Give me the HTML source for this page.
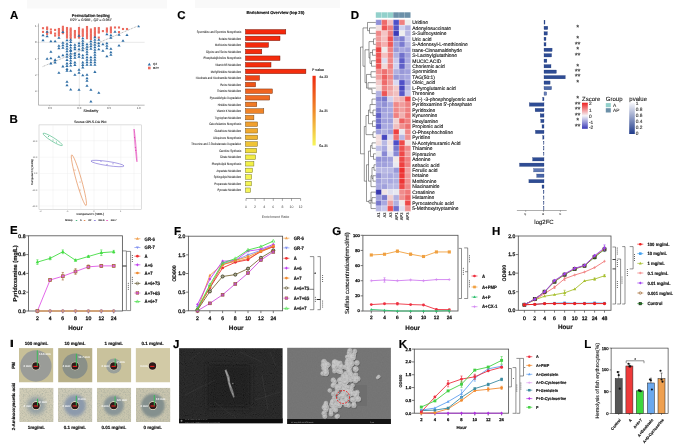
<!DOCTYPE html>
<html><head><meta charset="utf-8"><style>
html,body{margin:0;padding:0;background:#fff;}
svg text{font-family:"Liberation Sans", sans-serif;text-rendering:geometricPrecision;opacity:0.995;}
#fig{display:block;}
</style></head><body>
<svg id="fig" width="685" height="447" viewBox="0 0 685 447">
<rect x="0" y="0" width="685" height="447" fill="#fff"/>
<text x="10.00" y="18.80" font-size="11.5" text-anchor="start" fill="#000" font-weight="bold" stroke="#000" stroke-width="0.16">A</text>
<rect x="27.00" y="0.00" width="140.00" height="8.50" fill="#f9f9f9"/>
<rect x="195.00" y="0.00" width="145.00" height="8.00" fill="#f9f9f9"/>
<text x="90.85" y="16.90" font-size="4.05" text-anchor="middle" fill="#222" font-weight="bold" stroke="#222" stroke-width="0.16">Permutation testing</text>
<text x="90.85" y="21.20" font-size="3.66" text-anchor="middle" fill="#333" stroke="#333" stroke-width="0.12" font-style="italic">R2Y = 0.988 ,  Q2 = 0.957</text>
<line x1="38.50" y1="42.30" x2="144.60" y2="42.30" stroke="#d0d0d0" stroke-width="0.5"/>
<line x1="79.30" y1="23.50" x2="79.30" y2="105.20" stroke="#d0d0d0" stroke-width="0.5"/>
<line x1="38.50" y1="23.50" x2="38.50" y2="105.20" stroke="#777" stroke-width="0.5"/>
<line x1="38.50" y1="105.20" x2="144.60" y2="105.20" stroke="#777" stroke-width="0.5"/>
<text x="36.50" y="27.05" font-size="2.8" text-anchor="end" fill="#444">1</text>
<line x1="37.50" y1="26.05" x2="38.50" y2="26.05" stroke="#777" stroke-width="0.4"/>
<text x="36.50" y="43.30" font-size="2.8" text-anchor="end" fill="#444">0</text>
<line x1="37.50" y1="42.30" x2="38.50" y2="42.30" stroke="#777" stroke-width="0.4"/>
<text x="36.50" y="59.55" font-size="2.8" text-anchor="end" fill="#444">-1</text>
<line x1="37.50" y1="58.55" x2="38.50" y2="58.55" stroke="#777" stroke-width="0.4"/>
<text x="36.50" y="75.80" font-size="2.8" text-anchor="end" fill="#444">-2</text>
<line x1="37.50" y1="74.80" x2="38.50" y2="74.80" stroke="#777" stroke-width="0.4"/>
<text x="36.50" y="92.05" font-size="2.8" text-anchor="end" fill="#444">-3</text>
<line x1="37.50" y1="91.05" x2="38.50" y2="91.05" stroke="#777" stroke-width="0.4"/>
<text x="49.60" y="108.60" font-size="2.8" text-anchor="middle" fill="#444">-0.5</text>
<line x1="49.60" y1="105.20" x2="49.60" y2="106.20" stroke="#777" stroke-width="0.4"/>
<text x="79.30" y="108.60" font-size="2.8" text-anchor="middle" fill="#444">0.0</text>
<line x1="79.30" y1="105.20" x2="79.30" y2="106.20" stroke="#777" stroke-width="0.4"/>
<text x="109.00" y="108.60" font-size="2.8" text-anchor="middle" fill="#444">0.5</text>
<line x1="109.00" y1="105.20" x2="109.00" y2="106.20" stroke="#777" stroke-width="0.4"/>
<text x="138.70" y="108.60" font-size="2.8" text-anchor="middle" fill="#444">1.0</text>
<line x1="138.70" y1="105.20" x2="138.70" y2="106.20" stroke="#777" stroke-width="0.4"/>
<text x="90.90" y="111.70" font-size="3.6" text-anchor="middle" fill="#222" stroke="#222" stroke-width="0.12">Similarity</text>
<line x1="42.70" y1="66.60" x2="138.70" y2="25.60" stroke="#555" stroke-width="0.5" stroke-dasharray="0.8,0.8"/>
<rect x="41.95" y="27.15" width="2.10" height="2.10" fill="#ec6a5e"/>
<rect x="41.95" y="30.85" width="2.10" height="2.10" fill="#ec6a5e"/>
<rect x="46.05" y="26.45" width="2.10" height="2.10" fill="#ec6a5e"/>
<rect x="46.05" y="27.95" width="2.10" height="2.10" fill="#ec6a5e"/>
<rect x="46.05" y="30.85" width="2.10" height="2.10" fill="#ec6a5e"/>
<rect x="46.05" y="32.85" width="2.10" height="2.10" fill="#ec6a5e"/>
<rect x="49.85" y="28.45" width="2.10" height="2.10" fill="#ec6a5e"/>
<rect x="49.85" y="31.05" width="2.10" height="2.10" fill="#ec6a5e"/>
<rect x="49.85" y="32.05" width="2.10" height="2.10" fill="#ec6a5e"/>
<rect x="54.05" y="28.85" width="2.10" height="2.10" fill="#ec6a5e"/>
<rect x="54.05" y="32.55" width="2.10" height="2.10" fill="#ec6a5e"/>
<rect x="54.05" y="34.55" width="2.10" height="2.10" fill="#ec6a5e"/>
<rect x="57.85" y="27.95" width="2.10" height="2.10" fill="#ec6a5e"/>
<rect x="57.85" y="29.55" width="2.10" height="2.10" fill="#ec6a5e"/>
<rect x="57.85" y="31.15" width="2.10" height="2.10" fill="#ec6a5e"/>
<rect x="57.85" y="32.75" width="2.10" height="2.10" fill="#ec6a5e"/>
<rect x="57.85" y="34.35" width="2.10" height="2.10" fill="#ec6a5e"/>
<rect x="61.85" y="25.75" width="2.10" height="2.10" fill="#ec6a5e"/>
<rect x="61.85" y="27.35" width="2.10" height="2.10" fill="#ec6a5e"/>
<rect x="61.85" y="28.95" width="2.10" height="2.10" fill="#ec6a5e"/>
<rect x="61.85" y="30.55" width="2.10" height="2.10" fill="#ec6a5e"/>
<rect x="61.85" y="32.15" width="2.10" height="2.10" fill="#ec6a5e"/>
<rect x="65.95" y="26.95" width="2.10" height="2.10" fill="#ec6a5e"/>
<rect x="65.95" y="28.55" width="2.10" height="2.10" fill="#ec6a5e"/>
<rect x="65.95" y="30.15" width="2.10" height="2.10" fill="#ec6a5e"/>
<rect x="65.95" y="31.75" width="2.10" height="2.10" fill="#ec6a5e"/>
<rect x="65.95" y="33.35" width="2.10" height="2.10" fill="#ec6a5e"/>
<rect x="65.95" y="34.95" width="2.10" height="2.10" fill="#ec6a5e"/>
<rect x="65.95" y="36.55" width="2.10" height="2.10" fill="#ec6a5e"/>
<rect x="69.65" y="27.45" width="2.10" height="2.10" fill="#ec6a5e"/>
<rect x="69.65" y="29.05" width="2.10" height="2.10" fill="#ec6a5e"/>
<rect x="69.65" y="30.65" width="2.10" height="2.10" fill="#ec6a5e"/>
<rect x="69.65" y="32.25" width="2.10" height="2.10" fill="#ec6a5e"/>
<rect x="69.65" y="33.85" width="2.10" height="2.10" fill="#ec6a5e"/>
<rect x="69.65" y="35.45" width="2.10" height="2.10" fill="#ec6a5e"/>
<rect x="69.65" y="37.05" width="2.10" height="2.10" fill="#ec6a5e"/>
<rect x="73.85" y="29.95" width="2.10" height="2.10" fill="#ec6a5e"/>
<rect x="73.85" y="31.55" width="2.10" height="2.10" fill="#ec6a5e"/>
<rect x="73.85" y="33.15" width="2.10" height="2.10" fill="#ec6a5e"/>
<rect x="73.85" y="34.75" width="2.10" height="2.10" fill="#ec6a5e"/>
<rect x="73.85" y="36.35" width="2.10" height="2.10" fill="#ec6a5e"/>
<rect x="77.95" y="26.95" width="2.10" height="2.10" fill="#ec6a5e"/>
<rect x="77.95" y="28.55" width="2.10" height="2.10" fill="#ec6a5e"/>
<rect x="77.95" y="30.15" width="2.10" height="2.10" fill="#ec6a5e"/>
<rect x="77.95" y="31.75" width="2.10" height="2.10" fill="#ec6a5e"/>
<rect x="77.95" y="33.35" width="2.10" height="2.10" fill="#ec6a5e"/>
<rect x="77.95" y="34.95" width="2.10" height="2.10" fill="#ec6a5e"/>
<rect x="77.95" y="36.55" width="2.10" height="2.10" fill="#ec6a5e"/>
<rect x="81.75" y="28.45" width="2.10" height="2.10" fill="#ec6a5e"/>
<rect x="81.75" y="30.05" width="2.10" height="2.10" fill="#ec6a5e"/>
<rect x="81.75" y="31.65" width="2.10" height="2.10" fill="#ec6a5e"/>
<rect x="81.75" y="33.25" width="2.10" height="2.10" fill="#ec6a5e"/>
<rect x="81.75" y="34.85" width="2.10" height="2.10" fill="#ec6a5e"/>
<rect x="85.95" y="25.95" width="2.10" height="2.10" fill="#ec6a5e"/>
<rect x="85.95" y="27.55" width="2.10" height="2.10" fill="#ec6a5e"/>
<rect x="85.95" y="29.15" width="2.10" height="2.10" fill="#ec6a5e"/>
<rect x="85.95" y="30.75" width="2.10" height="2.10" fill="#ec6a5e"/>
<rect x="85.95" y="32.35" width="2.10" height="2.10" fill="#ec6a5e"/>
<rect x="85.95" y="33.95" width="2.10" height="2.10" fill="#ec6a5e"/>
<rect x="85.95" y="35.55" width="2.10" height="2.10" fill="#ec6a5e"/>
<rect x="85.95" y="37.15" width="2.10" height="2.10" fill="#ec6a5e"/>
<rect x="89.85" y="28.45" width="2.10" height="2.10" fill="#ec6a5e"/>
<rect x="89.85" y="30.05" width="2.10" height="2.10" fill="#ec6a5e"/>
<rect x="89.85" y="31.65" width="2.10" height="2.10" fill="#ec6a5e"/>
<rect x="89.85" y="33.25" width="2.10" height="2.10" fill="#ec6a5e"/>
<rect x="89.85" y="34.85" width="2.10" height="2.10" fill="#ec6a5e"/>
<rect x="89.85" y="36.45" width="2.10" height="2.10" fill="#ec6a5e"/>
<rect x="89.85" y="38.05" width="2.10" height="2.10" fill="#ec6a5e"/>
<rect x="93.85" y="27.15" width="2.10" height="2.10" fill="#ec6a5e"/>
<rect x="93.85" y="28.75" width="2.10" height="2.10" fill="#ec6a5e"/>
<rect x="93.85" y="30.35" width="2.10" height="2.10" fill="#ec6a5e"/>
<rect x="93.85" y="31.95" width="2.10" height="2.10" fill="#ec6a5e"/>
<rect x="93.85" y="33.55" width="2.10" height="2.10" fill="#ec6a5e"/>
<rect x="93.85" y="35.15" width="2.10" height="2.10" fill="#ec6a5e"/>
<rect x="97.75" y="26.95" width="2.10" height="2.10" fill="#ec6a5e"/>
<rect x="97.75" y="28.75" width="2.10" height="2.10" fill="#ec6a5e"/>
<rect x="97.75" y="30.55" width="2.10" height="2.10" fill="#ec6a5e"/>
<rect x="97.75" y="31.55" width="2.10" height="2.10" fill="#ec6a5e"/>
<rect x="97.75" y="36.55" width="2.10" height="2.10" fill="#ec6a5e"/>
<rect x="101.85" y="30.05" width="2.10" height="2.10" fill="#ec6a5e"/>
<rect x="105.85" y="27.45" width="2.10" height="2.10" fill="#ec6a5e"/>
<rect x="105.85" y="29.05" width="2.10" height="2.10" fill="#ec6a5e"/>
<rect x="105.85" y="30.65" width="2.10" height="2.10" fill="#ec6a5e"/>
<rect x="109.85" y="26.45" width="2.10" height="2.10" fill="#ec6a5e"/>
<rect x="109.85" y="28.05" width="2.10" height="2.10" fill="#ec6a5e"/>
<rect x="109.85" y="29.65" width="2.10" height="2.10" fill="#ec6a5e"/>
<rect x="109.85" y="31.25" width="2.10" height="2.10" fill="#ec6a5e"/>
<rect x="113.95" y="26.45" width="2.10" height="2.10" fill="#ec6a5e"/>
<rect x="117.95" y="26.45" width="2.10" height="2.10" fill="#ec6a5e"/>
<rect x="117.95" y="31.05" width="2.10" height="2.10" fill="#ec6a5e"/>
<rect x="121.95" y="27.95" width="2.10" height="2.10" fill="#ec6a5e"/>
<rect x="125.95" y="27.95" width="2.10" height="2.10" fill="#ec6a5e"/>
<polygon points="43.00,33.65 41.40,36.20 44.60,36.20" fill="#2f6ea5"/>
<polygon points="43.00,38.65 41.40,41.20 44.60,41.20" fill="#2f6ea5"/>
<polygon points="47.10,30.15 45.50,32.70 48.70,32.70" fill="#2f6ea5"/>
<polygon points="47.10,34.65 45.50,37.20 48.70,37.20" fill="#2f6ea5"/>
<polygon points="47.10,57.25 45.50,59.80 48.70,59.80" fill="#2f6ea5"/>
<polygon points="50.90,39.65 49.30,42.20 52.50,42.20" fill="#2f6ea5"/>
<polygon points="50.90,50.25 49.30,52.80 52.50,52.80" fill="#2f6ea5"/>
<polygon points="50.90,56.75 49.30,59.30 52.50,59.30" fill="#2f6ea5"/>
<polygon points="50.90,61.85 49.30,64.40 52.50,64.40" fill="#2f6ea5"/>
<polygon points="55.10,39.65 53.50,42.20 56.70,42.20" fill="#2f6ea5"/>
<polygon points="55.10,58.35 53.50,60.90 56.70,60.90" fill="#2f6ea5"/>
<polygon points="55.10,60.85 53.50,63.40 56.70,63.40" fill="#2f6ea5"/>
<polygon points="58.90,36.15 57.30,38.70 60.50,38.70" fill="#2f6ea5"/>
<polygon points="58.90,44.25 57.30,46.80 60.50,46.80" fill="#2f6ea5"/>
<polygon points="58.90,46.75 57.30,49.30 60.50,49.30" fill="#2f6ea5"/>
<polygon points="58.90,55.25 57.30,57.80 60.50,57.80" fill="#2f6ea5"/>
<polygon points="58.90,71.15 57.30,73.70 60.50,73.70" fill="#2f6ea5"/>
<polygon points="62.90,30.55 61.30,33.10 64.50,33.10" fill="#2f6ea5"/>
<polygon points="62.90,41.15 61.30,43.70 64.50,43.70" fill="#2f6ea5"/>
<polygon points="62.90,43.65 61.30,46.20 64.50,46.20" fill="#2f6ea5"/>
<polygon points="62.90,46.15 61.30,48.70 64.50,48.70" fill="#2f6ea5"/>
<polygon points="62.90,53.75 61.30,56.30 64.50,56.30" fill="#2f6ea5"/>
<polygon points="62.90,64.85 61.30,67.40 64.50,67.40" fill="#2f6ea5"/>
<polygon points="67.00,38.65 65.40,41.20 68.60,41.20" fill="#2f6ea5"/>
<polygon points="67.00,42.15 65.40,44.70 68.60,44.70" fill="#2f6ea5"/>
<polygon points="67.00,44.65 65.40,47.20 68.60,47.20" fill="#2f6ea5"/>
<polygon points="67.00,47.15 65.40,49.70 68.60,49.70" fill="#2f6ea5"/>
<polygon points="67.00,49.75 65.40,52.30 68.60,52.30" fill="#2f6ea5"/>
<polygon points="67.00,52.75 65.40,55.30 68.60,55.30" fill="#2f6ea5"/>
<polygon points="67.00,55.25 65.40,57.80 68.60,57.80" fill="#2f6ea5"/>
<polygon points="67.00,58.35 65.40,60.90 68.60,60.90" fill="#2f6ea5"/>
<polygon points="67.00,61.85 65.40,64.40 68.60,64.40" fill="#2f6ea5"/>
<polygon points="67.00,64.35 65.40,66.90 68.60,66.90" fill="#2f6ea5"/>
<polygon points="67.00,67.55 65.40,70.10 68.60,70.10" fill="#2f6ea5"/>
<polygon points="67.00,69.15 65.40,71.70 68.60,71.70" fill="#2f6ea5"/>
<polygon points="67.00,80.15 65.40,82.70 68.60,82.70" fill="#2f6ea5"/>
<polygon points="67.00,83.75 65.40,86.30 68.60,86.30" fill="#2f6ea5"/>
<polygon points="70.70,38.15 69.10,40.70 72.30,40.70" fill="#2f6ea5"/>
<polygon points="70.70,40.55 69.10,43.10 72.30,43.10" fill="#2f6ea5"/>
<polygon points="70.70,43.55 69.10,46.10 72.30,46.10" fill="#2f6ea5"/>
<polygon points="70.70,46.05 69.10,48.60 72.30,48.60" fill="#2f6ea5"/>
<polygon points="70.70,48.55 69.10,51.10 72.30,51.10" fill="#2f6ea5"/>
<polygon points="70.70,49.55 69.10,52.10 72.30,52.10" fill="#2f6ea5"/>
<polygon points="70.70,52.05 69.10,54.60 72.30,54.60" fill="#2f6ea5"/>
<polygon points="70.70,54.55 69.10,57.10 72.30,57.10" fill="#2f6ea5"/>
<polygon points="70.70,56.55 69.10,59.10 72.30,59.10" fill="#2f6ea5"/>
<polygon points="70.70,59.05 69.10,61.60 72.30,61.60" fill="#2f6ea5"/>
<polygon points="70.70,61.55 69.10,64.10 72.30,64.10" fill="#2f6ea5"/>
<polygon points="70.70,64.05 69.10,66.60 72.30,66.60" fill="#2f6ea5"/>
<polygon points="70.70,69.15 69.10,71.70 72.30,71.70" fill="#2f6ea5"/>
<polygon points="70.70,87.95 69.10,90.50 72.30,90.50" fill="#2f6ea5"/>
<polygon points="74.90,43.15 73.30,45.70 76.50,45.70" fill="#2f6ea5"/>
<polygon points="74.90,45.65 73.30,48.20 76.50,48.20" fill="#2f6ea5"/>
<polygon points="74.90,47.75 73.30,50.30 76.50,50.30" fill="#2f6ea5"/>
<polygon points="74.90,51.75 73.30,54.30 76.50,54.30" fill="#2f6ea5"/>
<polygon points="74.90,53.75 73.30,56.30 76.50,56.30" fill="#2f6ea5"/>
<polygon points="74.90,56.25 73.30,58.80 76.50,58.80" fill="#2f6ea5"/>
<polygon points="74.90,60.85 73.30,63.40 76.50,63.40" fill="#2f6ea5"/>
<polygon points="74.90,63.35 73.30,65.90 76.50,65.90" fill="#2f6ea5"/>
<polygon points="74.90,73.15 73.30,75.70 76.50,75.70" fill="#2f6ea5"/>
<polygon points="79.00,34.15 77.40,36.70 80.60,36.70" fill="#2f6ea5"/>
<polygon points="79.00,41.65 77.40,44.20 80.60,44.20" fill="#2f6ea5"/>
<polygon points="79.00,44.15 77.40,46.70 80.60,46.70" fill="#2f6ea5"/>
<polygon points="79.00,47.75 77.40,50.30 80.60,50.30" fill="#2f6ea5"/>
<polygon points="79.00,52.75 77.40,55.30 80.60,55.30" fill="#2f6ea5"/>
<polygon points="79.00,55.25 77.40,57.80 80.60,57.80" fill="#2f6ea5"/>
<polygon points="79.00,68.15 77.40,70.70 80.60,70.70" fill="#2f6ea5"/>
<polygon points="79.00,71.15 77.40,73.70 80.60,73.70" fill="#2f6ea5"/>
<polygon points="79.00,88.25 77.40,90.80 80.60,90.80" fill="#2f6ea5"/>
<polygon points="82.80,36.65 81.20,39.20 84.40,39.20" fill="#2f6ea5"/>
<polygon points="82.80,39.15 81.20,41.70 84.40,41.70" fill="#2f6ea5"/>
<polygon points="82.80,41.65 81.20,44.20 84.40,44.20" fill="#2f6ea5"/>
<polygon points="82.80,43.75 81.20,46.30 84.40,46.30" fill="#2f6ea5"/>
<polygon points="82.80,46.25 81.20,48.80 84.40,48.80" fill="#2f6ea5"/>
<polygon points="82.80,48.75 81.20,51.30 84.40,51.30" fill="#2f6ea5"/>
<polygon points="82.80,53.75 81.20,56.30 84.40,56.30" fill="#2f6ea5"/>
<polygon points="82.80,56.25 81.20,58.80 84.40,58.80" fill="#2f6ea5"/>
<polygon points="82.80,60.85 81.20,63.40 84.40,63.40" fill="#2f6ea5"/>
<polygon points="82.80,63.35 81.20,65.90 84.40,65.90" fill="#2f6ea5"/>
<polygon points="82.80,65.85 81.20,68.40 84.40,68.40" fill="#2f6ea5"/>
<polygon points="82.80,73.65 81.20,76.20 84.40,76.20" fill="#2f6ea5"/>
<polygon points="87.00,42.65 85.40,45.20 88.60,45.20" fill="#2f6ea5"/>
<polygon points="87.00,45.15 85.40,47.70 88.60,47.70" fill="#2f6ea5"/>
<polygon points="87.00,47.65 85.40,50.20 88.60,50.20" fill="#2f6ea5"/>
<polygon points="87.00,50.15 85.40,52.70 88.60,52.70" fill="#2f6ea5"/>
<polygon points="87.00,52.65 85.40,55.20 88.60,55.20" fill="#2f6ea5"/>
<polygon points="87.00,55.75 85.40,58.30 88.60,58.30" fill="#2f6ea5"/>
<polygon points="87.00,58.25 85.40,60.80 88.60,60.80" fill="#2f6ea5"/>
<polygon points="87.00,60.75 85.40,63.30 88.60,63.30" fill="#2f6ea5"/>
<polygon points="87.00,63.25 85.40,65.80 88.60,65.80" fill="#2f6ea5"/>
<polygon points="87.00,73.15 85.40,75.70 88.60,75.70" fill="#2f6ea5"/>
<polygon points="87.00,76.65 85.40,79.20 88.60,79.20" fill="#2f6ea5"/>
<polygon points="87.00,79.15 85.40,81.70 88.60,81.70" fill="#2f6ea5"/>
<polygon points="87.00,84.25 85.40,86.80 88.60,86.80" fill="#2f6ea5"/>
<polygon points="90.90,39.65 89.30,42.20 92.50,42.20" fill="#2f6ea5"/>
<polygon points="90.90,42.15 89.30,44.70 92.50,44.70" fill="#2f6ea5"/>
<polygon points="90.90,44.65 89.30,47.20 92.50,47.20" fill="#2f6ea5"/>
<polygon points="90.90,47.15 89.30,49.70 92.50,49.70" fill="#2f6ea5"/>
<polygon points="90.90,55.75 89.30,58.30 92.50,58.30" fill="#2f6ea5"/>
<polygon points="90.90,58.25 89.30,60.80 92.50,60.80" fill="#2f6ea5"/>
<polygon points="90.90,60.75 89.30,63.30 92.50,63.30" fill="#2f6ea5"/>
<polygon points="90.90,63.25 89.30,65.80 92.50,65.80" fill="#2f6ea5"/>
<polygon points="90.90,88.25 89.30,90.80 92.50,90.80" fill="#2f6ea5"/>
<polygon points="90.90,100.05 89.30,102.60 92.50,102.60" fill="#2f6ea5"/>
<polygon points="94.90,35.65 93.30,38.20 96.50,38.20" fill="#2f6ea5"/>
<polygon points="94.90,38.15 93.30,40.70 96.50,40.70" fill="#2f6ea5"/>
<polygon points="94.90,40.65 93.30,43.20 96.50,43.20" fill="#2f6ea5"/>
<polygon points="94.90,43.15 93.30,45.70 96.50,45.70" fill="#2f6ea5"/>
<polygon points="94.90,45.65 93.30,48.20 96.50,48.20" fill="#2f6ea5"/>
<polygon points="94.90,48.15 93.30,50.70 96.50,50.70" fill="#2f6ea5"/>
<polygon points="94.90,50.65 93.30,53.20 96.50,53.20" fill="#2f6ea5"/>
<polygon points="94.90,53.15 93.30,55.70 96.50,55.70" fill="#2f6ea5"/>
<polygon points="94.90,55.65 93.30,58.20 96.50,58.20" fill="#2f6ea5"/>
<polygon points="94.90,58.15 93.30,60.70 96.50,60.70" fill="#2f6ea5"/>
<polygon points="94.90,60.65 93.30,63.20 96.50,63.20" fill="#2f6ea5"/>
<polygon points="94.90,63.15 93.30,65.70 96.50,65.70" fill="#2f6ea5"/>
<polygon points="94.90,70.35 93.30,72.90 96.50,72.90" fill="#2f6ea5"/>
<polygon points="98.80,38.15 97.20,40.70 100.40,40.70" fill="#2f6ea5"/>
<polygon points="98.80,41.65 97.20,44.20 100.40,44.20" fill="#2f6ea5"/>
<polygon points="98.80,44.25 97.20,46.80 100.40,46.80" fill="#2f6ea5"/>
<polygon points="98.80,47.75 97.20,50.30 100.40,50.30" fill="#2f6ea5"/>
<polygon points="98.80,91.25 97.20,93.80 100.40,93.80" fill="#2f6ea5"/>
<polygon points="102.90,42.65 101.30,45.20 104.50,45.20" fill="#2f6ea5"/>
<polygon points="102.90,49.25 101.30,51.80 104.50,51.80" fill="#2f6ea5"/>
<polygon points="106.90,32.65 105.30,35.20 108.50,35.20" fill="#2f6ea5"/>
<polygon points="106.90,41.65 105.30,44.20 108.50,44.20" fill="#2f6ea5"/>
<polygon points="106.90,44.15 105.30,46.70 108.50,46.70" fill="#2f6ea5"/>
<polygon points="106.90,46.65 105.30,49.20 108.50,49.20" fill="#2f6ea5"/>
<polygon points="106.90,54.75 105.30,57.30 108.50,57.30" fill="#2f6ea5"/>
<polygon points="110.90,33.65 109.30,36.20 112.50,36.20" fill="#2f6ea5"/>
<polygon points="110.90,36.15 109.30,38.70 112.50,38.70" fill="#2f6ea5"/>
<polygon points="110.90,47.25 109.30,49.80 112.50,49.80" fill="#2f6ea5"/>
<polygon points="110.90,50.75 109.30,53.30 112.50,53.30" fill="#2f6ea5"/>
<polygon points="110.90,53.25 109.30,55.80 112.50,55.80" fill="#2f6ea5"/>
<polygon points="115.00,30.15 113.40,32.70 116.60,32.70" fill="#2f6ea5"/>
<polygon points="119.00,33.15 117.40,35.70 120.60,35.70" fill="#2f6ea5"/>
<polygon points="119.00,43.95 117.40,46.50 120.60,46.50" fill="#2f6ea5"/>
<polygon points="123.00,39.15 121.40,41.70 124.60,41.70" fill="#2f6ea5"/>
<polygon points="127.00,33.45 125.40,36.00 128.60,36.00" fill="#2f6ea5"/>
<polygon points="138.70,25.00 137.35,27.20 140.05,27.20" fill="#2f6ea5"/>
<polygon points="149.30,62.80 147.70,65.60 150.90,65.60" fill="#2f6ea5"/>
<text x="153.10" y="65.40" font-size="3.0" text-anchor="start" fill="#333" stroke="#333" stroke-width="0.12">Q2</text>
<rect x="148.00" y="66.70" width="2.60" height="2.60" fill="#ec6a5e"/>
<text x="153.10" y="69.10" font-size="3.0" text-anchor="start" fill="#333" stroke="#333" stroke-width="0.12">R2Y</text>
<text x="9.60" y="122.60" font-size="11.5" text-anchor="start" fill="#000" font-weight="bold" stroke="#000" stroke-width="0.16">B</text>
<text x="90.30" y="123.40" font-size="3.3" text-anchor="middle" fill="#222" stroke="#222" stroke-width="0.12">Scores OPLS-DA Plot</text>
<rect x="39.00" y="124.90" width="102.70" height="84.50" fill="#fff" stroke="#bbb" stroke-width="0.5"/>
<line x1="53.00" y1="124.90" x2="53.00" y2="209.40" stroke="#ececec" stroke-width="0.4"/>
<line x1="67.50" y1="124.90" x2="67.50" y2="209.40" stroke="#ececec" stroke-width="0.4"/>
<line x1="80.80" y1="124.90" x2="80.80" y2="209.40" stroke="#ececec" stroke-width="0.4"/>
<line x1="94.00" y1="124.90" x2="94.00" y2="209.40" stroke="#ececec" stroke-width="0.4"/>
<line x1="107.50" y1="124.90" x2="107.50" y2="209.40" stroke="#ececec" stroke-width="0.4"/>
<line x1="120.80" y1="124.90" x2="120.80" y2="209.40" stroke="#ececec" stroke-width="0.4"/>
<line x1="134.00" y1="124.90" x2="134.00" y2="209.40" stroke="#ececec" stroke-width="0.4"/>
<line x1="39.00" y1="140.70" x2="141.70" y2="140.70" stroke="#ececec" stroke-width="0.4"/>
<line x1="39.00" y1="157.20" x2="141.70" y2="157.20" stroke="#ececec" stroke-width="0.4"/>
<line x1="39.00" y1="173.60" x2="141.70" y2="173.60" stroke="#ececec" stroke-width="0.4"/>
<line x1="39.00" y1="190.00" x2="141.70" y2="190.00" stroke="#ececec" stroke-width="0.4"/>
<line x1="39.00" y1="206.00" x2="141.70" y2="206.00" stroke="#ececec" stroke-width="0.4"/>
<text x="37.30" y="141.50" font-size="2.3" text-anchor="end" fill="#555">20.0</text>
<text x="37.30" y="158.00" font-size="2.3" text-anchor="end" fill="#555">10.0</text>
<text x="37.30" y="174.40" font-size="2.3" text-anchor="end" fill="#555">0.0</text>
<text x="37.30" y="190.80" font-size="2.3" text-anchor="end" fill="#555">-10.0</text>
<text x="37.30" y="206.80" font-size="2.3" text-anchor="end" fill="#555">-20.0</text>
<text x="40.50" y="212.30" font-size="2.3" text-anchor="middle" fill="#555">-2</text>
<text x="67.40" y="212.30" font-size="2.3" text-anchor="middle" fill="#555">-1</text>
<text x="94.00" y="212.30" font-size="2.3" text-anchor="middle" fill="#555">0</text>
<text x="120.60" y="212.30" font-size="2.3" text-anchor="middle" fill="#555">1</text>
<text x="32.60" y="172.00" font-size="2.6" text-anchor="middle" fill="#333" transform="rotate(-90 32.60 172.00)" stroke="#333" stroke-width="0.12">Component 2 (14.4%)</text>
<text x="90.30" y="215.20" font-size="2.9" text-anchor="middle" fill="#333" stroke="#333" stroke-width="0.12">Component 1 ( 58% )</text>
<ellipse cx="52.70" cy="139.40" rx="11.30" ry="1.90" transform="rotate(32 52.70 139.40)" fill="none" stroke="#3cb37a" stroke-width="0.55"/>
<ellipse cx="78.90" cy="180.20" rx="26.30" ry="2.60" transform="rotate(74.2 78.90 180.20)" fill="none" stroke="#e07b3a" stroke-width="0.55"/>
<ellipse cx="107.50" cy="163.50" rx="16.70" ry="2.10" transform="rotate(8.5 107.50 163.50)" fill="none" stroke="#6a5ad0" stroke-width="0.55"/>
<ellipse cx="135.50" cy="145.40" rx="16.40" ry="0.45" transform="rotate(84.9 135.50 145.40)" fill="none" stroke="#e030b0" stroke-width="0.55"/>
<circle cx="48.50" cy="136.50" r="0.50" fill="#3cb37a"/>
<circle cx="53.00" cy="140.00" r="0.50" fill="#3cb37a"/>
<circle cx="56.50" cy="142.00" r="0.50" fill="#3cb37a"/>
<circle cx="75.00" cy="170.00" r="0.50" fill="#e07b3a"/>
<circle cx="80.00" cy="182.00" r="0.50" fill="#e07b3a"/>
<circle cx="80.00" cy="190.00" r="0.50" fill="#e07b3a"/>
<circle cx="101.00" cy="161.30" r="0.50" fill="#6a5ad0"/>
<circle cx="107.00" cy="164.40" r="0.50" fill="#6a5ad0"/>
<circle cx="113.00" cy="163.80" r="0.50" fill="#6a5ad0"/>
<circle cx="134.60" cy="137.50" r="0.50" fill="#e030b0"/>
<circle cx="135.30" cy="147.50" r="0.50" fill="#e030b0"/>
<circle cx="135.80" cy="150.50" r="0.50" fill="#e030b0"/>
<text x="68.80" y="221.40" font-size="2.7" text-anchor="middle" fill="#333" stroke="#333" stroke-width="0.12">Group</text>
<line x1="75.50" y1="220.50" x2="77.50" y2="220.50" stroke="#3cb37a" stroke-width="0.4"/>
<circle cx="76.50" cy="220.50" r="0.55" fill="#3cb37a"/>
<text x="80.10" y="221.40" font-size="2.5" text-anchor="start" fill="#333" stroke="#333" stroke-width="0.12">A</text>
<line x1="83.60" y1="220.50" x2="85.60" y2="220.50" stroke="#e07b3a" stroke-width="0.4"/>
<circle cx="84.60" cy="220.50" r="0.55" fill="#e07b3a"/>
<text x="88.20" y="221.40" font-size="2.5" text-anchor="start" fill="#333" stroke="#333" stroke-width="0.12">AP</text>
<line x1="93.90" y1="220.50" x2="95.90" y2="220.50" stroke="#6a5ad0" stroke-width="0.4"/>
<circle cx="94.90" cy="220.50" r="0.55" fill="#6a5ad0"/>
<text x="98.50" y="221.40" font-size="2.5" text-anchor="start" fill="#333" stroke="#333" stroke-width="0.12">GR-6</text>
<line x1="106.10" y1="220.50" x2="108.10" y2="220.50" stroke="#e030b0" stroke-width="0.4"/>
<circle cx="107.10" cy="220.50" r="0.55" fill="#e030b0"/>
<text x="110.70" y="221.40" font-size="2.5" text-anchor="start" fill="#333" stroke="#333" stroke-width="0.12">GR-7</text>
<text x="177.30" y="18.80" font-size="11.5" text-anchor="start" fill="#000" font-weight="bold" stroke="#000" stroke-width="0.16">C</text>
<text x="275.40" y="14.30" font-size="4.1" text-anchor="middle" fill="#111" font-weight="bold" stroke="#111" stroke-width="0.16">Enrichment Overview (top 25)</text>
<rect x="245.50" y="29.55" width="40.30" height="4.50" fill="#f4280c" stroke="#6d1205" stroke-width="0.45"/>
<text x="0.00" y="0.00" font-size="3.4" text-anchor="end" fill="#333" transform="translate(241.20 33.00) scale(0.75 1)" stroke="#333" stroke-width="0.08">Spermidine and Spermine Biosynthesis</text>
<rect x="245.50" y="36.15" width="34.50" height="4.50" fill="#f4290c" stroke="#6d1205" stroke-width="0.45"/>
<text x="0.00" y="0.00" font-size="3.4" text-anchor="end" fill="#333" transform="translate(241.20 39.60) scale(0.75 1)" stroke="#333" stroke-width="0.08">Betaine Metabolism</text>
<rect x="245.50" y="42.75" width="23.00" height="4.50" fill="#f42a0c" stroke="#6d1205" stroke-width="0.45"/>
<text x="0.00" y="0.00" font-size="3.4" text-anchor="end" fill="#333" transform="translate(241.20 46.20) scale(0.75 1)" stroke="#333" stroke-width="0.08">Methionine Metabolism</text>
<rect x="245.50" y="49.35" width="16.30" height="4.50" fill="#f42b0c" stroke="#6d1305" stroke-width="0.45"/>
<text x="0.00" y="0.00" font-size="3.4" text-anchor="end" fill="#333" transform="translate(241.20 52.80) scale(0.75 1)" stroke="#333" stroke-width="0.08">Glycine and Serine Metabolism</text>
<rect x="245.50" y="55.95" width="34.50" height="4.50" fill="#f42c0d" stroke="#6d1305" stroke-width="0.45"/>
<text x="0.00" y="0.00" font-size="3.4" text-anchor="end" fill="#333" transform="translate(241.20 59.40) scale(0.75 1)" stroke="#333" stroke-width="0.08">Phosphatidylcholine Biosynthesis</text>
<rect x="245.50" y="62.55" width="25.50" height="4.50" fill="#f42d0d" stroke="#6d1405" stroke-width="0.45"/>
<text x="0.00" y="0.00" font-size="3.4" text-anchor="end" fill="#333" transform="translate(241.20 66.00) scale(0.75 1)" stroke="#333" stroke-width="0.08">Vitamin B6 Metabolism</text>
<rect x="245.50" y="69.15" width="60.40" height="4.50" fill="#f42e0e" stroke="#6d1406" stroke-width="0.45"/>
<text x="0.00" y="0.00" font-size="3.4" text-anchor="end" fill="#333" transform="translate(241.20 72.60) scale(0.75 1)" stroke="#333" stroke-width="0.08">Methylhistidine Metabolism</text>
<rect x="245.50" y="75.75" width="14.00" height="4.50" fill="#f04416" stroke="#6c1e09" stroke-width="0.45"/>
<text x="0.00" y="0.00" font-size="3.4" text-anchor="end" fill="#333" transform="translate(241.20 79.20) scale(0.75 1)" stroke="#333" stroke-width="0.08">Nicotinate and Nicotinamide Metabolism</text>
<rect x="245.50" y="82.35" width="10.10" height="4.50" fill="#f05418" stroke="#6c250a" stroke-width="0.45"/>
<text x="0.00" y="0.00" font-size="3.4" text-anchor="end" fill="#333" transform="translate(241.20 85.80) scale(0.75 1)" stroke="#333" stroke-width="0.08">Purine Metabolism</text>
<rect x="245.50" y="88.95" width="26.90" height="4.50" fill="#f06420" stroke="#6c2d0e" stroke-width="0.45"/>
<text x="0.00" y="0.00" font-size="3.4" text-anchor="end" fill="#333" transform="translate(241.20 92.40) scale(0.75 1)" stroke="#333" stroke-width="0.08">Thiamine Metabolism</text>
<rect x="245.50" y="95.55" width="24.20" height="4.50" fill="#f06a22" stroke="#6c2f0f" stroke-width="0.45"/>
<text x="0.00" y="0.00" font-size="3.4" text-anchor="end" fill="#333" transform="translate(241.20 99.00) scale(0.75 1)" stroke="#333" stroke-width="0.08">Pyruvaldehyde Degradation</text>
<rect x="245.50" y="102.15" width="11.30" height="4.50" fill="#f07a26" stroke="#6c3611" stroke-width="0.45"/>
<text x="0.00" y="0.00" font-size="3.4" text-anchor="end" fill="#333" transform="translate(241.20 105.60) scale(0.75 1)" stroke="#333" stroke-width="0.08">Histidine Metabolism</text>
<rect x="245.50" y="108.75" width="18.30" height="4.50" fill="#f08428" stroke="#6c3b12" stroke-width="0.45"/>
<text x="0.00" y="0.00" font-size="3.4" text-anchor="end" fill="#333" transform="translate(241.20 112.20) scale(0.75 1)" stroke="#333" stroke-width="0.08">Vitamin K Metabolism</text>
<rect x="245.50" y="115.35" width="8.40" height="4.50" fill="#f0902a" stroke="#6c4012" stroke-width="0.45"/>
<text x="0.00" y="0.00" font-size="3.4" text-anchor="end" fill="#333" transform="translate(241.20 118.80) scale(0.75 1)" stroke="#333" stroke-width="0.08">Tryptophan Metabolism</text>
<rect x="245.50" y="121.95" width="12.10" height="4.50" fill="#f0a02e" stroke="#6c4814" stroke-width="0.45"/>
<text x="0.00" y="0.00" font-size="3.4" text-anchor="end" fill="#333" transform="translate(241.20 125.40) scale(0.75 1)" stroke="#333" stroke-width="0.08">Catecholamine Biosynthesis</text>
<rect x="245.50" y="128.55" width="12.10" height="4.50" fill="#f0aa30" stroke="#6c4c15" stroke-width="0.45"/>
<text x="0.00" y="0.00" font-size="3.4" text-anchor="end" fill="#333" transform="translate(241.20 132.00) scale(0.75 1)" stroke="#333" stroke-width="0.08">Glutathione Metabolism</text>
<rect x="245.50" y="135.15" width="12.10" height="4.50" fill="#f0b632" stroke="#6c5116" stroke-width="0.45"/>
<text x="0.00" y="0.00" font-size="3.4" text-anchor="end" fill="#333" transform="translate(241.20 138.60) scale(0.75 1)" stroke="#333" stroke-width="0.08">Ubiquinone Biosynthesis</text>
<rect x="245.50" y="141.75" width="11.90" height="4.50" fill="#f0c436" stroke="#6c5818" stroke-width="0.45"/>
<text x="0.00" y="0.00" font-size="3.4" text-anchor="end" fill="#333" transform="translate(241.20 145.20) scale(0.75 1)" stroke="#333" stroke-width="0.08">Threonine and 2-Oxobutanoate Degradation</text>
<rect x="245.50" y="148.35" width="11.10" height="4.50" fill="#f0dc3c" stroke="#6c631b" stroke-width="0.45"/>
<text x="0.00" y="0.00" font-size="3.4" text-anchor="end" fill="#333" transform="translate(241.20 151.80) scale(0.75 1)" stroke="#333" stroke-width="0.08">Carnitine Synthesis</text>
<rect x="245.50" y="154.95" width="10.00" height="4.50" fill="#f2ec44" stroke="#6c6a1e" stroke-width="0.45"/>
<text x="0.00" y="0.00" font-size="3.4" text-anchor="end" fill="#333" transform="translate(241.20 158.40) scale(0.75 1)" stroke="#333" stroke-width="0.08">Citrate Metabolism</text>
<rect x="245.50" y="161.55" width="8.40" height="4.50" fill="#f2f048" stroke="#6c6c20" stroke-width="0.45"/>
<text x="0.00" y="0.00" font-size="3.4" text-anchor="end" fill="#333" transform="translate(241.20 165.00) scale(0.75 1)" stroke="#333" stroke-width="0.08">Phospholipid Biosynthesis</text>
<rect x="245.50" y="168.15" width="7.00" height="4.50" fill="#f4f44e" stroke="#6d6d23" stroke-width="0.45"/>
<text x="0.00" y="0.00" font-size="3.4" text-anchor="end" fill="#333" transform="translate(241.20 171.60) scale(0.75 1)" stroke="#333" stroke-width="0.08">Aspartate Metabolism</text>
<rect x="245.50" y="174.75" width="6.20" height="4.50" fill="#f4f452" stroke="#6d6d24" stroke-width="0.45"/>
<text x="0.00" y="0.00" font-size="3.4" text-anchor="end" fill="#333" transform="translate(241.20 178.20) scale(0.75 1)" stroke="#333" stroke-width="0.08">Sphingolipid Metabolism</text>
<rect x="245.50" y="181.35" width="6.00" height="4.50" fill="#f4f454" stroke="#6d6d25" stroke-width="0.45"/>
<text x="0.00" y="0.00" font-size="3.4" text-anchor="end" fill="#333" transform="translate(241.20 184.80) scale(0.75 1)" stroke="#333" stroke-width="0.08">Propanoate Metabolism</text>
<rect x="245.50" y="187.95" width="5.10" height="4.50" fill="#f4f458" stroke="#6d6d27" stroke-width="0.45"/>
<text x="0.00" y="0.00" font-size="3.4" text-anchor="end" fill="#333" transform="translate(241.20 191.40) scale(0.75 1)" stroke="#333" stroke-width="0.08">Pyruvate Metabolism</text>
<line x1="246.00" y1="198.50" x2="300.60" y2="198.50" stroke="#555" stroke-width="0.6"/>
<line x1="246.00" y1="198.50" x2="246.00" y2="200.90" stroke="#555" stroke-width="0.5"/>
<text x="246.00" y="208.00" font-size="3.5" text-anchor="middle" fill="#444">0</text>
<line x1="255.10" y1="198.50" x2="255.10" y2="200.90" stroke="#555" stroke-width="0.5"/>
<text x="255.10" y="208.00" font-size="3.5" text-anchor="middle" fill="#444">2</text>
<line x1="264.20" y1="198.50" x2="264.20" y2="200.90" stroke="#555" stroke-width="0.5"/>
<text x="264.20" y="208.00" font-size="3.5" text-anchor="middle" fill="#444">4</text>
<line x1="273.30" y1="198.50" x2="273.30" y2="200.90" stroke="#555" stroke-width="0.5"/>
<text x="273.30" y="208.00" font-size="3.5" text-anchor="middle" fill="#444">6</text>
<line x1="282.40" y1="198.50" x2="282.40" y2="200.90" stroke="#555" stroke-width="0.5"/>
<text x="282.40" y="208.00" font-size="3.5" text-anchor="middle" fill="#444">8</text>
<line x1="291.50" y1="198.50" x2="291.50" y2="200.90" stroke="#555" stroke-width="0.5"/>
<text x="291.50" y="208.00" font-size="3.5" text-anchor="middle" fill="#444">10</text>
<line x1="300.60" y1="198.50" x2="300.60" y2="200.90" stroke="#555" stroke-width="0.5"/>
<text x="300.60" y="208.00" font-size="3.5" text-anchor="middle" fill="#444">12</text>
<text x="275.50" y="217.60" font-size="3.6" text-anchor="middle" fill="#444">Enrichment Ratio</text>
<defs><linearGradient id="pg" x1="0" y1="0" x2="0" y2="1"><stop offset="0" stop-color="#ee2a10"/><stop offset="0.5" stop-color="#ef8a2a"/><stop offset="1" stop-color="#f6f65a"/></linearGradient></defs>
<text x="312.00" y="70.80" font-size="3.6" text-anchor="start" fill="#222" stroke="#222" stroke-width="0.12">P value</text>
<rect x="312.50" y="75.80" width="3.20" height="69.70" fill="url(#pg)"/>
<text x="319.30" y="78.00" font-size="3.4" text-anchor="start" fill="#222" stroke="#222" stroke-width="0.12">4e-33</text>
<text x="319.30" y="111.90" font-size="3.4" text-anchor="start" fill="#222" stroke="#222" stroke-width="0.12">3e-31</text>
<text x="319.30" y="147.40" font-size="3.4" text-anchor="start" fill="#222" stroke="#222" stroke-width="0.12">5e-31</text>
<text x="350.80" y="18.80" font-size="11.5" text-anchor="start" fill="#000" font-weight="bold" stroke="#000" stroke-width="0.16">D</text>
<rect x="375.80" y="12.30" width="5.62" height="5.50" fill="#92d0cb"/>
<rect x="381.62" y="12.30" width="5.62" height="5.50" fill="#92d0cb"/>
<rect x="387.44" y="12.30" width="5.62" height="5.50" fill="#92d0cb"/>
<rect x="393.26" y="12.30" width="5.62" height="5.50" fill="#6c90a8"/>
<rect x="399.08" y="12.30" width="5.62" height="5.50" fill="#6c90a8"/>
<rect x="404.90" y="12.30" width="5.62" height="5.50" fill="#6c90a8"/>
<rect x="375.80" y="19.70" width="5.87" height="5.52" fill="#9090d8"/>
<rect x="381.62" y="19.70" width="5.87" height="5.52" fill="#ee6a6a"/>
<rect x="387.44" y="19.70" width="5.87" height="5.52" fill="#f4c0c0"/>
<rect x="393.26" y="19.70" width="5.87" height="5.52" fill="#5050c8"/>
<rect x="399.08" y="19.70" width="5.87" height="5.52" fill="#f08080"/>
<rect x="404.90" y="19.70" width="5.87" height="5.52" fill="#eeeeee"/>
<text x="412.30" y="24.19" font-size="4.95" text-anchor="start" fill="#111" stroke="#111" stroke-width="0.12">Uridine</text>
<rect x="375.80" y="25.17" width="5.87" height="5.52" fill="#f0e0e0"/>
<rect x="381.62" y="25.17" width="5.87" height="5.52" fill="#ee5555"/>
<rect x="387.44" y="25.17" width="5.87" height="5.52" fill="#f08080"/>
<rect x="393.26" y="25.17" width="5.87" height="5.52" fill="#5555c5"/>
<rect x="399.08" y="25.17" width="5.87" height="5.52" fill="#d0d0ee"/>
<rect x="404.90" y="25.17" width="5.87" height="5.52" fill="#b0b0e0"/>
<text x="412.30" y="29.66" font-size="4.95" text-anchor="start" fill="#111" stroke="#111" stroke-width="0.12">Adenylosuccinate</text>
<rect x="375.80" y="30.65" width="5.87" height="5.52" fill="#f08888"/>
<rect x="381.62" y="30.65" width="5.87" height="5.52" fill="#f4c4c4"/>
<rect x="387.44" y="30.65" width="5.87" height="5.52" fill="#ef7f7f"/>
<rect x="393.26" y="30.65" width="5.87" height="5.52" fill="#3c3cb8"/>
<rect x="399.08" y="30.65" width="5.87" height="5.52" fill="#eeeeee"/>
<rect x="404.90" y="30.65" width="5.87" height="5.52" fill="#b8b8e4"/>
<text x="412.30" y="35.13" font-size="4.95" text-anchor="start" fill="#111" stroke="#111" stroke-width="0.12">S-Sulfocysteine</text>
<rect x="375.80" y="36.12" width="5.87" height="5.52" fill="#f09a9a"/>
<rect x="381.62" y="36.12" width="5.87" height="5.52" fill="#f4c0c0"/>
<rect x="387.44" y="36.12" width="5.87" height="5.52" fill="#ee5555"/>
<rect x="393.26" y="36.12" width="5.87" height="5.52" fill="#9090d8"/>
<rect x="399.08" y="36.12" width="5.87" height="5.52" fill="#8080d0"/>
<rect x="404.90" y="36.12" width="5.87" height="5.52" fill="#c8c8ec"/>
<text x="412.30" y="40.61" font-size="4.95" text-anchor="start" fill="#111" stroke="#111" stroke-width="0.12">Uric acid</text>
<rect x="375.80" y="41.60" width="5.87" height="5.52" fill="#f08888"/>
<rect x="381.62" y="41.60" width="5.87" height="5.52" fill="#f4b0b0"/>
<rect x="387.44" y="41.60" width="5.87" height="5.52" fill="#ee5a5a"/>
<rect x="393.26" y="41.60" width="5.87" height="5.52" fill="#a0a0dc"/>
<rect x="399.08" y="41.60" width="5.87" height="5.52" fill="#7a7ad0"/>
<rect x="404.90" y="41.60" width="5.87" height="5.52" fill="#b8b8e4"/>
<text x="412.30" y="46.08" font-size="4.95" text-anchor="start" fill="#111" stroke="#111" stroke-width="0.12">S-Adenosyl-L-methionine</text>
<rect x="375.80" y="47.07" width="5.87" height="5.52" fill="#ee4444"/>
<rect x="381.62" y="47.07" width="5.87" height="5.52" fill="#eeeaea"/>
<rect x="387.44" y="47.07" width="5.87" height="5.52" fill="#f08080"/>
<rect x="393.26" y="47.07" width="5.87" height="5.52" fill="#9a9ad8"/>
<rect x="399.08" y="47.07" width="5.87" height="5.52" fill="#a8a8e0"/>
<rect x="404.90" y="47.07" width="5.87" height="5.52" fill="#a0a0dc"/>
<text x="412.30" y="51.56" font-size="4.95" text-anchor="start" fill="#111" stroke="#111" stroke-width="0.12">trans-Cinnamaldehyde</text>
<rect x="375.80" y="52.54" width="5.87" height="5.52" fill="#ee5555"/>
<rect x="381.62" y="52.54" width="5.87" height="5.52" fill="#f4c0c0"/>
<rect x="387.44" y="52.54" width="5.87" height="5.52" fill="#f08080"/>
<rect x="393.26" y="52.54" width="5.87" height="5.52" fill="#b0b0e0"/>
<rect x="399.08" y="52.54" width="5.87" height="5.52" fill="#7070cc"/>
<rect x="404.90" y="52.54" width="5.87" height="5.52" fill="#a0a0dc"/>
<text x="412.30" y="57.03" font-size="4.95" text-anchor="start" fill="#111" stroke="#111" stroke-width="0.12">S-Lactoylglutathione</text>
<rect x="375.80" y="58.02" width="5.87" height="5.52" fill="#ee5050"/>
<rect x="381.62" y="58.02" width="5.87" height="5.52" fill="#dcdcee"/>
<rect x="387.44" y="58.02" width="5.87" height="5.52" fill="#f08888"/>
<rect x="393.26" y="58.02" width="5.87" height="5.52" fill="#c8c8ec"/>
<rect x="399.08" y="58.02" width="5.87" height="5.52" fill="#5c5cc8"/>
<rect x="404.90" y="58.02" width="5.87" height="5.52" fill="#a8a8e0"/>
<text x="412.30" y="62.51" font-size="4.95" text-anchor="start" fill="#111" stroke="#111" stroke-width="0.12">MUCIC ACID</text>
<rect x="375.80" y="63.49" width="5.87" height="5.52" fill="#ee5555"/>
<rect x="381.62" y="63.49" width="5.87" height="5.52" fill="#f0d8d8"/>
<rect x="387.44" y="63.49" width="5.87" height="5.52" fill="#f08080"/>
<rect x="393.26" y="63.49" width="5.87" height="5.52" fill="#d0d0ee"/>
<rect x="399.08" y="63.49" width="5.87" height="5.52" fill="#6060c8"/>
<rect x="404.90" y="63.49" width="5.87" height="5.52" fill="#b0b0e0"/>
<text x="412.30" y="67.98" font-size="4.95" text-anchor="start" fill="#111" stroke="#111" stroke-width="0.12">Chorismic acid</text>
<rect x="375.80" y="68.97" width="5.87" height="5.52" fill="#f09090"/>
<rect x="381.62" y="68.97" width="5.87" height="5.52" fill="#ee7070"/>
<rect x="387.44" y="68.97" width="5.87" height="5.52" fill="#f09090"/>
<rect x="393.26" y="68.97" width="5.87" height="5.52" fill="#b0b0e0"/>
<rect x="399.08" y="68.97" width="5.87" height="5.52" fill="#9898d8"/>
<rect x="404.90" y="68.97" width="5.87" height="5.52" fill="#a0a0dc"/>
<text x="412.30" y="73.45" font-size="4.95" text-anchor="start" fill="#111" stroke="#111" stroke-width="0.12">Spermidine</text>
<rect x="375.80" y="74.44" width="5.87" height="5.52" fill="#f0a0a0"/>
<rect x="381.62" y="74.44" width="5.87" height="5.52" fill="#ee6060"/>
<rect x="387.44" y="74.44" width="5.87" height="5.52" fill="#f08888"/>
<rect x="393.26" y="74.44" width="5.87" height="5.52" fill="#9898d8"/>
<rect x="399.08" y="74.44" width="5.87" height="5.52" fill="#a0a0dc"/>
<rect x="404.90" y="74.44" width="5.87" height="5.52" fill="#a8a8e0"/>
<text x="412.30" y="78.93" font-size="4.95" text-anchor="start" fill="#111" stroke="#111" stroke-width="0.12">TAG(50:1)</text>
<rect x="375.80" y="79.91" width="5.87" height="5.52" fill="#f0c8c8"/>
<rect x="381.62" y="79.91" width="5.87" height="5.52" fill="#ee6a6a"/>
<rect x="387.44" y="79.91" width="5.87" height="5.52" fill="#f09a9a"/>
<rect x="393.26" y="79.91" width="5.87" height="5.52" fill="#d8d8f0"/>
<rect x="399.08" y="79.91" width="5.87" height="5.52" fill="#5050c8"/>
<rect x="404.90" y="79.91" width="5.87" height="5.52" fill="#a0a0dc"/>
<text x="412.30" y="84.40" font-size="4.95" text-anchor="start" fill="#111" stroke="#111" stroke-width="0.12">Oleic_acid</text>
<rect x="375.80" y="85.39" width="5.87" height="5.52" fill="#f0dede"/>
<rect x="381.62" y="85.39" width="5.87" height="5.52" fill="#f08080"/>
<rect x="387.44" y="85.39" width="5.87" height="5.52" fill="#f0a0a0"/>
<rect x="393.26" y="85.39" width="5.87" height="5.52" fill="#f0c8c8"/>
<rect x="399.08" y="85.39" width="5.87" height="5.52" fill="#4848c0"/>
<rect x="404.90" y="85.39" width="5.87" height="5.52" fill="#b8b8e4"/>
<text x="412.30" y="89.88" font-size="4.95" text-anchor="start" fill="#111" stroke="#111" stroke-width="0.12">L-Pyroglutamic acid</text>
<rect x="375.80" y="90.86" width="5.87" height="5.52" fill="#b0b0e0"/>
<rect x="381.62" y="90.86" width="5.87" height="5.52" fill="#ee5555"/>
<rect x="387.44" y="90.86" width="5.87" height="5.52" fill="#f0b0b0"/>
<rect x="393.26" y="90.86" width="5.87" height="5.52" fill="#f0c0c0"/>
<rect x="399.08" y="90.86" width="5.87" height="5.52" fill="#5858c8"/>
<rect x="404.90" y="90.86" width="5.87" height="5.52" fill="#c8c8ec"/>
<text x="412.30" y="95.35" font-size="4.95" text-anchor="start" fill="#111" stroke="#111" stroke-width="0.12">Threonine</text>
<rect x="375.80" y="96.34" width="5.87" height="5.52" fill="#8888d4"/>
<rect x="381.62" y="96.34" width="5.87" height="5.52" fill="#7878cc"/>
<rect x="387.44" y="96.34" width="5.87" height="5.52" fill="#d0d0ee"/>
<rect x="393.26" y="96.34" width="5.87" height="5.52" fill="#f4c0c0"/>
<rect x="399.08" y="96.34" width="5.87" height="5.52" fill="#f0b0b0"/>
<rect x="404.90" y="96.34" width="5.87" height="5.52" fill="#ee4a4a"/>
<text x="412.30" y="100.82" font-size="4.95" text-anchor="start" fill="#111" stroke="#111" stroke-width="0.12">D-(-) -3-phosphoglyceric acid</text>
<rect x="375.80" y="101.81" width="5.87" height="5.52" fill="#9c9cdc"/>
<rect x="381.62" y="101.81" width="5.87" height="5.52" fill="#9090d4"/>
<rect x="387.44" y="101.81" width="5.87" height="5.52" fill="#a8a8e0"/>
<rect x="393.26" y="101.81" width="5.87" height="5.52" fill="#f08888"/>
<rect x="399.08" y="101.81" width="5.87" height="5.52" fill="#f09c9c"/>
<rect x="404.90" y="101.81" width="5.87" height="5.52" fill="#f08080"/>
<text x="412.30" y="106.30" font-size="4.95" text-anchor="start" fill="#111" stroke="#111" stroke-width="0.12">Pyridoxamine 5'-phosphate</text>
<rect x="375.80" y="107.28" width="5.87" height="5.52" fill="#8080d0"/>
<rect x="381.62" y="107.28" width="5.87" height="5.52" fill="#a0a0dc"/>
<rect x="387.44" y="107.28" width="5.87" height="5.52" fill="#a8a8e0"/>
<rect x="393.26" y="107.28" width="5.87" height="5.52" fill="#f08888"/>
<rect x="399.08" y="107.28" width="5.87" height="5.52" fill="#f0a0a0"/>
<rect x="404.90" y="107.28" width="5.87" height="5.52" fill="#f08080"/>
<text x="412.30" y="111.77" font-size="4.95" text-anchor="start" fill="#111" stroke="#111" stroke-width="0.12">Pyridoxine</text>
<rect x="375.80" y="112.76" width="5.87" height="5.52" fill="#6060c8"/>
<rect x="381.62" y="112.76" width="5.87" height="5.52" fill="#a8a8e0"/>
<rect x="387.44" y="112.76" width="5.87" height="5.52" fill="#a0a0dc"/>
<rect x="393.26" y="112.76" width="5.87" height="5.52" fill="#f08080"/>
<rect x="399.08" y="112.76" width="5.87" height="5.52" fill="#f0b0b0"/>
<rect x="404.90" y="112.76" width="5.87" height="5.52" fill="#f07878"/>
<text x="412.30" y="117.25" font-size="4.95" text-anchor="start" fill="#111" stroke="#111" stroke-width="0.12">Kynurenine</text>
<rect x="375.80" y="118.23" width="5.87" height="5.52" fill="#7070cc"/>
<rect x="381.62" y="118.23" width="5.87" height="5.52" fill="#a0a0dc"/>
<rect x="387.44" y="118.23" width="5.87" height="5.52" fill="#a0a0dc"/>
<rect x="393.26" y="118.23" width="5.87" height="5.52" fill="#f0d0d0"/>
<rect x="399.08" y="118.23" width="5.87" height="5.52" fill="#ee6060"/>
<rect x="404.90" y="118.23" width="5.87" height="5.52" fill="#f08080"/>
<text x="412.30" y="122.72" font-size="4.95" text-anchor="start" fill="#111" stroke="#111" stroke-width="0.12">Hexylamine</text>
<rect x="375.80" y="123.71" width="5.87" height="5.52" fill="#5c5cc8"/>
<rect x="381.62" y="123.71" width="5.87" height="5.52" fill="#a8a8e0"/>
<rect x="387.44" y="123.71" width="5.87" height="5.52" fill="#a8a8e0"/>
<rect x="393.26" y="123.71" width="5.87" height="5.52" fill="#f0c0c0"/>
<rect x="399.08" y="123.71" width="5.87" height="5.52" fill="#f09090"/>
<rect x="404.90" y="123.71" width="5.87" height="5.52" fill="#ee7070"/>
<text x="412.30" y="128.19" font-size="4.95" text-anchor="start" fill="#111" stroke="#111" stroke-width="0.12">Propionic acid</text>
<rect x="375.80" y="129.18" width="5.87" height="5.52" fill="#a0a0dc"/>
<rect x="381.62" y="129.18" width="5.87" height="5.52" fill="#b0b0e0"/>
<rect x="387.44" y="129.18" width="5.87" height="5.52" fill="#a0a0dc"/>
<rect x="393.26" y="129.18" width="5.87" height="5.52" fill="#ee4040"/>
<rect x="399.08" y="129.18" width="5.87" height="5.52" fill="#e8e8ee"/>
<rect x="404.90" y="129.18" width="5.87" height="5.52" fill="#f08888"/>
<text x="412.30" y="133.67" font-size="4.95" text-anchor="start" fill="#111" stroke="#111" stroke-width="0.12">O-Phosphocholine</text>
<rect x="375.80" y="134.65" width="5.87" height="5.52" fill="#f4dcdc"/>
<rect x="381.62" y="134.65" width="5.87" height="5.52" fill="#4848c0"/>
<rect x="387.44" y="134.65" width="5.87" height="5.52" fill="#d8d8f0"/>
<rect x="393.26" y="134.65" width="5.87" height="5.52" fill="#f07070"/>
<rect x="399.08" y="134.65" width="5.87" height="5.52" fill="#b8b8e4"/>
<rect x="404.90" y="134.65" width="5.87" height="5.52" fill="#f09090"/>
<text x="412.30" y="139.14" font-size="4.95" text-anchor="start" fill="#111" stroke="#111" stroke-width="0.12">Pyridine</text>
<rect x="375.80" y="140.13" width="5.87" height="5.52" fill="#f0dcdc"/>
<rect x="381.62" y="140.13" width="5.87" height="5.52" fill="#b8b8e4"/>
<rect x="387.44" y="140.13" width="5.87" height="5.52" fill="#f0e0e0"/>
<rect x="393.26" y="140.13" width="5.87" height="5.52" fill="#5050c8"/>
<rect x="399.08" y="140.13" width="5.87" height="5.52" fill="#ee4a4a"/>
<rect x="404.90" y="140.13" width="5.87" height="5.52" fill="#f0e0e0"/>
<text x="412.30" y="144.61" font-size="4.95" text-anchor="start" fill="#111" stroke="#111" stroke-width="0.12">N-Acetylmuramic Acid</text>
<rect x="375.80" y="145.60" width="5.87" height="5.52" fill="#c0c0e8"/>
<rect x="381.62" y="145.60" width="5.87" height="5.52" fill="#a8a8e0"/>
<rect x="387.44" y="145.60" width="5.87" height="5.52" fill="#f0e8e8"/>
<rect x="393.26" y="145.60" width="5.87" height="5.52" fill="#7878cc"/>
<rect x="399.08" y="145.60" width="5.87" height="5.52" fill="#ee5050"/>
<rect x="404.90" y="145.60" width="5.87" height="5.52" fill="#f08888"/>
<text x="412.30" y="150.09" font-size="4.95" text-anchor="start" fill="#111" stroke="#111" stroke-width="0.12">Thiamine</text>
<rect x="375.80" y="151.08" width="5.87" height="5.52" fill="#e8e8ee"/>
<rect x="381.62" y="151.08" width="5.87" height="5.52" fill="#8888d4"/>
<rect x="387.44" y="151.08" width="5.87" height="5.52" fill="#e0e0f0"/>
<rect x="393.26" y="151.08" width="5.87" height="5.52" fill="#8888d4"/>
<rect x="399.08" y="151.08" width="5.87" height="5.52" fill="#ee4848"/>
<rect x="404.90" y="151.08" width="5.87" height="5.52" fill="#f09c9c"/>
<text x="412.30" y="155.56" font-size="4.95" text-anchor="start" fill="#111" stroke="#111" stroke-width="0.12">Piperazine</text>
<rect x="375.80" y="156.55" width="5.87" height="5.52" fill="#9090d8"/>
<rect x="381.62" y="156.55" width="5.87" height="5.52" fill="#9898d8"/>
<rect x="387.44" y="156.55" width="5.87" height="5.52" fill="#a0a0dc"/>
<rect x="393.26" y="156.55" width="5.87" height="5.52" fill="#f0e8e8"/>
<rect x="399.08" y="156.55" width="5.87" height="5.52" fill="#ee4848"/>
<rect x="404.90" y="156.55" width="5.87" height="5.52" fill="#f08080"/>
<text x="412.30" y="161.04" font-size="4.95" text-anchor="start" fill="#111" stroke="#111" stroke-width="0.12">Adenine</text>
<rect x="375.80" y="162.02" width="5.87" height="5.52" fill="#a0a0dc"/>
<rect x="381.62" y="162.02" width="5.87" height="5.52" fill="#a0a0dc"/>
<rect x="387.44" y="162.02" width="5.87" height="5.52" fill="#a8a8e0"/>
<rect x="393.26" y="162.02" width="5.87" height="5.52" fill="#e8e8f0"/>
<rect x="399.08" y="162.02" width="5.87" height="5.52" fill="#ee4040"/>
<rect x="404.90" y="162.02" width="5.87" height="5.52" fill="#f08080"/>
<text x="412.30" y="166.51" font-size="4.95" text-anchor="start" fill="#111" stroke="#111" stroke-width="0.12">sebacic acid</text>
<rect x="375.80" y="167.50" width="5.87" height="5.52" fill="#b8b8e4"/>
<rect x="381.62" y="167.50" width="5.87" height="5.52" fill="#b8b8e4"/>
<rect x="387.44" y="167.50" width="5.87" height="5.52" fill="#b8b8e4"/>
<rect x="393.26" y="167.50" width="5.87" height="5.52" fill="#9898d8"/>
<rect x="399.08" y="167.50" width="5.87" height="5.52" fill="#ee3030"/>
<rect x="404.90" y="167.50" width="5.87" height="5.52" fill="#f0a0a0"/>
<text x="412.30" y="171.98" font-size="4.95" text-anchor="start" fill="#111" stroke="#111" stroke-width="0.12">Ferulic acid</text>
<rect x="375.80" y="172.97" width="5.87" height="5.52" fill="#9090d4"/>
<rect x="381.62" y="172.97" width="5.87" height="5.52" fill="#b0b0e0"/>
<rect x="387.44" y="172.97" width="5.87" height="5.52" fill="#a8a8e0"/>
<rect x="393.26" y="172.97" width="5.87" height="5.52" fill="#b0b0e0"/>
<rect x="399.08" y="172.97" width="5.87" height="5.52" fill="#ee3838"/>
<rect x="404.90" y="172.97" width="5.87" height="5.52" fill="#f09898"/>
<text x="412.30" y="177.46" font-size="4.95" text-anchor="start" fill="#111" stroke="#111" stroke-width="0.12">betaine</text>
<rect x="375.80" y="178.45" width="5.87" height="5.52" fill="#a0a0dc"/>
<rect x="381.62" y="178.45" width="5.87" height="5.52" fill="#b0b0e0"/>
<rect x="387.44" y="178.45" width="5.87" height="5.52" fill="#a8a8e0"/>
<rect x="393.26" y="178.45" width="5.87" height="5.52" fill="#b0b0e0"/>
<rect x="399.08" y="178.45" width="5.87" height="5.52" fill="#ee3535"/>
<rect x="404.90" y="178.45" width="5.87" height="5.52" fill="#f09090"/>
<text x="412.30" y="182.93" font-size="4.95" text-anchor="start" fill="#111" stroke="#111" stroke-width="0.12">Methionine</text>
<rect x="375.80" y="183.92" width="5.87" height="5.52" fill="#a8a8e0"/>
<rect x="381.62" y="183.92" width="5.87" height="5.52" fill="#a0a0dc"/>
<rect x="387.44" y="183.92" width="5.87" height="5.52" fill="#b8b8e4"/>
<rect x="393.26" y="183.92" width="5.87" height="5.52" fill="#b8b8e4"/>
<rect x="399.08" y="183.92" width="5.87" height="5.52" fill="#ee4848"/>
<rect x="404.90" y="183.92" width="5.87" height="5.52" fill="#f08888"/>
<text x="412.30" y="188.41" font-size="4.95" text-anchor="start" fill="#111" stroke="#111" stroke-width="0.12">Niacinamide</text>
<rect x="375.80" y="189.39" width="5.87" height="5.52" fill="#3838b0"/>
<rect x="381.62" y="189.39" width="5.87" height="5.52" fill="#f0e4e4"/>
<rect x="387.44" y="189.39" width="5.87" height="5.52" fill="#e0e0f0"/>
<rect x="393.26" y="189.39" width="5.87" height="5.52" fill="#e8e8f0"/>
<rect x="399.08" y="189.39" width="5.87" height="5.52" fill="#f08c8c"/>
<rect x="404.90" y="189.39" width="5.87" height="5.52" fill="#f07878"/>
<text x="412.30" y="193.88" font-size="4.95" text-anchor="start" fill="#111" stroke="#111" stroke-width="0.12">Creatinine</text>
<rect x="375.80" y="194.87" width="5.87" height="5.52" fill="#a0a0dc"/>
<rect x="381.62" y="194.87" width="5.87" height="5.52" fill="#7878cc"/>
<rect x="387.44" y="194.87" width="5.87" height="5.52" fill="#f0d0d0"/>
<rect x="393.26" y="194.87" width="5.87" height="5.52" fill="#b0b0e0"/>
<rect x="399.08" y="194.87" width="5.87" height="5.52" fill="#f09090"/>
<rect x="404.90" y="194.87" width="5.87" height="5.52" fill="#ee6060"/>
<text x="412.30" y="199.35" font-size="4.95" text-anchor="start" fill="#111" stroke="#111" stroke-width="0.12">Histamine</text>
<rect x="375.80" y="200.34" width="5.87" height="5.52" fill="#7878cc"/>
<rect x="381.62" y="200.34" width="5.87" height="5.52" fill="#a8a8e0"/>
<rect x="387.44" y="200.34" width="5.87" height="5.52" fill="#f0a0a0"/>
<rect x="393.26" y="200.34" width="5.87" height="5.52" fill="#b0b0e0"/>
<rect x="399.08" y="200.34" width="5.87" height="5.52" fill="#f0e8e8"/>
<rect x="404.90" y="200.34" width="5.87" height="5.52" fill="#ee4848"/>
<text x="412.30" y="204.83" font-size="4.95" text-anchor="start" fill="#111" stroke="#111" stroke-width="0.12">Pyrocatechuic acid</text>
<rect x="375.80" y="205.82" width="5.87" height="5.52" fill="#b8b8e4"/>
<rect x="381.62" y="205.82" width="5.87" height="5.52" fill="#c8c8ec"/>
<rect x="387.44" y="205.82" width="5.87" height="5.52" fill="#ee5050"/>
<rect x="393.26" y="205.82" width="5.87" height="5.52" fill="#7070cc"/>
<rect x="399.08" y="205.82" width="5.87" height="5.52" fill="#e0e0f0"/>
<rect x="404.90" y="205.82" width="5.87" height="5.52" fill="#f09090"/>
<text x="412.30" y="210.30" font-size="4.95" text-anchor="start" fill="#111" stroke="#111" stroke-width="0.12">5-Methoxytryptamine</text>
<line x1="375.80" y1="19.70" x2="375.80" y2="211.29" stroke="#ffffff" stroke-width="0.25"/>
<line x1="381.62" y1="19.70" x2="381.62" y2="211.29" stroke="#ffffff" stroke-width="0.25"/>
<line x1="387.44" y1="19.70" x2="387.44" y2="211.29" stroke="#ffffff" stroke-width="0.25"/>
<line x1="393.26" y1="19.70" x2="393.26" y2="211.29" stroke="#ffffff" stroke-width="0.25"/>
<line x1="399.08" y1="19.70" x2="399.08" y2="211.29" stroke="#ffffff" stroke-width="0.25"/>
<line x1="404.90" y1="19.70" x2="404.90" y2="211.29" stroke="#ffffff" stroke-width="0.25"/>
<line x1="410.72" y1="19.70" x2="410.72" y2="211.29" stroke="#ffffff" stroke-width="0.25"/>
<line x1="375.80" y1="19.70" x2="410.72" y2="19.70" stroke="#ffffff" stroke-width="0.25"/>
<line x1="375.80" y1="25.17" x2="410.72" y2="25.17" stroke="#ffffff" stroke-width="0.25"/>
<line x1="375.80" y1="30.65" x2="410.72" y2="30.65" stroke="#ffffff" stroke-width="0.25"/>
<line x1="375.80" y1="36.12" x2="410.72" y2="36.12" stroke="#ffffff" stroke-width="0.25"/>
<line x1="375.80" y1="41.60" x2="410.72" y2="41.60" stroke="#ffffff" stroke-width="0.25"/>
<line x1="375.80" y1="47.07" x2="410.72" y2="47.07" stroke="#ffffff" stroke-width="0.25"/>
<line x1="375.80" y1="52.54" x2="410.72" y2="52.54" stroke="#ffffff" stroke-width="0.25"/>
<line x1="375.80" y1="58.02" x2="410.72" y2="58.02" stroke="#ffffff" stroke-width="0.25"/>
<line x1="375.80" y1="63.49" x2="410.72" y2="63.49" stroke="#ffffff" stroke-width="0.25"/>
<line x1="375.80" y1="68.97" x2="410.72" y2="68.97" stroke="#ffffff" stroke-width="0.25"/>
<line x1="375.80" y1="74.44" x2="410.72" y2="74.44" stroke="#ffffff" stroke-width="0.25"/>
<line x1="375.80" y1="79.91" x2="410.72" y2="79.91" stroke="#ffffff" stroke-width="0.25"/>
<line x1="375.80" y1="85.39" x2="410.72" y2="85.39" stroke="#ffffff" stroke-width="0.25"/>
<line x1="375.80" y1="90.86" x2="410.72" y2="90.86" stroke="#ffffff" stroke-width="0.25"/>
<line x1="375.80" y1="96.34" x2="410.72" y2="96.34" stroke="#ffffff" stroke-width="0.25"/>
<line x1="375.80" y1="101.81" x2="410.72" y2="101.81" stroke="#ffffff" stroke-width="0.25"/>
<line x1="375.80" y1="107.28" x2="410.72" y2="107.28" stroke="#ffffff" stroke-width="0.25"/>
<line x1="375.80" y1="112.76" x2="410.72" y2="112.76" stroke="#ffffff" stroke-width="0.25"/>
<line x1="375.80" y1="118.23" x2="410.72" y2="118.23" stroke="#ffffff" stroke-width="0.25"/>
<line x1="375.80" y1="123.71" x2="410.72" y2="123.71" stroke="#ffffff" stroke-width="0.25"/>
<line x1="375.80" y1="129.18" x2="410.72" y2="129.18" stroke="#ffffff" stroke-width="0.25"/>
<line x1="375.80" y1="134.65" x2="410.72" y2="134.65" stroke="#ffffff" stroke-width="0.25"/>
<line x1="375.80" y1="140.13" x2="410.72" y2="140.13" stroke="#ffffff" stroke-width="0.25"/>
<line x1="375.80" y1="145.60" x2="410.72" y2="145.60" stroke="#ffffff" stroke-width="0.25"/>
<line x1="375.80" y1="151.08" x2="410.72" y2="151.08" stroke="#ffffff" stroke-width="0.25"/>
<line x1="375.80" y1="156.55" x2="410.72" y2="156.55" stroke="#ffffff" stroke-width="0.25"/>
<line x1="375.80" y1="162.02" x2="410.72" y2="162.02" stroke="#ffffff" stroke-width="0.25"/>
<line x1="375.80" y1="167.50" x2="410.72" y2="167.50" stroke="#ffffff" stroke-width="0.25"/>
<line x1="375.80" y1="172.97" x2="410.72" y2="172.97" stroke="#ffffff" stroke-width="0.25"/>
<line x1="375.80" y1="178.45" x2="410.72" y2="178.45" stroke="#ffffff" stroke-width="0.25"/>
<line x1="375.80" y1="183.92" x2="410.72" y2="183.92" stroke="#ffffff" stroke-width="0.25"/>
<line x1="375.80" y1="189.39" x2="410.72" y2="189.39" stroke="#ffffff" stroke-width="0.25"/>
<line x1="375.80" y1="194.87" x2="410.72" y2="194.87" stroke="#ffffff" stroke-width="0.25"/>
<line x1="375.80" y1="200.34" x2="410.72" y2="200.34" stroke="#ffffff" stroke-width="0.25"/>
<line x1="375.80" y1="205.82" x2="410.72" y2="205.82" stroke="#ffffff" stroke-width="0.25"/>
<line x1="375.80" y1="211.29" x2="410.72" y2="211.29" stroke="#ffffff" stroke-width="0.25"/>
<text x="380.11" y="212.40" font-size="4.1" text-anchor="end" fill="#222" transform="rotate(-90 380.11 212.40)" stroke="#222" stroke-width="0.12">A1</text>
<text x="385.93" y="212.40" font-size="4.1" text-anchor="end" fill="#222" transform="rotate(-90 385.93 212.40)" stroke="#222" stroke-width="0.12">A2</text>
<text x="391.75" y="212.40" font-size="4.1" text-anchor="end" fill="#222" transform="rotate(-90 391.75 212.40)" stroke="#222" stroke-width="0.12">A3</text>
<text x="397.57" y="212.40" font-size="4.1" text-anchor="end" fill="#222" transform="rotate(-90 397.57 212.40)" stroke="#222" stroke-width="0.12">AP1</text>
<text x="403.39" y="212.40" font-size="4.1" text-anchor="end" fill="#222" transform="rotate(-90 403.39 212.40)" stroke="#222" stroke-width="0.12">AP2</text>
<text x="409.21" y="212.40" font-size="4.1" text-anchor="end" fill="#222" transform="rotate(-90 409.21 212.40)" stroke="#222" stroke-width="0.12">AP3</text>
<line x1="375.80" y1="27.91" x2="369.50" y2="27.91" stroke="#333" stroke-width="0.5"/>
<line x1="375.80" y1="33.38" x2="369.50" y2="33.38" stroke="#333" stroke-width="0.5"/>
<line x1="369.50" y1="27.91" x2="369.50" y2="33.38" stroke="#333" stroke-width="0.5"/>
<line x1="375.80" y1="22.44" x2="367.50" y2="22.44" stroke="#333" stroke-width="0.5"/>
<line x1="369.50" y1="30.65" x2="367.50" y2="30.65" stroke="#333" stroke-width="0.5"/>
<line x1="367.50" y1="22.44" x2="367.50" y2="30.65" stroke="#333" stroke-width="0.5"/>
<line x1="375.80" y1="38.86" x2="373.50" y2="38.86" stroke="#333" stroke-width="0.5"/>
<line x1="375.80" y1="44.33" x2="373.50" y2="44.33" stroke="#333" stroke-width="0.5"/>
<line x1="373.50" y1="38.86" x2="373.50" y2="44.33" stroke="#333" stroke-width="0.5"/>
<line x1="375.80" y1="49.81" x2="372.50" y2="49.81" stroke="#333" stroke-width="0.5"/>
<line x1="375.80" y1="55.28" x2="372.50" y2="55.28" stroke="#333" stroke-width="0.5"/>
<line x1="372.50" y1="49.81" x2="372.50" y2="55.28" stroke="#333" stroke-width="0.5"/>
<line x1="375.80" y1="60.76" x2="371.50" y2="60.76" stroke="#333" stroke-width="0.5"/>
<line x1="375.80" y1="66.23" x2="371.50" y2="66.23" stroke="#333" stroke-width="0.5"/>
<line x1="371.50" y1="60.76" x2="371.50" y2="66.23" stroke="#333" stroke-width="0.5"/>
<line x1="372.50" y1="52.54" x2="370.00" y2="52.54" stroke="#333" stroke-width="0.5"/>
<line x1="371.50" y1="63.49" x2="370.00" y2="63.49" stroke="#333" stroke-width="0.5"/>
<line x1="370.00" y1="52.54" x2="370.00" y2="63.49" stroke="#333" stroke-width="0.5"/>
<line x1="373.50" y1="41.60" x2="369.00" y2="41.60" stroke="#333" stroke-width="0.5"/>
<line x1="370.00" y1="58.02" x2="369.00" y2="58.02" stroke="#333" stroke-width="0.5"/>
<line x1="369.00" y1="41.60" x2="369.00" y2="58.02" stroke="#333" stroke-width="0.5"/>
<line x1="375.80" y1="71.70" x2="371.00" y2="71.70" stroke="#333" stroke-width="0.5"/>
<line x1="375.80" y1="77.18" x2="371.00" y2="77.18" stroke="#333" stroke-width="0.5"/>
<line x1="371.00" y1="71.70" x2="371.00" y2="77.18" stroke="#333" stroke-width="0.5"/>
<line x1="375.80" y1="82.65" x2="368.00" y2="82.65" stroke="#333" stroke-width="0.5"/>
<line x1="375.80" y1="88.12" x2="368.00" y2="88.12" stroke="#333" stroke-width="0.5"/>
<line x1="368.00" y1="82.65" x2="368.00" y2="88.12" stroke="#333" stroke-width="0.5"/>
<line x1="375.80" y1="93.60" x2="372.00" y2="93.60" stroke="#333" stroke-width="0.5"/>
<line x1="368.00" y1="89.12" x2="372.00" y2="89.12" stroke="#333" stroke-width="0.5"/>
<line x1="372.00" y1="93.60" x2="372.00" y2="89.12" stroke="#333" stroke-width="0.5"/>
<line x1="371.00" y1="74.44" x2="366.50" y2="74.44" stroke="#333" stroke-width="0.5"/>
<line x1="368.00" y1="88.12" x2="366.50" y2="88.12" stroke="#333" stroke-width="0.5"/>
<line x1="366.50" y1="74.44" x2="366.50" y2="88.12" stroke="#333" stroke-width="0.5"/>
<line x1="369.00" y1="49.81" x2="365.00" y2="49.81" stroke="#333" stroke-width="0.5"/>
<line x1="366.50" y1="82.65" x2="365.00" y2="82.65" stroke="#333" stroke-width="0.5"/>
<line x1="365.00" y1="49.81" x2="365.00" y2="82.65" stroke="#333" stroke-width="0.5"/>
<line x1="367.50" y1="27.91" x2="363.00" y2="27.91" stroke="#333" stroke-width="0.5"/>
<line x1="365.00" y1="66.23" x2="363.00" y2="66.23" stroke="#333" stroke-width="0.5"/>
<line x1="363.00" y1="27.91" x2="363.00" y2="66.23" stroke="#333" stroke-width="0.5"/>
<line x1="375.80" y1="99.07" x2="372.00" y2="99.07" stroke="#333" stroke-width="0.5"/>
<line x1="375.80" y1="104.55" x2="372.00" y2="104.55" stroke="#333" stroke-width="0.5"/>
<line x1="372.00" y1="99.07" x2="372.00" y2="104.55" stroke="#333" stroke-width="0.5"/>
<line x1="375.80" y1="110.02" x2="373.00" y2="110.02" stroke="#333" stroke-width="0.5"/>
<line x1="375.80" y1="115.50" x2="373.00" y2="115.50" stroke="#333" stroke-width="0.5"/>
<line x1="373.00" y1="110.02" x2="373.00" y2="115.50" stroke="#333" stroke-width="0.5"/>
<line x1="372.00" y1="104.55" x2="370.00" y2="104.55" stroke="#333" stroke-width="0.5"/>
<line x1="373.00" y1="112.76" x2="370.00" y2="112.76" stroke="#333" stroke-width="0.5"/>
<line x1="370.00" y1="104.55" x2="370.00" y2="112.76" stroke="#333" stroke-width="0.5"/>
<line x1="375.80" y1="120.97" x2="372.50" y2="120.97" stroke="#333" stroke-width="0.5"/>
<line x1="375.80" y1="126.44" x2="372.50" y2="126.44" stroke="#333" stroke-width="0.5"/>
<line x1="372.50" y1="120.97" x2="372.50" y2="126.44" stroke="#333" stroke-width="0.5"/>
<line x1="370.00" y1="110.02" x2="368.50" y2="110.02" stroke="#333" stroke-width="0.5"/>
<line x1="372.50" y1="123.71" x2="368.50" y2="123.71" stroke="#333" stroke-width="0.5"/>
<line x1="368.50" y1="110.02" x2="368.50" y2="123.71" stroke="#333" stroke-width="0.5"/>
<line x1="375.80" y1="131.92" x2="373.00" y2="131.92" stroke="#333" stroke-width="0.5"/>
<line x1="375.80" y1="137.39" x2="373.00" y2="137.39" stroke="#333" stroke-width="0.5"/>
<line x1="373.00" y1="131.92" x2="373.00" y2="137.39" stroke="#333" stroke-width="0.5"/>
<line x1="368.50" y1="115.50" x2="366.00" y2="115.50" stroke="#333" stroke-width="0.5"/>
<line x1="373.00" y1="134.65" x2="366.00" y2="134.65" stroke="#333" stroke-width="0.5"/>
<line x1="366.00" y1="115.50" x2="366.00" y2="134.65" stroke="#333" stroke-width="0.5"/>
<line x1="375.80" y1="142.86" x2="372.00" y2="142.86" stroke="#333" stroke-width="0.5"/>
<line x1="375.80" y1="148.34" x2="372.00" y2="148.34" stroke="#333" stroke-width="0.5"/>
<line x1="372.00" y1="142.86" x2="372.00" y2="148.34" stroke="#333" stroke-width="0.5"/>
<line x1="375.80" y1="153.81" x2="373.50" y2="153.81" stroke="#333" stroke-width="0.5"/>
<line x1="375.80" y1="159.29" x2="373.50" y2="159.29" stroke="#333" stroke-width="0.5"/>
<line x1="373.50" y1="153.81" x2="373.50" y2="159.29" stroke="#333" stroke-width="0.5"/>
<line x1="372.00" y1="145.60" x2="370.50" y2="145.60" stroke="#333" stroke-width="0.5"/>
<line x1="373.50" y1="156.55" x2="370.50" y2="156.55" stroke="#333" stroke-width="0.5"/>
<line x1="370.50" y1="145.60" x2="370.50" y2="156.55" stroke="#333" stroke-width="0.5"/>
<line x1="375.80" y1="164.76" x2="374.00" y2="164.76" stroke="#333" stroke-width="0.5"/>
<line x1="375.80" y1="170.23" x2="374.00" y2="170.23" stroke="#333" stroke-width="0.5"/>
<line x1="374.00" y1="164.76" x2="374.00" y2="170.23" stroke="#333" stroke-width="0.5"/>
<line x1="375.80" y1="175.71" x2="373.00" y2="175.71" stroke="#333" stroke-width="0.5"/>
<line x1="375.80" y1="181.18" x2="373.00" y2="181.18" stroke="#333" stroke-width="0.5"/>
<line x1="373.00" y1="175.71" x2="373.00" y2="181.18" stroke="#333" stroke-width="0.5"/>
<line x1="374.00" y1="167.50" x2="372.00" y2="167.50" stroke="#333" stroke-width="0.5"/>
<line x1="373.00" y1="178.45" x2="372.00" y2="178.45" stroke="#333" stroke-width="0.5"/>
<line x1="372.00" y1="167.50" x2="372.00" y2="178.45" stroke="#333" stroke-width="0.5"/>
<line x1="375.80" y1="186.66" x2="371.00" y2="186.66" stroke="#333" stroke-width="0.5"/>
<line x1="372.00" y1="175.71" x2="371.00" y2="175.71" stroke="#333" stroke-width="0.5"/>
<line x1="371.00" y1="186.66" x2="371.00" y2="175.71" stroke="#333" stroke-width="0.5"/>
<line x1="370.50" y1="151.08" x2="368.50" y2="151.08" stroke="#333" stroke-width="0.5"/>
<line x1="371.00" y1="181.18" x2="368.50" y2="181.18" stroke="#333" stroke-width="0.5"/>
<line x1="368.50" y1="151.08" x2="368.50" y2="181.18" stroke="#333" stroke-width="0.5"/>
<line x1="375.80" y1="197.60" x2="372.00" y2="197.60" stroke="#333" stroke-width="0.5"/>
<line x1="375.80" y1="203.08" x2="372.00" y2="203.08" stroke="#333" stroke-width="0.5"/>
<line x1="372.00" y1="197.60" x2="372.00" y2="203.08" stroke="#333" stroke-width="0.5"/>
<line x1="375.80" y1="192.13" x2="371.00" y2="192.13" stroke="#333" stroke-width="0.5"/>
<line x1="375.80" y1="208.55" x2="371.00" y2="208.55" stroke="#333" stroke-width="0.5"/>
<line x1="371.00" y1="192.13" x2="371.00" y2="208.55" stroke="#333" stroke-width="0.5"/>
<line x1="372.00" y1="200.34" x2="369.00" y2="200.34" stroke="#333" stroke-width="0.5"/>
<line x1="371.00" y1="203.08" x2="369.00" y2="203.08" stroke="#333" stroke-width="0.5"/>
<line x1="369.00" y1="200.34" x2="369.00" y2="203.08" stroke="#333" stroke-width="0.5"/>
<line x1="368.50" y1="164.76" x2="366.50" y2="164.76" stroke="#333" stroke-width="0.5"/>
<line x1="369.00" y1="201.44" x2="366.50" y2="201.44" stroke="#333" stroke-width="0.5"/>
<line x1="366.50" y1="164.76" x2="366.50" y2="201.44" stroke="#333" stroke-width="0.5"/>
<line x1="366.00" y1="126.44" x2="364.30" y2="126.44" stroke="#333" stroke-width="0.5"/>
<line x1="366.50" y1="181.18" x2="364.30" y2="181.18" stroke="#333" stroke-width="0.5"/>
<line x1="364.30" y1="126.44" x2="364.30" y2="181.18" stroke="#333" stroke-width="0.5"/>
<line x1="363.00" y1="47.07" x2="360.50" y2="47.07" stroke="#333" stroke-width="0.5"/>
<line x1="364.30" y1="153.81" x2="360.50" y2="153.81" stroke="#333" stroke-width="0.5"/>
<line x1="360.50" y1="47.07" x2="360.50" y2="153.81" stroke="#333" stroke-width="0.5"/>
<rect x="544.00" y="20.74" width="1.00" height="3.40" fill="#2e4c94" stroke="#1e3570" stroke-width="0.25"/>
<rect x="544.00" y="26.21" width="3.80" height="3.40" fill="#2e4c94" stroke="#1e3570" stroke-width="0.25"/>
<rect x="544.00" y="31.68" width="3.40" height="3.40" fill="#2e4c94" stroke="#1e3570" stroke-width="0.25"/>
<rect x="544.00" y="37.16" width="2.00" height="3.40" fill="#2e4c94" stroke="#1e3570" stroke-width="0.25"/>
<rect x="544.00" y="42.63" width="2.00" height="3.40" fill="#2e4c94" stroke="#1e3570" stroke-width="0.25"/>
<rect x="544.00" y="48.11" width="8.10" height="3.40" fill="#2e4c94" stroke="#1e3570" stroke-width="0.25"/>
<rect x="544.00" y="53.58" width="7.60" height="3.40" fill="#2e4c94" stroke="#1e3570" stroke-width="0.25"/>
<rect x="544.00" y="59.05" width="2.90" height="3.40" fill="#2e4c94" stroke="#1e3570" stroke-width="0.25"/>
<rect x="544.00" y="64.53" width="7.00" height="3.40" fill="#2e4c94" stroke="#1e3570" stroke-width="0.25"/>
<rect x="544.00" y="70.00" width="12.40" height="3.40" fill="#2e4c94" stroke="#1e3570" stroke-width="0.25"/>
<rect x="544.00" y="75.48" width="21.30" height="3.40" fill="#2e4c94" stroke="#1e3570" stroke-width="0.25"/>
<rect x="544.00" y="80.95" width="6.10" height="3.40" fill="#2e4c94" stroke="#1e3570" stroke-width="0.25"/>
<rect x="544.00" y="86.42" width="7.60" height="3.40" fill="#4e6aa8" stroke="#1e3570" stroke-width="0.25"/>
<rect x="544.00" y="91.90" width="2.70" height="3.40" fill="#6a80b8" stroke="#1e3570" stroke-width="0.25"/>
<rect x="542.70" y="97.37" width="1.30" height="3.40" fill="#2e4c94" stroke="#1e3570" stroke-width="0.25"/>
<rect x="529.30" y="102.85" width="14.70" height="3.40" fill="#2e4c94" stroke="#1e3570" stroke-width="0.25"/>
<rect x="535.10" y="108.32" width="8.90" height="3.40" fill="#2e4c94" stroke="#1e3570" stroke-width="0.25"/>
<rect x="540.20" y="113.80" width="3.80" height="3.40" fill="#2e4c94" stroke="#1e3570" stroke-width="0.25"/>
<rect x="540.80" y="119.27" width="3.20" height="3.40" fill="#2e4c94" stroke="#1e3570" stroke-width="0.25"/>
<rect x="542.00" y="124.74" width="2.00" height="3.40" fill="#2e4c94" stroke="#1e3570" stroke-width="0.25"/>
<rect x="535.40" y="130.22" width="8.60" height="3.40" fill="#2e4c94" stroke="#1e3570" stroke-width="0.25"/>
<rect x="542.70" y="135.69" width="1.30" height="3.40" fill="#2e4c94" stroke="#1e3570" stroke-width="0.25"/>
<rect x="543.60" y="141.16" width="0.40" height="3.40" fill="#2e4c94" stroke="#1e3570" stroke-width="0.25"/>
<rect x="543.60" y="146.64" width="0.40" height="3.40" fill="#2e4c94" stroke="#1e3570" stroke-width="0.25"/>
<rect x="543.60" y="152.11" width="0.40" height="3.40" fill="#2e4c94" stroke="#1e3570" stroke-width="0.25"/>
<rect x="532.60" y="157.59" width="11.40" height="3.40" fill="#2e4c94" stroke="#1e3570" stroke-width="0.25"/>
<rect x="519.50" y="163.06" width="24.50" height="3.40" fill="#2e4c94" stroke="#1e3570" stroke-width="0.25"/>
<rect x="533.60" y="168.53" width="10.40" height="3.40" fill="#6078b4" stroke="#1e3570" stroke-width="0.25"/>
<rect x="536.70" y="174.01" width="7.30" height="3.40" fill="#4a66a8" stroke="#1e3570" stroke-width="0.25"/>
<rect x="528.90" y="179.48" width="15.10" height="3.40" fill="#2e4c94" stroke="#1e3570" stroke-width="0.25"/>
<rect x="542.00" y="184.96" width="2.00" height="3.40" fill="#2e4c94" stroke="#1e3570" stroke-width="0.25"/>
<rect x="543.40" y="190.43" width="0.60" height="3.40" fill="#2e4c94" stroke="#1e3570" stroke-width="0.25"/>
<rect x="543.60" y="195.91" width="0.40" height="3.40" fill="#2e4c94" stroke="#1e3570" stroke-width="0.25"/>
<rect x="543.60" y="201.38" width="0.40" height="3.40" fill="#2e4c94" stroke="#1e3570" stroke-width="0.25"/>
<rect x="543.60" y="206.85" width="0.40" height="3.40" fill="#2e4c94" stroke="#1e3570" stroke-width="0.25"/>
<text x="577.60" y="30.21" font-size="7.4" text-anchor="middle" fill="#222" stroke="#222" stroke-width="0.12">*</text>
<text x="577.60" y="41.16" font-size="7.4" text-anchor="middle" fill="#222" stroke="#222" stroke-width="0.12">*</text>
<text x="577.60" y="46.63" font-size="7.4" text-anchor="middle" fill="#222" stroke="#222" stroke-width="0.12">**</text>
<text x="577.60" y="52.11" font-size="7.4" text-anchor="middle" fill="#222" stroke="#222" stroke-width="0.12">*</text>
<text x="577.60" y="57.58" font-size="7.4" text-anchor="middle" fill="#222" stroke="#222" stroke-width="0.12">**</text>
<text x="577.60" y="68.53" font-size="7.4" text-anchor="middle" fill="#222" stroke="#222" stroke-width="0.12">*</text>
<text x="577.60" y="74.00" font-size="7.4" text-anchor="middle" fill="#222" stroke="#222" stroke-width="0.12">**</text>
<text x="577.60" y="79.48" font-size="7.4" text-anchor="middle" fill="#222" stroke="#222" stroke-width="0.12">**</text>
<text x="577.60" y="84.95" font-size="7.4" text-anchor="middle" fill="#222" stroke="#222" stroke-width="0.12">*</text>
<text x="577.60" y="101.37" font-size="7.4" text-anchor="middle" fill="#222" stroke="#222" stroke-width="0.12">*</text>
<text x="577.60" y="106.85" font-size="7.4" text-anchor="middle" fill="#222" stroke="#222" stroke-width="0.12">**</text>
<text x="577.60" y="112.32" font-size="7.4" text-anchor="middle" fill="#222" stroke="#222" stroke-width="0.12">**</text>
<text x="577.60" y="117.80" font-size="7.4" text-anchor="middle" fill="#222" stroke="#222" stroke-width="0.12">**</text>
<text x="577.60" y="123.27" font-size="7.4" text-anchor="middle" fill="#222" stroke="#222" stroke-width="0.12">*</text>
<text x="577.60" y="128.74" font-size="7.4" text-anchor="middle" fill="#222" stroke="#222" stroke-width="0.12">**</text>
<line x1="516.90" y1="210.50" x2="566.70" y2="210.50" stroke="#333" stroke-width="0.4"/>
<line x1="525.70" y1="210.50" x2="525.70" y2="211.80" stroke="#333" stroke-width="0.4"/>
<text x="526.50" y="213.20" font-size="2.6" text-anchor="end" fill="#333" transform="rotate(-90 526.50 213.20)" stroke="#333" stroke-width="0.12">-2</text>
<line x1="543.50" y1="210.50" x2="543.50" y2="211.80" stroke="#333" stroke-width="0.4"/>
<text x="544.30" y="213.20" font-size="2.6" text-anchor="end" fill="#333" transform="rotate(-90 544.30 213.20)" stroke="#333" stroke-width="0.12">0</text>
<line x1="560.40" y1="210.50" x2="560.40" y2="211.80" stroke="#333" stroke-width="0.4"/>
<text x="561.20" y="213.20" font-size="2.6" text-anchor="end" fill="#333" transform="rotate(-90 561.20 213.20)" stroke="#333" stroke-width="0.12">2</text>
<text x="544.00" y="224.20" font-size="6.0" text-anchor="middle" fill="#222" stroke="#222" stroke-width="0.12">log2FC</text>
<defs><linearGradient id="zg" x1="0" y1="0" x2="0" y2="1"><stop offset="0" stop-color="#ee2020"/><stop offset="0.5" stop-color="#f4f4f8"/><stop offset="1" stop-color="#3838b8"/></linearGradient><linearGradient id="pv" x1="0" y1="0" x2="0" y2="1"><stop offset="0" stop-color="#f8f8fc"/><stop offset="1" stop-color="#1e3a8a"/></linearGradient></defs>
<text x="582.00" y="100.60" font-size="6.0" text-anchor="start" fill="#222" stroke="#222" stroke-width="0.12">Zscore</text>
<rect x="582.00" y="102.70" width="5.80" height="26.10" fill="url(#zg)"/>
<text x="589.00" y="105.40" font-size="4.8" text-anchor="start" fill="#333" stroke="#333" stroke-width="0.12">2</text>
<text x="589.00" y="111.50" font-size="4.8" text-anchor="start" fill="#333" stroke="#333" stroke-width="0.12">1</text>
<text x="589.00" y="117.70" font-size="4.8" text-anchor="start" fill="#333" stroke="#333" stroke-width="0.12">0</text>
<text x="589.00" y="123.50" font-size="4.8" text-anchor="start" fill="#333" stroke="#333" stroke-width="0.12">-1</text>
<text x="589.00" y="129.30" font-size="4.8" text-anchor="start" fill="#333" stroke="#333" stroke-width="0.12">-2</text>
<text x="605.80" y="100.60" font-size="6.0" text-anchor="start" fill="#222" stroke="#222" stroke-width="0.12">Group</text>
<rect x="605.80" y="103.10" width="5.00" height="4.10" fill="#92d0cb"/>
<text x="613.00" y="107.00" font-size="4.8" text-anchor="start" fill="#333" stroke="#333" stroke-width="0.12">A</text>
<rect x="605.80" y="108.20" width="5.00" height="4.30" fill="#6c90a8"/>
<text x="613.00" y="112.20" font-size="4.8" text-anchor="start" fill="#333" stroke="#333" stroke-width="0.12">AP</text>
<text x="629.30" y="100.60" font-size="6.0" text-anchor="start" fill="#222" stroke="#222" stroke-width="0.12">pvalue</text>
<rect x="629.20" y="102.70" width="5.60" height="31.30" fill="url(#pv)"/>
<text x="635.70" y="105.40" font-size="4.8" text-anchor="start" fill="#333" stroke="#333" stroke-width="0.12">1</text>
<text x="635.70" y="111.28" font-size="4.8" text-anchor="start" fill="#333" stroke="#333" stroke-width="0.12">0.8</text>
<text x="635.70" y="117.16" font-size="4.8" text-anchor="start" fill="#333" stroke="#333" stroke-width="0.12">0.6</text>
<text x="635.70" y="123.04" font-size="4.8" text-anchor="start" fill="#333" stroke="#333" stroke-width="0.12">0.4</text>
<text x="635.70" y="128.92" font-size="4.8" text-anchor="start" fill="#333" stroke="#333" stroke-width="0.12">0.2</text>
<text x="635.70" y="134.80" font-size="4.8" text-anchor="start" fill="#333" stroke="#333" stroke-width="0.12">0</text>
<text x="10.00" y="234.30" font-size="11.5" text-anchor="start" fill="#000" font-weight="bold" stroke="#000" stroke-width="0.16">E</text>
<rect x="28.50" y="235.80" width="93.90" height="75.20" fill="none" stroke="#555" stroke-width="0.85"/>
<line x1="26.20" y1="311.00" x2="28.50" y2="311.00" stroke="#555" stroke-width="0.8"/>
<text x="25.50" y="312.80" font-size="5.15" text-anchor="end" fill="#111" stroke="#111" stroke-width="0.3">0.0</text>
<line x1="26.20" y1="292.20" x2="28.50" y2="292.20" stroke="#555" stroke-width="0.8"/>
<text x="25.50" y="294.00" font-size="5.15" text-anchor="end" fill="#111" stroke="#111" stroke-width="0.3">0.2</text>
<line x1="26.20" y1="273.40" x2="28.50" y2="273.40" stroke="#555" stroke-width="0.8"/>
<text x="25.50" y="275.20" font-size="5.15" text-anchor="end" fill="#111" stroke="#111" stroke-width="0.3">0.4</text>
<line x1="26.20" y1="254.60" x2="28.50" y2="254.60" stroke="#555" stroke-width="0.8"/>
<text x="25.50" y="256.40" font-size="5.15" text-anchor="end" fill="#111" stroke="#111" stroke-width="0.3">0.6</text>
<line x1="26.20" y1="235.80" x2="28.50" y2="235.80" stroke="#555" stroke-width="0.8"/>
<text x="25.50" y="237.60" font-size="5.15" text-anchor="end" fill="#111" stroke="#111" stroke-width="0.3">0.8</text>
<line x1="37.40" y1="311.00" x2="37.40" y2="313.30" stroke="#555" stroke-width="0.8"/>
<text x="37.40" y="320.20" font-size="5.15" text-anchor="middle" fill="#111" stroke="#111" stroke-width="0.3">2</text>
<line x1="50.10" y1="311.00" x2="50.10" y2="313.30" stroke="#555" stroke-width="0.8"/>
<text x="50.10" y="320.20" font-size="5.15" text-anchor="middle" fill="#111" stroke="#111" stroke-width="0.3">4</text>
<line x1="62.80" y1="311.00" x2="62.80" y2="313.30" stroke="#555" stroke-width="0.8"/>
<text x="62.80" y="320.20" font-size="5.15" text-anchor="middle" fill="#111" stroke="#111" stroke-width="0.3">6</text>
<line x1="75.50" y1="311.00" x2="75.50" y2="313.30" stroke="#555" stroke-width="0.8"/>
<text x="75.50" y="320.20" font-size="5.15" text-anchor="middle" fill="#111" stroke="#111" stroke-width="0.3">8</text>
<line x1="88.40" y1="311.00" x2="88.40" y2="313.30" stroke="#555" stroke-width="0.8"/>
<text x="88.40" y="320.20" font-size="5.15" text-anchor="middle" fill="#111" stroke="#111" stroke-width="0.3">10</text>
<line x1="101.30" y1="311.00" x2="101.30" y2="313.30" stroke="#555" stroke-width="0.8"/>
<text x="101.30" y="320.20" font-size="5.15" text-anchor="middle" fill="#111" stroke="#111" stroke-width="0.3">12</text>
<line x1="113.70" y1="311.00" x2="113.70" y2="313.30" stroke="#555" stroke-width="0.8"/>
<text x="113.70" y="320.20" font-size="5.15" text-anchor="middle" fill="#111" stroke="#111" stroke-width="0.3">24</text>
<text x="75.50" y="329.60" font-size="6.3" text-anchor="middle" fill="#111" font-weight="bold" stroke="#111" stroke-width="0.16">Hour</text>
<text x="17.00" y="273.40" font-size="5.7" text-anchor="middle" fill="#111" font-weight="bold" transform="rotate(-90 17.00 273.40)" stroke="#111" stroke-width="0.16">Pyridoxamine (mg/L)</text>
<polyline points="37.40,311.00 50.10,311.00 62.80,311.00 75.50,311.00 88.40,311.00 101.30,311.00 113.70,311.00" fill="none" stroke="#f08c30" stroke-width="0.9"/>
<circle cx="37.40" cy="311.00" r="1.44" fill="#f5a040" stroke="#9a6aa0" stroke-width="0.6"/>
<circle cx="50.10" cy="311.00" r="1.44" fill="#f5a040" stroke="#9a6aa0" stroke-width="0.6"/>
<circle cx="62.80" cy="311.00" r="1.44" fill="#f5a040" stroke="#9a6aa0" stroke-width="0.6"/>
<circle cx="75.50" cy="311.00" r="1.44" fill="#f5a040" stroke="#9a6aa0" stroke-width="0.6"/>
<circle cx="88.40" cy="311.00" r="1.44" fill="#f5a040" stroke="#9a6aa0" stroke-width="0.6"/>
<circle cx="101.30" cy="311.00" r="1.44" fill="#f5a040" stroke="#9a6aa0" stroke-width="0.6"/>
<circle cx="113.70" cy="311.00" r="1.44" fill="#f5a040" stroke="#9a6aa0" stroke-width="0.6"/>
<polyline points="37.40,311.00 50.10,279.98 62.80,276.22 75.50,271.52 88.40,266.82 101.30,265.88 113.70,265.88" fill="none" stroke="#e058e8" stroke-width="0.9"/>
<rect x="35.96" y="309.56" width="2.88" height="2.88" fill="#e060e0" stroke="#a06830" stroke-width="0.72"/>
<line x1="50.10" y1="279.04" x2="50.10" y2="280.92" stroke="#a06830" stroke-width="0.6"/>
<line x1="49.00" y1="279.04" x2="51.20" y2="279.04" stroke="#a06830" stroke-width="0.6"/>
<line x1="49.00" y1="280.92" x2="51.20" y2="280.92" stroke="#a06830" stroke-width="0.6"/>
<rect x="48.66" y="278.54" width="2.88" height="2.88" fill="#e060e0" stroke="#a06830" stroke-width="0.72"/>
<line x1="62.80" y1="272.46" x2="62.80" y2="279.98" stroke="#a06830" stroke-width="0.6"/>
<line x1="61.70" y1="272.46" x2="63.90" y2="272.46" stroke="#a06830" stroke-width="0.6"/>
<line x1="61.70" y1="279.98" x2="63.90" y2="279.98" stroke="#a06830" stroke-width="0.6"/>
<rect x="61.36" y="274.78" width="2.88" height="2.88" fill="#e060e0" stroke="#a06830" stroke-width="0.72"/>
<line x1="75.50" y1="268.70" x2="75.50" y2="274.34" stroke="#a06830" stroke-width="0.6"/>
<line x1="74.40" y1="268.70" x2="76.60" y2="268.70" stroke="#a06830" stroke-width="0.6"/>
<line x1="74.40" y1="274.34" x2="76.60" y2="274.34" stroke="#a06830" stroke-width="0.6"/>
<rect x="74.06" y="270.08" width="2.88" height="2.88" fill="#e060e0" stroke="#a06830" stroke-width="0.72"/>
<line x1="88.40" y1="264.94" x2="88.40" y2="268.70" stroke="#a06830" stroke-width="0.6"/>
<line x1="87.30" y1="264.94" x2="89.50" y2="264.94" stroke="#a06830" stroke-width="0.6"/>
<line x1="87.30" y1="268.70" x2="89.50" y2="268.70" stroke="#a06830" stroke-width="0.6"/>
<rect x="86.96" y="265.38" width="2.88" height="2.88" fill="#e060e0" stroke="#a06830" stroke-width="0.72"/>
<line x1="101.30" y1="264.47" x2="101.30" y2="267.29" stroke="#a06830" stroke-width="0.6"/>
<line x1="100.20" y1="264.47" x2="102.40" y2="264.47" stroke="#a06830" stroke-width="0.6"/>
<line x1="100.20" y1="267.29" x2="102.40" y2="267.29" stroke="#a06830" stroke-width="0.6"/>
<rect x="99.86" y="264.44" width="2.88" height="2.88" fill="#e060e0" stroke="#a06830" stroke-width="0.72"/>
<line x1="113.70" y1="264.94" x2="113.70" y2="266.82" stroke="#a06830" stroke-width="0.6"/>
<line x1="112.60" y1="264.94" x2="114.80" y2="264.94" stroke="#a06830" stroke-width="0.6"/>
<line x1="112.60" y1="266.82" x2="114.80" y2="266.82" stroke="#a06830" stroke-width="0.6"/>
<rect x="112.26" y="264.44" width="2.88" height="2.88" fill="#e060e0" stroke="#a06830" stroke-width="0.72"/>
<polyline points="37.40,262.12 50.10,258.36 62.80,251.78 75.50,260.24 88.40,256.48 101.30,252.72 113.70,251.78" fill="none" stroke="#44dd44" stroke-width="0.9"/>
<line x1="37.40" y1="259.77" x2="37.40" y2="264.47" stroke="#44dd44" stroke-width="0.6"/>
<line x1="36.30" y1="259.77" x2="38.50" y2="259.77" stroke="#44dd44" stroke-width="0.6"/>
<line x1="36.30" y1="264.47" x2="38.50" y2="264.47" stroke="#44dd44" stroke-width="0.6"/>
<polygon points="37.40,260.25 35.68,263.37 39.12,263.37" fill="#44dd44"/>
<line x1="50.10" y1="256.95" x2="50.10" y2="259.77" stroke="#44dd44" stroke-width="0.6"/>
<line x1="49.00" y1="256.95" x2="51.20" y2="256.95" stroke="#44dd44" stroke-width="0.6"/>
<line x1="49.00" y1="259.77" x2="51.20" y2="259.77" stroke="#44dd44" stroke-width="0.6"/>
<polygon points="50.10,256.49 48.38,259.61 51.82,259.61" fill="#44dd44"/>
<line x1="62.80" y1="249.90" x2="62.80" y2="253.66" stroke="#44dd44" stroke-width="0.6"/>
<line x1="61.70" y1="249.90" x2="63.90" y2="249.90" stroke="#44dd44" stroke-width="0.6"/>
<line x1="61.70" y1="253.66" x2="63.90" y2="253.66" stroke="#44dd44" stroke-width="0.6"/>
<polygon points="62.80,249.91 61.08,253.03 64.52,253.03" fill="#44dd44"/>
<line x1="75.50" y1="259.30" x2="75.50" y2="261.18" stroke="#44dd44" stroke-width="0.6"/>
<line x1="74.40" y1="259.30" x2="76.60" y2="259.30" stroke="#44dd44" stroke-width="0.6"/>
<line x1="74.40" y1="261.18" x2="76.60" y2="261.18" stroke="#44dd44" stroke-width="0.6"/>
<polygon points="75.50,258.37 73.78,261.49 77.22,261.49" fill="#44dd44"/>
<line x1="88.40" y1="255.54" x2="88.40" y2="257.42" stroke="#44dd44" stroke-width="0.6"/>
<line x1="87.30" y1="255.54" x2="89.50" y2="255.54" stroke="#44dd44" stroke-width="0.6"/>
<line x1="87.30" y1="257.42" x2="89.50" y2="257.42" stroke="#44dd44" stroke-width="0.6"/>
<polygon points="88.40,254.61 86.68,257.73 90.12,257.73" fill="#44dd44"/>
<line x1="101.30" y1="249.90" x2="101.30" y2="255.54" stroke="#44dd44" stroke-width="0.6"/>
<line x1="100.20" y1="249.90" x2="102.40" y2="249.90" stroke="#44dd44" stroke-width="0.6"/>
<line x1="100.20" y1="255.54" x2="102.40" y2="255.54" stroke="#44dd44" stroke-width="0.6"/>
<polygon points="101.30,250.85 99.58,253.97 103.02,253.97" fill="#44dd44"/>
<line x1="113.70" y1="250.37" x2="113.70" y2="253.19" stroke="#44dd44" stroke-width="0.6"/>
<line x1="112.60" y1="250.37" x2="114.80" y2="250.37" stroke="#44dd44" stroke-width="0.6"/>
<line x1="112.60" y1="253.19" x2="114.80" y2="253.19" stroke="#44dd44" stroke-width="0.6"/>
<polygon points="113.70,249.91 111.98,253.03 115.42,253.03" fill="#44dd44"/>
<circle cx="37.40" cy="311.00" r="1.10" fill="#f0a050" stroke="#8080e0" stroke-width="0.35"/>
<circle cx="50.10" cy="311.00" r="1.10" fill="#f0a050" stroke="#8080e0" stroke-width="0.35"/>
<circle cx="62.80" cy="311.00" r="1.10" fill="#f0a050" stroke="#8080e0" stroke-width="0.35"/>
<circle cx="75.50" cy="311.00" r="1.10" fill="#f0a050" stroke="#8080e0" stroke-width="0.35"/>
<circle cx="88.40" cy="311.00" r="1.10" fill="#f0a050" stroke="#8080e0" stroke-width="0.35"/>
<circle cx="101.30" cy="311.00" r="1.10" fill="#f0a050" stroke="#8080e0" stroke-width="0.35"/>
<circle cx="113.70" cy="311.00" r="1.10" fill="#f0a050" stroke="#8080e0" stroke-width="0.35"/>
<line x1="134.40" y1="238.70" x2="140.40" y2="238.70" stroke="#f0a050" stroke-width="0.7"/>
<polygon points="137.40,237.08 135.91,239.78 138.89,239.78" fill="#f0a050"/>
<text x="0.00" y="0.00" font-size="5.0" text-anchor="start" fill="#111" font-weight="bold" transform="translate(144.60 240.50) scale(0.85 1)" stroke="#111" stroke-width="0.16">GR-6</text>
<line x1="134.40" y1="247.50" x2="140.40" y2="247.50" stroke="#8090f0" stroke-width="0.7"/>
<polygon points="137.40,249.12 135.91,246.42 138.89,246.42" fill="#8090f0"/>
<text x="0.00" y="0.00" font-size="5.0" text-anchor="start" fill="#111" font-weight="bold" transform="translate(144.60 249.30) scale(0.85 1)" stroke="#111" stroke-width="0.16">GR-7</text>
<line x1="134.40" y1="256.20" x2="140.40" y2="256.20" stroke="#ee3030" stroke-width="0.7"/>
<circle cx="137.40" cy="256.20" r="1.35" fill="#ee3030"/>
<text x="0.00" y="0.00" font-size="5.0" text-anchor="start" fill="#111" font-weight="bold" transform="translate(144.60 258.00) scale(0.85 1)" stroke="#111" stroke-width="0.16">A</text>
<line x1="134.40" y1="264.80" x2="140.40" y2="264.80" stroke="#c040f0" stroke-width="0.7"/>
<polygon points="137.40,263.18 136.05,264.80 137.40,266.42 138.75,264.80" fill="#c040f0"/>
<text x="0.00" y="0.00" font-size="5.0" text-anchor="start" fill="#111" font-weight="bold" transform="translate(144.60 266.60) scale(0.85 1)" stroke="#111" stroke-width="0.16">A+6</text>
<line x1="134.40" y1="273.00" x2="140.40" y2="273.00" stroke="#f08a30" stroke-width="0.7"/>
<circle cx="137.40" cy="273.00" r="1.35" fill="#f08a30"/>
<text x="0.00" y="0.00" font-size="5.0" text-anchor="start" fill="#111" font-weight="bold" transform="translate(144.60 274.80) scale(0.85 1)" stroke="#111" stroke-width="0.16">A+7</text>
<line x1="134.40" y1="283.40" x2="140.40" y2="283.40" stroke="#6a6030" stroke-width="0.7"/>
<circle cx="137.40" cy="283.40" r="1.35" fill="none" stroke="#4a4020" stroke-width="0.5"/>
<text x="0.00" y="0.00" font-size="5.0" text-anchor="start" fill="#111" font-weight="bold" transform="translate(144.60 285.20) scale(0.85 1)" stroke="#111" stroke-width="0.16">A+6+7S</text>
<line x1="134.40" y1="293.00" x2="140.40" y2="293.00" stroke="#d050d0" stroke-width="0.7"/>
<rect x="136.05" y="291.65" width="2.70" height="2.70" fill="#d050d0" stroke="#a06830" stroke-width="0.5"/>
<text x="0.00" y="0.00" font-size="5.0" text-anchor="start" fill="#111" font-weight="bold" transform="translate(144.60 294.80) scale(0.85 1)" stroke="#111" stroke-width="0.16">A+7+6S</text>
<line x1="134.40" y1="301.50" x2="140.40" y2="301.50" stroke="#44dd44" stroke-width="0.7"/>
<polygon points="137.40,299.88 135.91,302.58 138.89,302.58" fill="none" stroke="#44dd44" stroke-width="0.5"/>
<text x="0.00" y="0.00" font-size="5.0" text-anchor="start" fill="#111" font-weight="bold" transform="translate(144.60 303.30) scale(0.85 1)" stroke="#111" stroke-width="0.16">A+6+7</text>
<line x1="122.60" y1="250.90" x2="126.40" y2="250.90" stroke="#222" stroke-width="0.5"/>
<line x1="122.60" y1="310.60" x2="126.40" y2="310.60" stroke="#222" stroke-width="0.5"/>
<line x1="126.40" y1="250.90" x2="126.40" y2="310.60" stroke="#222" stroke-width="0.5"/>
<line x1="126.80" y1="251.40" x2="130.60" y2="251.40" stroke="#222" stroke-width="0.5"/>
<line x1="126.80" y1="310.60" x2="130.60" y2="310.60" stroke="#222" stroke-width="0.5"/>
<line x1="130.60" y1="251.40" x2="130.60" y2="310.60" stroke="#222" stroke-width="0.5"/>
<line x1="122.60" y1="266.00" x2="126.40" y2="266.00" stroke="#111" stroke-width="0.9"/>
<circle cx="132.30" cy="255.50" r="0.50" fill="#333"/>
<circle cx="132.30" cy="257.50" r="0.50" fill="#333"/>
<circle cx="132.30" cy="259.50" r="0.50" fill="#333"/>
<circle cx="132.30" cy="261.50" r="0.50" fill="#333"/>
<circle cx="132.30" cy="277.20" r="0.50" fill="#333"/>
<circle cx="132.30" cy="279.20" r="0.50" fill="#333"/>
<circle cx="132.30" cy="281.20" r="0.50" fill="#333"/>
<circle cx="132.30" cy="283.20" r="0.50" fill="#333"/>
<circle cx="128.30" cy="283.20" r="0.50" fill="#333"/>
<circle cx="128.30" cy="285.20" r="0.50" fill="#333"/>
<circle cx="128.30" cy="287.20" r="0.50" fill="#333"/>
<circle cx="128.30" cy="289.20" r="0.50" fill="#333"/>
<text x="174.00" y="234.80" font-size="11.5" text-anchor="start" fill="#000" font-weight="bold" stroke="#000" stroke-width="0.16">F</text>
<rect x="188.40" y="236.20" width="94.20" height="74.60" fill="none" stroke="#555" stroke-width="0.85"/>
<line x1="186.10" y1="310.80" x2="188.40" y2="310.80" stroke="#555" stroke-width="0.8"/>
<text x="185.40" y="312.60" font-size="5.15" text-anchor="end" fill="#111" stroke="#111" stroke-width="0.3">0.0</text>
<line x1="186.10" y1="292.15" x2="188.40" y2="292.15" stroke="#555" stroke-width="0.8"/>
<text x="185.40" y="293.95" font-size="5.15" text-anchor="end" fill="#111" stroke="#111" stroke-width="0.3">0.5</text>
<line x1="186.10" y1="273.50" x2="188.40" y2="273.50" stroke="#555" stroke-width="0.8"/>
<text x="185.40" y="275.30" font-size="5.15" text-anchor="end" fill="#111" stroke="#111" stroke-width="0.3">1.0</text>
<line x1="186.10" y1="254.85" x2="188.40" y2="254.85" stroke="#555" stroke-width="0.8"/>
<text x="185.40" y="256.65" font-size="5.15" text-anchor="end" fill="#111" stroke="#111" stroke-width="0.3">1.5</text>
<line x1="186.10" y1="236.20" x2="188.40" y2="236.20" stroke="#555" stroke-width="0.8"/>
<text x="185.40" y="238.00" font-size="5.15" text-anchor="end" fill="#111" stroke="#111" stroke-width="0.3">2.0</text>
<line x1="197.50" y1="310.80" x2="197.50" y2="313.10" stroke="#555" stroke-width="0.8"/>
<text x="197.50" y="320.00" font-size="5.15" text-anchor="middle" fill="#111" stroke="#111" stroke-width="0.3">2</text>
<line x1="209.90" y1="310.80" x2="209.90" y2="313.10" stroke="#555" stroke-width="0.8"/>
<text x="209.90" y="320.00" font-size="5.15" text-anchor="middle" fill="#111" stroke="#111" stroke-width="0.3">4</text>
<line x1="222.60" y1="310.80" x2="222.60" y2="313.10" stroke="#555" stroke-width="0.8"/>
<text x="222.60" y="320.00" font-size="5.15" text-anchor="middle" fill="#111" stroke="#111" stroke-width="0.3">6</text>
<line x1="235.30" y1="310.80" x2="235.30" y2="313.10" stroke="#555" stroke-width="0.8"/>
<text x="235.30" y="320.00" font-size="5.15" text-anchor="middle" fill="#111" stroke="#111" stroke-width="0.3">8</text>
<line x1="248.00" y1="310.80" x2="248.00" y2="313.10" stroke="#555" stroke-width="0.8"/>
<text x="248.00" y="320.00" font-size="5.15" text-anchor="middle" fill="#111" stroke="#111" stroke-width="0.3">10</text>
<line x1="260.90" y1="310.80" x2="260.90" y2="313.10" stroke="#555" stroke-width="0.8"/>
<text x="260.90" y="320.00" font-size="5.15" text-anchor="middle" fill="#111" stroke="#111" stroke-width="0.3">12</text>
<line x1="273.30" y1="310.80" x2="273.30" y2="313.10" stroke="#555" stroke-width="0.8"/>
<text x="273.30" y="320.00" font-size="5.15" text-anchor="middle" fill="#111" stroke="#111" stroke-width="0.3">24</text>
<text x="236.20" y="329.60" font-size="6.3" text-anchor="middle" fill="#111" font-weight="bold" stroke="#111" stroke-width="0.16">Hour</text>
<text x="176.00" y="273.50" font-size="5.2" text-anchor="middle" fill="#111" font-weight="bold" transform="rotate(-90 176.00 273.50)" stroke="#111" stroke-width="0.16">OD600</text>
<polyline points="197.50,308.94 209.90,275.37 222.60,264.18 235.30,261.56 248.00,258.58 260.90,251.87 273.30,246.64" fill="none" stroke="#f09040" stroke-width="0.9"/>
<polygon points="197.50,307.21 195.92,310.09 199.08,310.09" fill="#f09040"/>
<polygon points="209.90,273.64 208.32,276.52 211.48,276.52" fill="#f09040"/>
<polygon points="222.60,262.45 221.02,265.33 224.18,265.33" fill="#f09040"/>
<polygon points="235.30,259.84 233.72,262.72 236.88,262.72" fill="#f09040"/>
<polygon points="248.00,256.85 246.42,259.73 249.58,259.73" fill="#f09040"/>
<polygon points="260.90,250.14 259.32,253.02 262.48,253.02" fill="#f09040"/>
<polygon points="273.30,244.92 271.72,247.80 274.88,247.80" fill="#f09040"/>
<polyline points="197.50,307.07 209.90,288.42 222.60,263.43 235.30,260.44 248.00,254.85 260.90,250.37 273.30,245.52" fill="none" stroke="#8090f0" stroke-width="0.9"/>
<polygon points="197.50,308.80 195.92,305.92 199.08,305.92" fill="#8090f0"/>
<polygon points="209.90,290.15 208.32,287.27 211.48,287.27" fill="#8090f0"/>
<polygon points="222.60,265.16 221.02,262.28 224.18,262.28" fill="#8090f0"/>
<polygon points="235.30,262.17 233.72,259.29 236.88,259.29" fill="#8090f0"/>
<polygon points="248.00,256.58 246.42,253.70 249.58,253.70" fill="#8090f0"/>
<polygon points="260.90,252.10 259.32,249.22 262.48,249.22" fill="#8090f0"/>
<polygon points="273.30,247.25 271.72,244.37 274.88,244.37" fill="#8090f0"/>
<polyline points="197.50,308.94 209.90,287.67 222.60,267.90 235.30,262.31 248.00,259.70 260.90,251.12 273.30,246.64" fill="none" stroke="#ee3030" stroke-width="0.9"/>
<circle cx="197.50" cy="308.94" r="1.44" fill="#ee3030"/>
<circle cx="209.90" cy="287.67" r="1.44" fill="#ee3030"/>
<circle cx="222.60" cy="267.90" r="1.44" fill="#ee3030"/>
<circle cx="235.30" cy="262.31" r="1.44" fill="#ee3030"/>
<circle cx="248.00" cy="259.70" r="1.44" fill="#ee3030"/>
<circle cx="260.90" cy="251.12" r="1.44" fill="#ee3030"/>
<circle cx="273.30" cy="246.64" r="1.44" fill="#ee3030"/>
<polyline points="197.50,304.46 209.90,279.10 222.60,261.19 235.30,260.44 248.00,251.12 260.90,249.25 273.30,244.41" fill="none" stroke="#c040f0" stroke-width="0.9"/>
<polygon points="197.50,302.73 196.06,304.46 197.50,306.19 198.94,304.46" fill="#c040f0"/>
<polygon points="209.90,277.37 208.46,279.10 209.90,280.82 211.34,279.10" fill="#c040f0"/>
<polygon points="222.60,259.46 221.16,261.19 222.60,262.92 224.04,261.19" fill="#c040f0"/>
<polygon points="235.30,258.72 233.86,260.44 235.30,262.17 236.74,260.44" fill="#c040f0"/>
<polygon points="248.00,249.39 246.56,251.12 248.00,252.85 249.44,251.12" fill="#c040f0"/>
<polygon points="260.90,247.53 259.46,249.25 260.90,250.98 262.34,249.25" fill="#c040f0"/>
<polygon points="273.30,242.68 271.86,244.41 273.30,246.13 274.74,244.41" fill="#c040f0"/>
<polyline points="197.50,310.05 209.90,286.56 222.60,264.92 235.30,260.44 248.00,256.71 260.90,251.12 273.30,245.90" fill="none" stroke="#f08a30" stroke-width="0.9"/>
<circle cx="197.50" cy="310.05" r="1.44" fill="#f08a30"/>
<circle cx="209.90" cy="286.56" r="1.44" fill="#f08a30"/>
<circle cx="222.60" cy="264.92" r="1.44" fill="#f08a30"/>
<circle cx="235.30" cy="260.44" r="1.44" fill="#f08a30"/>
<circle cx="248.00" cy="256.71" r="1.44" fill="#f08a30"/>
<circle cx="260.90" cy="251.12" r="1.44" fill="#f08a30"/>
<circle cx="273.30" cy="245.90" r="1.44" fill="#f08a30"/>
<polyline points="197.50,310.05 209.90,291.40 222.60,276.48 235.30,274.62 248.00,268.65 260.90,257.83 273.30,250.37" fill="none" stroke="#7a6a3a" stroke-width="0.9"/>
<circle cx="197.50" cy="310.05" r="1.56" fill="#a8a890" stroke="#2a2a10" stroke-width="0.72"/>
<circle cx="209.90" cy="291.40" r="1.56" fill="#a8a890" stroke="#2a2a10" stroke-width="0.72"/>
<circle cx="222.60" cy="276.48" r="1.56" fill="#a8a890" stroke="#2a2a10" stroke-width="0.72"/>
<circle cx="235.30" cy="274.62" r="1.56" fill="#a8a890" stroke="#2a2a10" stroke-width="0.72"/>
<circle cx="248.00" cy="268.65" r="1.56" fill="#a8a890" stroke="#2a2a10" stroke-width="0.72"/>
<circle cx="260.90" cy="257.83" r="1.56" fill="#a8a890" stroke="#2a2a10" stroke-width="0.72"/>
<circle cx="273.30" cy="250.37" r="1.56" fill="#a8a890" stroke="#2a2a10" stroke-width="0.72"/>
<polyline points="197.50,310.80 209.90,303.34 222.60,294.76 235.30,283.94 248.00,273.13 260.90,260.07 273.30,251.87" fill="none" stroke="#d050e0" stroke-width="0.9"/>
<rect x="196.06" y="309.36" width="2.88" height="2.88" fill="#c050c0" stroke="#905030" stroke-width="0.6"/>
<rect x="208.46" y="301.90" width="2.88" height="2.88" fill="#c050c0" stroke="#905030" stroke-width="0.6"/>
<rect x="221.16" y="293.32" width="2.88" height="2.88" fill="#c050c0" stroke="#905030" stroke-width="0.6"/>
<rect x="233.86" y="282.50" width="2.88" height="2.88" fill="#c050c0" stroke="#905030" stroke-width="0.6"/>
<rect x="246.56" y="271.69" width="2.88" height="2.88" fill="#c050c0" stroke="#905030" stroke-width="0.6"/>
<rect x="259.46" y="258.63" width="2.88" height="2.88" fill="#c050c0" stroke="#905030" stroke-width="0.6"/>
<rect x="271.86" y="250.43" width="2.88" height="2.88" fill="#c050c0" stroke="#905030" stroke-width="0.6"/>
<polyline points="197.50,308.94 209.90,284.69 222.60,263.06 235.30,258.58 248.00,250.00 260.90,246.64 273.30,241.05" fill="none" stroke="#44dd44" stroke-width="0.9"/>
<polygon points="197.50,307.21 195.92,310.09 199.08,310.09" fill="none" stroke="#44dd44" stroke-width="0.6"/>
<polygon points="209.90,282.96 208.32,285.84 211.48,285.84" fill="none" stroke="#44dd44" stroke-width="0.6"/>
<polygon points="222.60,261.33 221.02,264.21 224.18,264.21" fill="none" stroke="#44dd44" stroke-width="0.6"/>
<polygon points="235.30,256.85 233.72,259.73 236.88,259.73" fill="none" stroke="#44dd44" stroke-width="0.6"/>
<polygon points="248.00,248.27 246.42,251.15 249.58,251.15" fill="none" stroke="#44dd44" stroke-width="0.6"/>
<polygon points="260.90,244.92 259.32,247.80 262.48,247.80" fill="none" stroke="#44dd44" stroke-width="0.6"/>
<polygon points="273.30,239.32 271.72,242.20 274.88,242.20" fill="none" stroke="#44dd44" stroke-width="0.6"/>
<line x1="283.40" y1="238.20" x2="289.40" y2="238.20" stroke="#f0a050" stroke-width="0.7"/>
<polygon points="286.40,236.58 284.91,239.28 287.88,239.28" fill="#f0a050"/>
<text x="0.00" y="0.00" font-size="5.0" text-anchor="start" fill="#111" font-weight="bold" transform="translate(293.80 240.00) scale(0.85 1)" stroke="#111" stroke-width="0.16">GR-6</text>
<line x1="283.40" y1="247.90" x2="289.40" y2="247.90" stroke="#8090f0" stroke-width="0.7"/>
<polygon points="286.40,249.52 284.91,246.82 287.88,246.82" fill="#8090f0"/>
<text x="0.00" y="0.00" font-size="5.0" text-anchor="start" fill="#111" font-weight="bold" transform="translate(293.80 249.70) scale(0.85 1)" stroke="#111" stroke-width="0.16">GR-7</text>
<line x1="283.40" y1="258.30" x2="289.40" y2="258.30" stroke="#ee3030" stroke-width="0.7"/>
<circle cx="286.40" cy="258.30" r="1.35" fill="#ee3030"/>
<text x="0.00" y="0.00" font-size="5.0" text-anchor="start" fill="#111" font-weight="bold" transform="translate(293.80 260.10) scale(0.85 1)" stroke="#111" stroke-width="0.16">A</text>
<line x1="283.40" y1="268.10" x2="289.40" y2="268.10" stroke="#c040f0" stroke-width="0.7"/>
<polygon points="286.40,266.48 285.05,268.10 286.40,269.72 287.75,268.10" fill="#c040f0"/>
<text x="0.00" y="0.00" font-size="5.0" text-anchor="start" fill="#111" font-weight="bold" transform="translate(293.80 269.90) scale(0.85 1)" stroke="#111" stroke-width="0.16">A+6</text>
<line x1="283.40" y1="278.10" x2="289.40" y2="278.10" stroke="#f08a30" stroke-width="0.7"/>
<circle cx="286.40" cy="278.10" r="1.35" fill="#f08a30"/>
<text x="0.00" y="0.00" font-size="5.0" text-anchor="start" fill="#111" font-weight="bold" transform="translate(293.80 279.90) scale(0.85 1)" stroke="#111" stroke-width="0.16">A+7</text>
<line x1="283.40" y1="288.00" x2="289.40" y2="288.00" stroke="#6a6030" stroke-width="0.7"/>
<circle cx="286.40" cy="288.00" r="1.35" fill="none" stroke="#4a4020" stroke-width="0.5"/>
<text x="0.00" y="0.00" font-size="5.0" text-anchor="start" fill="#111" font-weight="bold" transform="translate(293.80 289.80) scale(0.85 1)" stroke="#111" stroke-width="0.16">A+6+7S</text>
<line x1="283.40" y1="298.20" x2="289.40" y2="298.20" stroke="#d050d0" stroke-width="0.7"/>
<rect x="285.05" y="296.85" width="2.70" height="2.70" fill="#d050d0" stroke="#a06830" stroke-width="0.5"/>
<text x="0.00" y="0.00" font-size="5.0" text-anchor="start" fill="#111" font-weight="bold" transform="translate(293.80 300.00) scale(0.85 1)" stroke="#111" stroke-width="0.16">A+7+6S</text>
<line x1="283.40" y1="308.40" x2="289.40" y2="308.40" stroke="#44dd44" stroke-width="0.7"/>
<polygon points="286.40,306.78 284.91,309.48 287.88,309.48" fill="none" stroke="#44dd44" stroke-width="0.5"/>
<text x="0.00" y="0.00" font-size="5.0" text-anchor="start" fill="#111" font-weight="bold" transform="translate(293.80 310.20) scale(0.85 1)" stroke="#111" stroke-width="0.16">A+6+7</text>
<line x1="309.90" y1="256.60" x2="313.80" y2="256.60" stroke="#222" stroke-width="0.5"/>
<line x1="309.90" y1="309.70" x2="313.80" y2="309.70" stroke="#222" stroke-width="0.5"/>
<line x1="313.80" y1="256.60" x2="313.80" y2="309.70" stroke="#222" stroke-width="0.5"/>
<line x1="309.50" y1="289.30" x2="313.80" y2="289.30" stroke="#222" stroke-width="0.6"/>
<line x1="317.50" y1="256.60" x2="320.40" y2="256.60" stroke="#222" stroke-width="0.5"/>
<line x1="317.50" y1="309.70" x2="320.40" y2="309.70" stroke="#222" stroke-width="0.5"/>
<line x1="320.40" y1="256.60" x2="320.40" y2="309.70" stroke="#222" stroke-width="0.5"/>
<line x1="316.70" y1="299.50" x2="320.40" y2="299.50" stroke="#111" stroke-width="0.9"/>
<text x="315.30" y="274.60" font-size="3.6" text-anchor="middle" fill="#222" font-weight="bold" stroke="#222" stroke-width="0.16">*</text>
<circle cx="315.30" cy="297.20" r="0.50" fill="#333"/>
<circle cx="315.30" cy="299.20" r="0.50" fill="#333"/>
<circle cx="315.30" cy="301.20" r="0.50" fill="#333"/>
<circle cx="322.60" cy="301.00" r="0.50" fill="#333"/>
<circle cx="322.60" cy="303.00" r="0.50" fill="#333"/>
<circle cx="322.60" cy="305.00" r="0.50" fill="#333"/>
<circle cx="322.60" cy="307.00" r="0.50" fill="#333"/>
<circle cx="322.60" cy="275.40" r="0.50" fill="#333"/>
<circle cx="322.60" cy="277.40" r="0.50" fill="#333"/>
<circle cx="322.60" cy="279.40" r="0.50" fill="#333"/>
<circle cx="322.60" cy="281.40" r="0.50" fill="#333"/>
<text x="332.20" y="234.60" font-size="11.5" text-anchor="start" fill="#000" font-weight="bold" stroke="#000" stroke-width="0.16">G</text>
<rect x="362.90" y="235.30" width="95.10" height="75.70" fill="none" stroke="#555" stroke-width="0.85"/>
<line x1="360.60" y1="311.00" x2="362.90" y2="311.00" stroke="#555" stroke-width="0.8"/>
<text x="359.90" y="312.44" font-size="4.12" text-anchor="end" fill="#111" stroke="#111" stroke-width="0.3">0</text>
<line x1="360.60" y1="295.86" x2="362.90" y2="295.86" stroke="#555" stroke-width="0.8"/>
<text x="359.90" y="297.30" font-size="4.12" text-anchor="end" fill="#111" stroke="#111" stroke-width="0.3">20</text>
<line x1="360.60" y1="280.72" x2="362.90" y2="280.72" stroke="#555" stroke-width="0.8"/>
<text x="359.90" y="282.16" font-size="4.12" text-anchor="end" fill="#111" stroke="#111" stroke-width="0.3">40</text>
<line x1="360.60" y1="265.58" x2="362.90" y2="265.58" stroke="#555" stroke-width="0.8"/>
<text x="359.90" y="267.02" font-size="4.12" text-anchor="end" fill="#111" stroke="#111" stroke-width="0.3">60</text>
<line x1="360.60" y1="250.44" x2="362.90" y2="250.44" stroke="#555" stroke-width="0.8"/>
<text x="359.90" y="251.88" font-size="4.12" text-anchor="end" fill="#111" stroke="#111" stroke-width="0.3">80</text>
<line x1="360.60" y1="235.30" x2="362.90" y2="235.30" stroke="#555" stroke-width="0.8"/>
<text x="359.90" y="236.74" font-size="4.12" text-anchor="end" fill="#111" stroke="#111" stroke-width="0.3">100</text>
<line x1="371.30" y1="311.00" x2="371.30" y2="313.30" stroke="#555" stroke-width="0.8"/>
<text x="371.30" y="319.46" font-size="4.7379999999999995" text-anchor="middle" fill="#111" stroke="#111" stroke-width="0.3">2</text>
<line x1="384.50" y1="311.00" x2="384.50" y2="313.30" stroke="#555" stroke-width="0.8"/>
<text x="384.50" y="319.46" font-size="4.7379999999999995" text-anchor="middle" fill="#111" stroke="#111" stroke-width="0.3">4</text>
<line x1="397.40" y1="311.00" x2="397.40" y2="313.30" stroke="#555" stroke-width="0.8"/>
<text x="397.40" y="319.46" font-size="4.7379999999999995" text-anchor="middle" fill="#111" stroke="#111" stroke-width="0.3">6</text>
<line x1="410.60" y1="311.00" x2="410.60" y2="313.30" stroke="#555" stroke-width="0.8"/>
<text x="410.60" y="319.46" font-size="4.7379999999999995" text-anchor="middle" fill="#111" stroke="#111" stroke-width="0.3">8</text>
<line x1="423.50" y1="311.00" x2="423.50" y2="313.30" stroke="#555" stroke-width="0.8"/>
<text x="423.50" y="319.46" font-size="4.7379999999999995" text-anchor="middle" fill="#111" stroke="#111" stroke-width="0.3">10</text>
<line x1="436.40" y1="311.00" x2="436.40" y2="313.30" stroke="#555" stroke-width="0.8"/>
<text x="436.40" y="319.46" font-size="4.7379999999999995" text-anchor="middle" fill="#111" stroke="#111" stroke-width="0.3">12</text>
<line x1="449.30" y1="311.00" x2="449.30" y2="313.30" stroke="#555" stroke-width="0.8"/>
<text x="449.30" y="319.46" font-size="4.7379999999999995" text-anchor="middle" fill="#111" stroke="#111" stroke-width="0.3">24</text>
<text x="412.70" y="329.60" font-size="6.3" text-anchor="middle" fill="#111" font-weight="bold" stroke="#111" stroke-width="0.16">Hour</text>
<text x="348.60" y="273.15" font-size="5.9" text-anchor="middle" fill="#111" transform="rotate(-90 348.60 273.15)" stroke="#111" stroke-width="0.12">Sulfate concentration(mmol/ml)</text>
<polyline points="371.30,254.98 384.50,254.23 397.40,251.20 410.60,254.23 423.50,256.50 436.40,251.95 449.30,251.95" fill="none" stroke="#f0a040" stroke-width="0.9"/>
<rect x="369.74" y="253.42" width="3.12" height="3.12" fill="#f0a040"/>
<rect x="382.94" y="252.67" width="3.12" height="3.12" fill="#f0a040"/>
<line x1="397.40" y1="250.06" x2="397.40" y2="252.33" stroke="#f0a040" stroke-width="0.6"/>
<line x1="396.30" y1="250.06" x2="398.50" y2="250.06" stroke="#f0a040" stroke-width="0.6"/>
<line x1="396.30" y1="252.33" x2="398.50" y2="252.33" stroke="#f0a040" stroke-width="0.6"/>
<rect x="395.84" y="249.64" width="3.12" height="3.12" fill="#f0a040"/>
<line x1="410.60" y1="253.09" x2="410.60" y2="255.36" stroke="#f0a040" stroke-width="0.6"/>
<line x1="409.50" y1="253.09" x2="411.70" y2="253.09" stroke="#f0a040" stroke-width="0.6"/>
<line x1="409.50" y1="255.36" x2="411.70" y2="255.36" stroke="#f0a040" stroke-width="0.6"/>
<rect x="409.04" y="252.67" width="3.12" height="3.12" fill="#f0a040"/>
<line x1="423.50" y1="255.74" x2="423.50" y2="257.25" stroke="#f0a040" stroke-width="0.6"/>
<line x1="422.40" y1="255.74" x2="424.60" y2="255.74" stroke="#f0a040" stroke-width="0.6"/>
<line x1="422.40" y1="257.25" x2="424.60" y2="257.25" stroke="#f0a040" stroke-width="0.6"/>
<rect x="421.94" y="254.94" width="3.12" height="3.12" fill="#f0a040"/>
<rect x="434.84" y="250.39" width="3.12" height="3.12" fill="#f0a040"/>
<rect x="447.74" y="250.39" width="3.12" height="3.12" fill="#f0a040"/>
<polyline points="371.30,280.72 384.50,279.96 397.40,280.72 410.60,279.96 423.50,280.72 436.40,279.58 449.30,279.58" fill="none" stroke="#d07ef0" stroke-width="0.9"/>
<line x1="369.86" y1="280.72" x2="372.74" y2="280.72" stroke="#d07ef0" stroke-width="0.6"/>
<line x1="371.30" y1="279.28" x2="371.30" y2="282.16" stroke="#d07ef0" stroke-width="0.6"/>
<line x1="384.50" y1="277.69" x2="384.50" y2="282.23" stroke="#d07ef0" stroke-width="0.6"/>
<line x1="383.40" y1="277.69" x2="385.60" y2="277.69" stroke="#d07ef0" stroke-width="0.6"/>
<line x1="383.40" y1="282.23" x2="385.60" y2="282.23" stroke="#d07ef0" stroke-width="0.6"/>
<line x1="383.06" y1="279.96" x2="385.94" y2="279.96" stroke="#d07ef0" stroke-width="0.6"/>
<line x1="384.50" y1="278.52" x2="384.50" y2="281.40" stroke="#d07ef0" stroke-width="0.6"/>
<line x1="395.96" y1="280.72" x2="398.84" y2="280.72" stroke="#d07ef0" stroke-width="0.6"/>
<line x1="397.40" y1="279.28" x2="397.40" y2="282.16" stroke="#d07ef0" stroke-width="0.6"/>
<line x1="409.16" y1="279.96" x2="412.04" y2="279.96" stroke="#d07ef0" stroke-width="0.6"/>
<line x1="410.60" y1="278.52" x2="410.60" y2="281.40" stroke="#d07ef0" stroke-width="0.6"/>
<line x1="422.06" y1="280.72" x2="424.94" y2="280.72" stroke="#d07ef0" stroke-width="0.6"/>
<line x1="423.50" y1="279.28" x2="423.50" y2="282.16" stroke="#d07ef0" stroke-width="0.6"/>
<line x1="434.96" y1="279.58" x2="437.84" y2="279.58" stroke="#d07ef0" stroke-width="0.6"/>
<line x1="436.40" y1="278.14" x2="436.40" y2="281.02" stroke="#d07ef0" stroke-width="0.6"/>
<line x1="447.86" y1="279.58" x2="450.74" y2="279.58" stroke="#d07ef0" stroke-width="0.6"/>
<line x1="449.30" y1="278.14" x2="449.30" y2="281.02" stroke="#d07ef0" stroke-width="0.6"/>
<polyline points="371.30,304.57 384.50,303.81 397.40,303.81 410.60,304.57 423.50,304.94 436.40,309.49 449.30,309.64" fill="none" stroke="#ee3040" stroke-width="0.9"/>
<circle cx="371.30" cy="304.57" r="1.44" fill="#ee3040"/>
<circle cx="384.50" cy="303.81" r="1.44" fill="#ee3040"/>
<line x1="397.40" y1="302.67" x2="397.40" y2="304.94" stroke="#ee3040" stroke-width="0.6"/>
<line x1="396.30" y1="302.67" x2="398.50" y2="302.67" stroke="#ee3040" stroke-width="0.6"/>
<line x1="396.30" y1="304.94" x2="398.50" y2="304.94" stroke="#ee3040" stroke-width="0.6"/>
<circle cx="397.40" cy="303.81" r="1.44" fill="#ee3040"/>
<circle cx="410.60" cy="304.57" r="1.44" fill="#ee3040"/>
<circle cx="423.50" cy="304.94" r="1.44" fill="#ee3040"/>
<circle cx="436.40" cy="309.49" r="1.44" fill="#ee3040"/>
<circle cx="449.30" cy="309.64" r="1.44" fill="#ee3040"/>
<polyline points="371.30,309.49 384.50,310.24 397.40,311.00 410.60,311.00 423.50,311.00 436.40,311.00 449.30,310.62" fill="none" stroke="#30c070" stroke-width="0.9"/>
<polygon points="371.30,307.90 369.85,310.54 372.75,310.54" fill="#30c070"/>
<polygon points="384.50,308.66 383.05,311.30 385.95,311.30" fill="#30c070"/>
<polygon points="397.40,309.42 395.95,312.06 398.85,312.06" fill="#30c070"/>
<polygon points="410.60,309.42 409.15,312.06 412.05,312.06" fill="#30c070"/>
<polygon points="423.50,309.42 422.05,312.06 424.95,312.06" fill="#30c070"/>
<polygon points="436.40,309.42 434.95,312.06 437.85,312.06" fill="#30c070"/>
<polygon points="449.30,309.04 447.85,311.68 450.75,311.68" fill="#30c070"/>
<line x1="471.50" y1="276.00" x2="477.50" y2="276.00" stroke="#ee3040" stroke-width="0.7"/>
<circle cx="474.50" cy="276.00" r="1.35" fill="#ee3040"/>
<text x="0.00" y="0.00" font-size="4.8" text-anchor="start" fill="#111" font-weight="bold" transform="translate(482.00 277.73) scale(0.9 1)" stroke="#111" stroke-width="0.16">A</text>
<line x1="471.50" y1="287.00" x2="477.50" y2="287.00" stroke="#f0a040" stroke-width="0.7"/>
<rect x="473.15" y="285.65" width="2.70" height="2.70" fill="#f0a040"/>
<text x="0.00" y="0.00" font-size="4.8" text-anchor="start" fill="#111" font-weight="bold" transform="translate(482.00 288.73) scale(0.9 1)" stroke="#111" stroke-width="0.16">A+PMP</text>
<line x1="471.50" y1="297.00" x2="477.50" y2="297.00" stroke="#30c070" stroke-width="0.7"/>
<polygon points="474.50,295.38 473.01,298.08 475.99,298.08" fill="#30c070"/>
<text x="0.00" y="0.00" font-size="4.8" text-anchor="start" fill="#111" font-weight="bold" transform="translate(482.00 298.73) scale(0.9 1)" stroke="#111" stroke-width="0.16">A+P</text>
<line x1="471.50" y1="306.70" x2="477.50" y2="306.70" stroke="#d07ef0" stroke-width="0.7"/>
<line x1="473.15" y1="306.70" x2="475.85" y2="306.70" stroke="#d07ef0" stroke-width="0.6"/>
<line x1="474.50" y1="305.35" x2="474.50" y2="308.05" stroke="#d07ef0" stroke-width="0.6"/>
<text x="0.00" y="0.00" font-size="4.8" text-anchor="start" fill="#111" font-weight="bold" transform="translate(482.00 308.43) scale(0.9 1)" stroke="#111" stroke-width="0.16">A+CX-1</text>
<line x1="458.80" y1="248.40" x2="461.50" y2="248.40" stroke="#222" stroke-width="0.5"/>
<line x1="458.80" y1="298.50" x2="461.50" y2="298.50" stroke="#222" stroke-width="0.5"/>
<line x1="461.50" y1="248.40" x2="461.50" y2="298.50" stroke="#222" stroke-width="0.5"/>
<line x1="464.20" y1="247.90" x2="467.70" y2="247.90" stroke="#222" stroke-width="0.5"/>
<line x1="464.20" y1="298.50" x2="467.70" y2="298.50" stroke="#222" stroke-width="0.5"/>
<line x1="467.70" y1="247.90" x2="467.70" y2="298.50" stroke="#222" stroke-width="0.5"/>
<line x1="465.00" y1="271.70" x2="467.70" y2="271.70" stroke="#222" stroke-width="0.5"/>
<circle cx="469.50" cy="255.70" r="0.50" fill="#333"/>
<circle cx="469.50" cy="257.70" r="0.50" fill="#333"/>
<circle cx="469.50" cy="259.70" r="0.50" fill="#333"/>
<circle cx="469.50" cy="261.70" r="0.50" fill="#333"/>
<circle cx="463.30" cy="268.20" r="0.50" fill="#333"/>
<circle cx="463.30" cy="270.20" r="0.50" fill="#333"/>
<circle cx="463.30" cy="272.20" r="0.50" fill="#333"/>
<circle cx="463.30" cy="274.20" r="0.50" fill="#333"/>
<circle cx="469.50" cy="280.70" r="0.50" fill="#333"/>
<circle cx="469.50" cy="282.70" r="0.50" fill="#333"/>
<circle cx="469.50" cy="284.70" r="0.50" fill="#333"/>
<circle cx="469.50" cy="286.70" r="0.50" fill="#333"/>
<text x="492.00" y="235.00" font-size="11.5" text-anchor="start" fill="#000" font-weight="bold" stroke="#000" stroke-width="0.16">H</text>
<rect x="518.30" y="236.00" width="92.70" height="74.30" fill="none" stroke="#555" stroke-width="0.85"/>
<line x1="516.00" y1="310.30" x2="518.30" y2="310.30" stroke="#555" stroke-width="0.8"/>
<text x="515.30" y="312.10" font-size="5.15" text-anchor="end" fill="#111" stroke="#111" stroke-width="0.3">0.0</text>
<line x1="516.00" y1="291.73" x2="518.30" y2="291.73" stroke="#555" stroke-width="0.8"/>
<text x="515.30" y="293.53" font-size="5.15" text-anchor="end" fill="#111" stroke="#111" stroke-width="0.3">0.5</text>
<line x1="516.00" y1="273.15" x2="518.30" y2="273.15" stroke="#555" stroke-width="0.8"/>
<text x="515.30" y="274.95" font-size="5.15" text-anchor="end" fill="#111" stroke="#111" stroke-width="0.3">1.0</text>
<line x1="516.00" y1="254.57" x2="518.30" y2="254.57" stroke="#555" stroke-width="0.8"/>
<text x="515.30" y="256.38" font-size="5.15" text-anchor="end" fill="#111" stroke="#111" stroke-width="0.3">1.5</text>
<line x1="516.00" y1="236.00" x2="518.30" y2="236.00" stroke="#555" stroke-width="0.8"/>
<text x="515.30" y="237.80" font-size="5.15" text-anchor="end" fill="#111" stroke="#111" stroke-width="0.3">2.0</text>
<line x1="524.40" y1="310.30" x2="524.40" y2="312.60" stroke="#555" stroke-width="0.8"/>
<text x="524.40" y="319.50" font-size="5.15" text-anchor="middle" fill="#111" stroke="#111" stroke-width="0.3">0</text>
<line x1="534.80" y1="310.30" x2="534.80" y2="312.60" stroke="#555" stroke-width="0.8"/>
<text x="534.80" y="319.50" font-size="5.15" text-anchor="middle" fill="#111" stroke="#111" stroke-width="0.3">2</text>
<line x1="544.60" y1="310.30" x2="544.60" y2="312.60" stroke="#555" stroke-width="0.8"/>
<text x="544.60" y="319.50" font-size="5.15" text-anchor="middle" fill="#111" stroke="#111" stroke-width="0.3">4</text>
<line x1="554.50" y1="310.30" x2="554.50" y2="312.60" stroke="#555" stroke-width="0.8"/>
<text x="554.50" y="319.50" font-size="5.15" text-anchor="middle" fill="#111" stroke="#111" stroke-width="0.3">6</text>
<line x1="564.60" y1="310.30" x2="564.60" y2="312.60" stroke="#555" stroke-width="0.8"/>
<text x="564.60" y="319.50" font-size="5.15" text-anchor="middle" fill="#111" stroke="#111" stroke-width="0.3">8</text>
<line x1="574.70" y1="310.30" x2="574.70" y2="312.60" stroke="#555" stroke-width="0.8"/>
<text x="574.70" y="319.50" font-size="5.15" text-anchor="middle" fill="#111" stroke="#111" stroke-width="0.3">10</text>
<line x1="584.50" y1="310.30" x2="584.50" y2="312.60" stroke="#555" stroke-width="0.8"/>
<text x="584.50" y="319.50" font-size="5.15" text-anchor="middle" fill="#111" stroke="#111" stroke-width="0.3">12</text>
<line x1="594.60" y1="310.30" x2="594.60" y2="312.60" stroke="#555" stroke-width="0.8"/>
<text x="594.60" y="319.50" font-size="5.15" text-anchor="middle" fill="#111" stroke="#111" stroke-width="0.3">24</text>
<line x1="604.50" y1="310.30" x2="604.50" y2="312.60" stroke="#555" stroke-width="0.8"/>
<text x="604.50" y="319.50" font-size="5.15" text-anchor="middle" fill="#111" stroke="#111" stroke-width="0.3">48</text>
<text x="565.30" y="329.00" font-size="6.3" text-anchor="middle" fill="#111" font-weight="bold" stroke="#111" stroke-width="0.16">Hour</text>
<text x="506.20" y="273.15" font-size="5.2" text-anchor="middle" fill="#111" font-weight="bold" transform="rotate(-90 506.20 273.15)" stroke="#111" stroke-width="0.16">OD600</text>
<polyline points="524.40,304.73 534.80,299.90 544.60,293.58 554.50,287.27 564.60,278.72 574.70,275.01 584.50,272.04 594.60,267.58 604.50,261.26" fill="none" stroke="#f07878" stroke-width="0.9"/>
<line x1="522.96" y1="304.73" x2="525.84" y2="304.73" stroke="#f07878" stroke-width="0.6"/>
<line x1="524.40" y1="303.29" x2="524.40" y2="306.17" stroke="#f07878" stroke-width="0.6"/>
<line x1="533.36" y1="299.90" x2="536.24" y2="299.90" stroke="#f07878" stroke-width="0.6"/>
<line x1="534.80" y1="298.46" x2="534.80" y2="301.34" stroke="#f07878" stroke-width="0.6"/>
<line x1="543.16" y1="293.58" x2="546.04" y2="293.58" stroke="#f07878" stroke-width="0.6"/>
<line x1="544.60" y1="292.14" x2="544.60" y2="295.02" stroke="#f07878" stroke-width="0.6"/>
<line x1="554.50" y1="286.15" x2="554.50" y2="288.38" stroke="#f07878" stroke-width="0.6"/>
<line x1="553.40" y1="286.15" x2="555.60" y2="286.15" stroke="#f07878" stroke-width="0.6"/>
<line x1="553.40" y1="288.38" x2="555.60" y2="288.38" stroke="#f07878" stroke-width="0.6"/>
<line x1="553.06" y1="287.27" x2="555.94" y2="287.27" stroke="#f07878" stroke-width="0.6"/>
<line x1="554.50" y1="285.83" x2="554.50" y2="288.71" stroke="#f07878" stroke-width="0.6"/>
<line x1="564.60" y1="276.87" x2="564.60" y2="280.58" stroke="#f07878" stroke-width="0.6"/>
<line x1="563.50" y1="276.87" x2="565.70" y2="276.87" stroke="#f07878" stroke-width="0.6"/>
<line x1="563.50" y1="280.58" x2="565.70" y2="280.58" stroke="#f07878" stroke-width="0.6"/>
<line x1="563.16" y1="278.72" x2="566.04" y2="278.72" stroke="#f07878" stroke-width="0.6"/>
<line x1="564.60" y1="277.28" x2="564.60" y2="280.16" stroke="#f07878" stroke-width="0.6"/>
<line x1="573.26" y1="275.01" x2="576.14" y2="275.01" stroke="#f07878" stroke-width="0.6"/>
<line x1="574.70" y1="273.57" x2="574.70" y2="276.45" stroke="#f07878" stroke-width="0.6"/>
<line x1="583.06" y1="272.04" x2="585.94" y2="272.04" stroke="#f07878" stroke-width="0.6"/>
<line x1="584.50" y1="270.60" x2="584.50" y2="273.48" stroke="#f07878" stroke-width="0.6"/>
<line x1="593.16" y1="267.58" x2="596.04" y2="267.58" stroke="#f07878" stroke-width="0.6"/>
<line x1="594.60" y1="266.14" x2="594.60" y2="269.02" stroke="#f07878" stroke-width="0.6"/>
<line x1="603.06" y1="261.26" x2="605.94" y2="261.26" stroke="#f07878" stroke-width="0.6"/>
<line x1="604.50" y1="259.82" x2="604.50" y2="262.70" stroke="#f07878" stroke-width="0.6"/>
<polyline points="524.40,304.73 534.80,299.90 544.60,296.18 554.50,294.70 564.60,292.84 574.70,289.12 584.50,280.95 594.60,279.09 604.50,275.75" fill="none" stroke="#a8c030" stroke-width="0.9"/>
<polygon points="524.40,303.00 522.82,305.88 525.98,305.88" fill="#a8c030"/>
<polygon points="534.80,298.17 533.22,301.05 536.38,301.05" fill="#a8c030"/>
<polygon points="544.60,294.45 543.02,297.33 546.18,297.33" fill="#a8c030"/>
<polygon points="554.50,292.97 552.92,295.85 556.08,295.85" fill="#a8c030"/>
<line x1="564.60" y1="290.24" x2="564.60" y2="295.44" stroke="#a8c030" stroke-width="0.6"/>
<line x1="563.50" y1="290.24" x2="565.70" y2="290.24" stroke="#a8c030" stroke-width="0.6"/>
<line x1="563.50" y1="295.44" x2="565.70" y2="295.44" stroke="#a8c030" stroke-width="0.6"/>
<polygon points="564.60,291.11 563.02,293.99 566.18,293.99" fill="#a8c030"/>
<polygon points="574.70,287.40 573.12,290.28 576.28,290.28" fill="#a8c030"/>
<polygon points="584.50,279.22 582.92,282.10 586.08,282.10" fill="#a8c030"/>
<line x1="594.60" y1="277.98" x2="594.60" y2="280.21" stroke="#a8c030" stroke-width="0.6"/>
<line x1="593.50" y1="277.98" x2="595.70" y2="277.98" stroke="#a8c030" stroke-width="0.6"/>
<line x1="593.50" y1="280.21" x2="595.70" y2="280.21" stroke="#a8c030" stroke-width="0.6"/>
<polygon points="594.60,277.37 593.02,280.25 596.18,280.25" fill="#a8c030"/>
<line x1="604.50" y1="274.64" x2="604.50" y2="276.87" stroke="#a8c030" stroke-width="0.6"/>
<line x1="603.40" y1="274.64" x2="605.60" y2="274.64" stroke="#a8c030" stroke-width="0.6"/>
<line x1="603.40" y1="276.87" x2="605.60" y2="276.87" stroke="#a8c030" stroke-width="0.6"/>
<polygon points="604.50,274.02 602.92,276.90 606.08,276.90" fill="#a8c030"/>
<polyline points="524.40,304.73 534.80,299.16 544.60,291.73 554.50,281.69 564.60,274.64 574.70,269.06 584.50,265.72 594.60,257.18 604.50,249.37" fill="none" stroke="#30a030" stroke-width="0.9"/>
<rect x="522.84" y="303.17" width="3.12" height="3.12" fill="#208020" stroke="#111" stroke-width="0.6"/>
<rect x="533.24" y="297.60" width="3.12" height="3.12" fill="#208020" stroke="#111" stroke-width="0.6"/>
<rect x="543.04" y="290.17" width="3.12" height="3.12" fill="#208020" stroke="#111" stroke-width="0.6"/>
<rect x="552.94" y="280.13" width="3.12" height="3.12" fill="#208020" stroke="#111" stroke-width="0.6"/>
<rect x="563.04" y="273.08" width="3.12" height="3.12" fill="#208020" stroke="#111" stroke-width="0.6"/>
<rect x="573.14" y="267.50" width="3.12" height="3.12" fill="#208020" stroke="#111" stroke-width="0.6"/>
<rect x="582.94" y="264.16" width="3.12" height="3.12" fill="#208020" stroke="#111" stroke-width="0.6"/>
<line x1="594.60" y1="255.32" x2="594.60" y2="259.03" stroke="#30a030" stroke-width="0.6"/>
<line x1="593.50" y1="255.32" x2="595.70" y2="255.32" stroke="#30a030" stroke-width="0.6"/>
<line x1="593.50" y1="259.03" x2="595.70" y2="259.03" stroke="#30a030" stroke-width="0.6"/>
<rect x="593.04" y="255.62" width="3.12" height="3.12" fill="#208020" stroke="#111" stroke-width="0.6"/>
<line x1="604.50" y1="247.14" x2="604.50" y2="251.60" stroke="#30a030" stroke-width="0.6"/>
<line x1="603.40" y1="247.14" x2="605.60" y2="247.14" stroke="#30a030" stroke-width="0.6"/>
<line x1="603.40" y1="251.60" x2="605.60" y2="251.60" stroke="#30a030" stroke-width="0.6"/>
<rect x="602.94" y="247.81" width="3.12" height="3.12" fill="#208020" stroke="#111" stroke-width="0.6"/>
<polyline points="524.40,304.73 534.80,299.16 544.60,291.73 554.50,281.32 564.60,274.26 574.70,268.69 584.50,265.72 594.60,256.43 604.50,249.00" fill="none" stroke="#c08040" stroke-width="0.9"/>
<circle cx="524.40" cy="304.73" r="1.56" fill="none" stroke="#805020" stroke-width="0.6"/>
<circle cx="534.80" cy="299.16" r="1.56" fill="none" stroke="#805020" stroke-width="0.6"/>
<circle cx="544.60" cy="291.73" r="1.56" fill="none" stroke="#805020" stroke-width="0.6"/>
<circle cx="554.50" cy="281.32" r="1.56" fill="none" stroke="#805020" stroke-width="0.6"/>
<circle cx="564.60" cy="274.26" r="1.56" fill="none" stroke="#805020" stroke-width="0.6"/>
<circle cx="574.70" cy="268.69" r="1.56" fill="none" stroke="#805020" stroke-width="0.6"/>
<circle cx="584.50" cy="265.72" r="1.56" fill="none" stroke="#805020" stroke-width="0.6"/>
<circle cx="594.60" cy="256.43" r="1.56" fill="none" stroke="#805020" stroke-width="0.6"/>
<circle cx="604.50" cy="249.00" r="1.56" fill="none" stroke="#805020" stroke-width="0.6"/>
<polyline points="524.40,304.73 534.80,299.16 544.60,291.73 554.50,280.58 564.60,273.89 574.70,268.32 584.50,265.35 594.60,255.69 604.50,247.89" fill="none" stroke="#a040f0" stroke-width="0.9"/>
<polygon points="524.40,302.86 522.84,304.73 524.40,306.60 525.96,304.73" fill="#a040f0"/>
<polygon points="534.80,297.28 533.24,299.16 534.80,301.03 536.36,299.16" fill="#a040f0"/>
<polygon points="544.60,289.85 543.04,291.73 544.60,293.60 546.16,291.73" fill="#a040f0"/>
<polygon points="554.50,278.71 552.94,280.58 554.50,282.45 556.06,280.58" fill="#a040f0"/>
<polygon points="564.60,272.02 563.04,273.89 564.60,275.77 566.16,273.89" fill="#a040f0"/>
<polygon points="574.70,266.45 573.14,268.32 574.70,270.19 576.26,268.32" fill="#a040f0"/>
<polygon points="584.50,263.48 582.94,265.35 584.50,267.22 586.06,265.35" fill="#a040f0"/>
<polygon points="594.60,253.82 593.04,255.69 594.60,257.56 596.16,255.69" fill="#a040f0"/>
<line x1="604.50" y1="244.92" x2="604.50" y2="250.86" stroke="#a040f0" stroke-width="0.6"/>
<line x1="603.40" y1="244.92" x2="605.60" y2="244.92" stroke="#a040f0" stroke-width="0.6"/>
<line x1="603.40" y1="250.86" x2="605.60" y2="250.86" stroke="#a040f0" stroke-width="0.6"/>
<polygon points="604.50,246.02 602.94,247.89 604.50,249.76 606.06,247.89" fill="#a040f0"/>
<polyline points="524.40,304.73 534.80,304.36 544.60,303.61 554.50,303.24 564.60,302.87 574.70,303.24 584.50,303.24 594.60,302.87 604.50,303.24" fill="none" stroke="#40a0f0" stroke-width="0.9"/>
<rect x="523.08" y="303.41" width="2.64" height="2.64" fill="#40a0f0"/>
<rect x="533.48" y="303.04" width="2.64" height="2.64" fill="#40a0f0"/>
<rect x="543.28" y="302.29" width="2.64" height="2.64" fill="#40a0f0"/>
<rect x="553.18" y="301.92" width="2.64" height="2.64" fill="#40a0f0"/>
<rect x="563.28" y="301.55" width="2.64" height="2.64" fill="#40a0f0"/>
<rect x="573.38" y="301.92" width="2.64" height="2.64" fill="#40a0f0"/>
<rect x="583.18" y="301.92" width="2.64" height="2.64" fill="#40a0f0"/>
<rect x="593.28" y="301.55" width="2.64" height="2.64" fill="#40a0f0"/>
<rect x="603.18" y="301.92" width="2.64" height="2.64" fill="#40a0f0"/>
<polyline points="524.40,304.73 534.80,304.36 544.60,303.61 554.50,303.61 564.60,303.61 574.70,303.61 584.50,303.61 594.60,303.61 604.50,303.61" fill="none" stroke="#ee2020" stroke-width="1.0"/>
<circle cx="524.40" cy="304.73" r="1.68" fill="#ee2020"/>
<circle cx="534.80" cy="304.36" r="1.68" fill="#ee2020"/>
<circle cx="544.60" cy="303.61" r="1.68" fill="#ee2020"/>
<circle cx="554.50" cy="303.61" r="1.68" fill="#ee2020"/>
<circle cx="564.60" cy="303.61" r="1.68" fill="#ee2020"/>
<circle cx="574.70" cy="303.61" r="1.68" fill="#ee2020"/>
<circle cx="584.50" cy="303.61" r="1.68" fill="#ee2020"/>
<circle cx="594.60" cy="303.61" r="1.68" fill="#ee2020"/>
<circle cx="604.50" cy="303.61" r="1.68" fill="#ee2020"/>
<line x1="637.30" y1="244.20" x2="643.30" y2="244.20" stroke="#ee2020" stroke-width="0.7"/>
<circle cx="640.30" cy="244.20" r="1.30" fill="#ee2020"/>
<text x="0.00" y="0.00" font-size="4.6" text-anchor="start" fill="#111" font-weight="bold" transform="translate(647.40 245.86) scale(0.92 1)" stroke="#111" stroke-width="0.16">100 mg/mL</text>
<line x1="637.30" y1="253.60" x2="643.30" y2="253.60" stroke="#40a0f0" stroke-width="0.7"/>
<rect x="639.00" y="252.30" width="2.60" height="2.60" fill="#40a0f0"/>
<text x="0.00" y="0.00" font-size="4.6" text-anchor="start" fill="#111" font-weight="bold" transform="translate(647.40 255.26) scale(0.92 1)" stroke="#111" stroke-width="0.16">10 mg/mL</text>
<line x1="637.30" y1="263.40" x2="643.30" y2="263.40" stroke="#a8c030" stroke-width="0.7"/>
<polygon points="640.30,261.84 638.87,264.44 641.73,264.44" fill="#a8c030"/>
<text x="0.00" y="0.00" font-size="4.6" text-anchor="start" fill="#111" font-weight="bold" transform="translate(647.40 265.06) scale(0.92 1)" stroke="#111" stroke-width="0.16">1 mg/mL</text>
<line x1="637.30" y1="273.00" x2="643.30" y2="273.00" stroke="#f07878" stroke-width="0.7"/>
<line x1="639.00" y1="273.00" x2="641.60" y2="273.00" stroke="#f07878" stroke-width="0.6"/>
<line x1="640.30" y1="271.70" x2="640.30" y2="274.30" stroke="#f07878" stroke-width="0.6"/>
<text x="0.00" y="0.00" font-size="4.6" text-anchor="start" fill="#111" font-weight="bold" transform="translate(647.40 274.66) scale(0.92 1)" stroke="#111" stroke-width="0.16">0.1 mg/mL</text>
<line x1="637.30" y1="283.00" x2="643.30" y2="283.00" stroke="#a040f0" stroke-width="0.7"/>
<polygon points="640.30,281.44 639.00,283.00 640.30,284.56 641.60,283.00" fill="#a040f0"/>
<text x="0.00" y="0.00" font-size="4.6" text-anchor="start" fill="#111" font-weight="bold" transform="translate(647.40 284.66) scale(0.92 1)" stroke="#111" stroke-width="0.16">0.01 mg/mL</text>
<line x1="637.30" y1="293.00" x2="643.30" y2="293.00" stroke="#c08040" stroke-width="0.7"/>
<circle cx="640.30" cy="293.00" r="1.30" fill="none" stroke="#805020" stroke-width="0.5"/>
<text x="0.00" y="0.00" font-size="4.6" text-anchor="start" fill="#111" font-weight="bold" transform="translate(647.40 294.66) scale(0.92 1)" stroke="#111" stroke-width="0.16">0.001 mg/mL</text>
<line x1="637.30" y1="303.60" x2="643.30" y2="303.60" stroke="#30a030" stroke-width="0.7"/>
<rect x="639.00" y="302.30" width="2.60" height="2.60" fill="#208020" stroke="#111" stroke-width="0.5"/>
<text x="0.00" y="0.00" font-size="4.6" text-anchor="start" fill="#111" font-weight="bold" transform="translate(647.40 305.26) scale(0.92 1)" stroke="#111" stroke-width="0.16">Control</text>
<line x1="612.50" y1="247.00" x2="615.60" y2="247.00" stroke="#222" stroke-width="0.5"/>
<line x1="612.50" y1="304.00" x2="615.60" y2="304.00" stroke="#222" stroke-width="0.5"/>
<line x1="615.60" y1="247.00" x2="615.60" y2="304.00" stroke="#222" stroke-width="0.5"/>
<line x1="612.50" y1="259.50" x2="615.60" y2="259.50" stroke="#111" stroke-width="0.8"/>
<line x1="612.50" y1="268.90" x2="615.60" y2="268.90" stroke="#111" stroke-width="0.8"/>
<line x1="617.20" y1="259.00" x2="620.60" y2="259.00" stroke="#222" stroke-width="0.5"/>
<line x1="617.20" y1="304.00" x2="620.60" y2="304.00" stroke="#222" stroke-width="0.5"/>
<line x1="620.60" y1="259.00" x2="620.60" y2="304.00" stroke="#222" stroke-width="0.5"/>
<line x1="622.20" y1="246.60" x2="625.00" y2="246.60" stroke="#222" stroke-width="0.5"/>
<line x1="622.20" y1="304.00" x2="625.00" y2="304.00" stroke="#222" stroke-width="0.5"/>
<line x1="625.00" y1="246.60" x2="625.00" y2="304.00" stroke="#222" stroke-width="0.5"/>
<line x1="629.70" y1="246.60" x2="633.10" y2="246.60" stroke="#222" stroke-width="0.5"/>
<line x1="629.70" y1="268.90" x2="633.10" y2="268.90" stroke="#222" stroke-width="0.5"/>
<line x1="633.10" y1="246.60" x2="633.10" y2="268.90" stroke="#222" stroke-width="0.5"/>
<circle cx="617.30" cy="248.00" r="0.50" fill="#333"/>
<circle cx="617.30" cy="250.00" r="0.50" fill="#333"/>
<circle cx="617.30" cy="252.00" r="0.50" fill="#333"/>
<circle cx="617.30" cy="254.00" r="0.50" fill="#333"/>
<circle cx="617.30" cy="260.40" r="0.50" fill="#333"/>
<circle cx="617.30" cy="262.40" r="0.50" fill="#333"/>
<circle cx="617.30" cy="264.40" r="0.50" fill="#333"/>
<circle cx="617.30" cy="266.40" r="0.50" fill="#333"/>
<circle cx="617.30" cy="281.50" r="0.50" fill="#333"/>
<circle cx="617.30" cy="283.50" r="0.50" fill="#333"/>
<circle cx="617.30" cy="285.50" r="0.50" fill="#333"/>
<circle cx="617.30" cy="287.50" r="0.50" fill="#333"/>
<circle cx="622.00" cy="276.90" r="0.50" fill="#333"/>
<circle cx="622.00" cy="278.90" r="0.50" fill="#333"/>
<circle cx="622.00" cy="280.90" r="0.50" fill="#333"/>
<circle cx="622.00" cy="282.90" r="0.50" fill="#333"/>
<circle cx="627.30" cy="269.40" r="0.50" fill="#333"/>
<circle cx="627.30" cy="271.40" r="0.50" fill="#333"/>
<circle cx="627.30" cy="273.40" r="0.50" fill="#333"/>
<circle cx="627.30" cy="275.40" r="0.50" fill="#333"/>
<circle cx="634.50" cy="254.50" r="0.50" fill="#333"/>
<circle cx="634.50" cy="256.50" r="0.50" fill="#333"/>
<circle cx="634.50" cy="258.50" r="0.50" fill="#333"/>
<circle cx="634.50" cy="260.50" r="0.50" fill="#333"/>
<defs><filter id="spk" x="0" y="0" width="1" height="1"><feTurbulence type="fractalNoise" baseFrequency="0.7" numOctaves="2" seed="3"/><feColorMatrix type="matrix" values="0 0 0 0 0.35  0 0 0 0 0.38  0 0 0 0 0.32  0 0 0 -2.2 1.25"/><feComposite in2="SourceGraphic" operator="in"/></filter><filter id="blr" x="-50%" y="-50%" width="200%" height="200%"><feGaussianBlur stdDeviation="1.2"/></filter><filter id="blr2" x="-50%" y="-50%" width="200%" height="200%"><feGaussianBlur stdDeviation="0.5"/></filter><filter id="blr3" x="-50%" y="-50%" width="200%" height="200%"><feGaussianBlur stdDeviation="2.5"/></filter></defs>
<rect x="10.6" y="339.8" width="2.4" height="7.2" fill="#111"/>
<text x="36.50" y="344.80" font-size="4.5" text-anchor="middle" fill="#111" font-weight="bold" stroke="#111" stroke-width="0.16">100 mg/mL</text>
<text x="75.00" y="344.80" font-size="4.5" text-anchor="middle" fill="#111" font-weight="bold" stroke="#111" stroke-width="0.16">10 mg/mL</text>
<text x="113.80" y="344.80" font-size="4.5" text-anchor="middle" fill="#111" font-weight="bold" stroke="#111" stroke-width="0.16">1 mg/mL</text>
<text x="152.70" y="344.80" font-size="4.5" text-anchor="middle" fill="#111" font-weight="bold" stroke="#111" stroke-width="0.16">0.1 mg/mL</text>
<text x="36.50" y="429.20" font-size="4.5" text-anchor="middle" fill="#111" font-weight="bold" stroke="#111" stroke-width="0.16">1mg/mL</text>
<text x="75.00" y="429.20" font-size="4.5" text-anchor="middle" fill="#111" font-weight="bold" stroke="#111" stroke-width="0.16">0.1 mg/mL</text>
<text x="113.80" y="429.20" font-size="4.5" text-anchor="middle" fill="#111" font-weight="bold" stroke="#111" stroke-width="0.16">0.01 mg/mL</text>
<text x="152.70" y="429.20" font-size="4.5" text-anchor="middle" fill="#111" font-weight="bold" stroke="#111" stroke-width="0.16">0 mg/mL</text>
<text x="14.60" y="365.30" font-size="4.6" text-anchor="middle" fill="#111" font-weight="bold" transform="rotate(-90 14.60 365.30)" stroke="#111" stroke-width="0.16">PM</text>
<text x="14.60" y="406.50" font-size="4.4" text-anchor="middle" fill="#111" font-weight="bold" transform="rotate(-90 14.60 406.50)" stroke="#111" stroke-width="0.16">2-Aminooxyacetic acid</text>
<svg x="19.0" y="348.1" width="34.4" height="34.4" overflow="hidden">
<rect x="0.00" y="0.00" width="34.40" height="34.40" fill="#c8c098"/>
<filter id="hb0" x="-50%" y="-50%" width="200%" height="200%"><feGaussianBlur stdDeviation="0.6"/></filter>
<circle cx="16.90" cy="17.90" r="15.70" fill="#9a9c98" filter="url(#hb0)"/>
</svg>
<circle cx="35.90" cy="366.00" r="4.30" fill="#efe6cc"/>
<circle cx="35.90" cy="366.00" r="3.70" fill="#2c1a1a"/>
<line x1="33.60" y1="366.40" x2="37.80" y2="366.40" stroke="#e82020" stroke-width="1.1"/>
<line x1="37.30" y1="366.00" x2="37.30" y2="350.30" stroke="#30c050" stroke-width="0.9"/>
<text x="39.10" y="354.90" font-size="2.9" text-anchor="start" fill="#fff" font-weight="bold">14.6 mm</text>
<text x="30.90" y="366.90" font-size="2.9" text-anchor="end" fill="#fff" font-weight="bold">4 mm</text>
<svg x="58.1" y="348.1" width="34.4" height="34.4" overflow="hidden">
<rect x="0.00" y="0.00" width="34.40" height="34.40" fill="#b8b088"/>
<filter id="hb1" x="-50%" y="-50%" width="200%" height="200%"><feGaussianBlur stdDeviation="0.6"/></filter>
<circle cx="16.90" cy="17.90" r="12.60" fill="#8a9088" filter="url(#hb1)"/>
</svg>
<circle cx="75.00" cy="366.00" r="4.30" fill="#efe6cc"/>
<circle cx="75.00" cy="366.00" r="3.70" fill="#2c1a1a"/>
<line x1="72.70" y1="366.40" x2="76.90" y2="366.40" stroke="#e82020" stroke-width="1.1"/>
<line x1="76.40" y1="366.00" x2="76.40" y2="353.70" stroke="#30c050" stroke-width="0.9"/>
<text x="78.20" y="358.30" font-size="2.9" text-anchor="start" fill="#fff" font-weight="bold">12.7 mm</text>
<text x="70.00" y="366.90" font-size="2.9" text-anchor="end" fill="#fff" font-weight="bold">4 mm</text>
<svg x="96.9" y="348.1" width="34.4" height="34.4" overflow="hidden">
<rect x="0.00" y="0.00" width="34.40" height="34.40" fill="#c9c29c"/>
<filter id="hb2" x="-50%" y="-50%" width="200%" height="200%"><feGaussianBlur stdDeviation="0.6"/></filter>
<circle cx="16.90" cy="17.90" r="7.60" fill="#9aa09a" filter="url(#hb2)"/>
</svg>
<circle cx="113.80" cy="366.00" r="4.30" fill="#efe6cc"/>
<circle cx="113.80" cy="366.00" r="3.70" fill="#2c1a1a"/>
<line x1="111.50" y1="366.40" x2="115.70" y2="366.40" stroke="#e82020" stroke-width="1.1"/>
<line x1="115.20" y1="366.00" x2="115.20" y2="358.50" stroke="#30c050" stroke-width="0.9"/>
<text x="117.00" y="363.10" font-size="2.9" text-anchor="start" fill="#fff" font-weight="bold">7 mm</text>
<text x="108.80" y="366.90" font-size="2.9" text-anchor="end" fill="#fff" font-weight="bold">4 mm</text>
<svg x="135.6" y="348.1" width="34.4" height="34.4" overflow="hidden">
<rect x="0.00" y="0.00" width="34.40" height="34.40" fill="#d2caa6"/>
</svg>
<circle cx="152.50" cy="366.00" r="4.30" fill="#efe6cc"/>
<circle cx="152.50" cy="366.00" r="3.70" fill="#2c1a1a"/>
<line x1="150.20" y1="366.40" x2="154.40" y2="366.40" stroke="#e82020" stroke-width="1.1"/>
<text x="147.50" y="366.90" font-size="2.9" text-anchor="end" fill="#fff" font-weight="bold">4 mm</text>
<svg x="19.2" y="387.7" width="34.4" height="34.4" overflow="hidden">
<rect x="0.00" y="0.00" width="34.40" height="34.40" fill="#d0ccb6"/>
<rect x="0" y="0" width="34.4" height="34.4" fill="#888" filter="url(#spk)" opacity="0.6"/>
<filter id="hb4" x="-50%" y="-50%" width="200%" height="200%"><feGaussianBlur stdDeviation="2.0"/></filter>
<circle cx="16.90" cy="17.90" r="9.20" fill="#94a0a4" filter="url(#hb4)"/>
</svg>
<circle cx="36.10" cy="405.60" r="4.30" fill="#efe6cc"/>
<circle cx="36.10" cy="405.60" r="3.70" fill="#2c1a1a"/>
<line x1="33.80" y1="406.00" x2="38.00" y2="406.00" stroke="#e82020" stroke-width="1.1"/>
<line x1="37.50" y1="405.60" x2="37.50" y2="398.80" stroke="#30c050" stroke-width="0.9"/>
<text x="39.30" y="403.40" font-size="2.9" text-anchor="start" fill="#fff" font-weight="bold">6 mm</text>
<text x="31.10" y="406.50" font-size="2.9" text-anchor="end" fill="#fff" font-weight="bold">4 mm</text>
<svg x="58.0" y="387.7" width="34.4" height="34.4" overflow="hidden">
<rect x="0.00" y="0.00" width="34.40" height="34.40" fill="#ccc9b6"/>
<rect x="0" y="0" width="34.4" height="34.4" fill="#888" filter="url(#spk)" opacity="0.6"/>
<filter id="hb5" x="-50%" y="-50%" width="200%" height="200%"><feGaussianBlur stdDeviation="1.4"/></filter>
<circle cx="16.90" cy="17.90" r="10.80" fill="#8c9aac" filter="url(#hb5)"/>
</svg>
<circle cx="74.90" cy="405.60" r="4.30" fill="#efe6cc"/>
<circle cx="74.90" cy="405.60" r="3.70" fill="#2c1a1a"/>
<line x1="72.60" y1="406.00" x2="76.80" y2="406.00" stroke="#e82020" stroke-width="1.1"/>
<line x1="76.30" y1="405.60" x2="76.30" y2="395.80" stroke="#30c050" stroke-width="0.9"/>
<text x="78.10" y="400.40" font-size="2.9" text-anchor="start" fill="#fff" font-weight="bold">9 mm</text>
<text x="69.90" y="406.50" font-size="2.9" text-anchor="end" fill="#fff" font-weight="bold">4 mm</text>
<svg x="96.8" y="387.7" width="34.4" height="34.4" overflow="hidden">
<rect x="0.00" y="0.00" width="34.40" height="34.40" fill="#c9c6ae"/>
<rect x="0" y="0" width="34.4" height="34.4" fill="#888" filter="url(#spk)" opacity="0.6"/>
<filter id="hb6" x="-50%" y="-50%" width="200%" height="200%"><feGaussianBlur stdDeviation="1.2"/></filter>
<circle cx="16.90" cy="17.90" r="10.20" fill="#8a9698" filter="url(#hb6)"/>
</svg>
<circle cx="113.70" cy="405.60" r="4.30" fill="#efe6cc"/>
<circle cx="113.70" cy="405.60" r="3.70" fill="#2c1a1a"/>
<line x1="111.40" y1="406.00" x2="115.60" y2="406.00" stroke="#e82020" stroke-width="1.1"/>
<line x1="115.10" y1="405.60" x2="115.10" y2="396.30" stroke="#30c050" stroke-width="0.9"/>
<text x="116.90" y="400.90" font-size="2.9" text-anchor="start" fill="#fff" font-weight="bold">8.5 mm</text>
<text x="108.70" y="406.50" font-size="2.9" text-anchor="end" fill="#fff" font-weight="bold">4 mm</text>
<svg x="136.0" y="387.7" width="34.4" height="34.4" overflow="hidden">
<rect x="0.00" y="0.00" width="34.40" height="34.40" fill="#c8c4ae"/>
<rect x="0" y="0" width="34.4" height="34.4" fill="#888" filter="url(#spk)" opacity="0.6"/>
<filter id="hb7" x="-50%" y="-50%" width="200%" height="200%"><feGaussianBlur stdDeviation="0.8"/></filter>
<circle cx="16.90" cy="17.90" r="11.80" fill="#84908e" filter="url(#hb7)"/>
</svg>
<circle cx="152.90" cy="405.60" r="4.30" fill="#efe6cc"/>
<circle cx="152.90" cy="405.60" r="3.70" fill="#2c1a1a"/>
<line x1="150.60" y1="406.00" x2="154.80" y2="406.00" stroke="#e82020" stroke-width="1.1"/>
<line x1="154.30" y1="405.60" x2="154.30" y2="395.00" stroke="#30c050" stroke-width="0.9"/>
<text x="156.10" y="399.60" font-size="2.9" text-anchor="start" fill="#fff" font-weight="bold">10 mm</text>
<text x="147.90" y="406.50" font-size="2.9" text-anchor="end" fill="#fff" font-weight="bold">4 mm</text>
<text x="173.00" y="348.00" font-size="11.5" text-anchor="start" fill="#000" font-weight="bold" stroke="#000" stroke-width="0.16">J</text>
<defs><radialGradient id="semd" cx="0.5" cy="0.5" r="0.6"><stop offset="0" stop-color="#0e0e0e"/><stop offset="0.5" stop-color="#181818"/><stop offset="1" stop-color="#222222"/></radialGradient><filter id="semn2" x="0" y="0" width="1" height="1"><feTurbulence type="fractalNoise" baseFrequency="1.1" numOctaves="1" seed="9"/><feColorMatrix type="matrix" values="0.33 0.33 0.33 0 0  0.33 0.33 0.33 0 0  0.33 0.33 0.33 0 0  0 0 0 0 1"/><feComponentTransfer><feFuncR type="linear" slope="3" intercept="-1"/><feFuncG type="linear" slope="3" intercept="-1"/><feFuncB type="linear" slope="3" intercept="-1"/></feComponentTransfer><feComposite in2="SourceGraphic" operator="in"/></filter><filter id="semn" x="0" y="0" width="1" height="1"><feTurbulence type="fractalNoise" baseFrequency="0.8" numOctaves="2" seed="5"/><feColorMatrix type="saturate" values="0"/><feComponentTransfer><feFuncA type="linear" slope="0" intercept="0.18"/></feComponentTransfer><feComposite in2="SourceGraphic" operator="in"/></filter></defs>
<rect x="179.10" y="348.20" width="103.50" height="75.00" fill="#1e1e1e"/>
<rect x="207.00" y="364.00" width="44.00" height="44.00" fill="#151515" filter="url(#blr3)"/>
<rect x="179.1" y="348.2" width="103.5" height="75.0" fill="#fff" filter="url(#semn2)" opacity="0.07"/>
<line x1="185.00" y1="395.00" x2="215.00" y2="380.00" stroke="#5a5a5a" stroke-width="0.35" opacity="0.6"/>
<line x1="240.00" y1="352.00" x2="262.00" y2="362.00" stroke="#5a5a5a" stroke-width="0.35" opacity="0.6"/>
<line x1="255.00" y1="400.00" x2="280.00" y2="392.00" stroke="#5a5a5a" stroke-width="0.35" opacity="0.6"/>
<line x1="190.00" y1="360.00" x2="200.00" y2="352.00" stroke="#5a5a5a" stroke-width="0.35" opacity="0.6"/>
<line x1="262.00" y1="375.00" x2="268.00" y2="410.00" stroke="#5a5a5a" stroke-width="0.35" opacity="0.6"/>
<line x1="214.00" y1="402.00" x2="236.00" y2="418.00" stroke="#5a5a5a" stroke-width="0.35" opacity="0.6"/>
<line x1="270.00" y1="352.00" x2="276.00" y2="366.00" stroke="#5a5a5a" stroke-width="0.35" opacity="0.6"/>
<rect x="179.10" y="418.40" width="103.50" height="4.80" fill="#0c0c0c"/>
<line x1="179.10" y1="418.40" x2="282.60" y2="418.40" stroke="#666" stroke-width="0.3"/>
<circle cx="181.50" cy="420.80" r="1.00" fill="#888"/>
<text x="185.00" y="420.20" font-size="1.5" text-anchor="start" fill="#999">HV    det    mode    mag    WD    HFW    2 μm</text>
<text x="185.00" y="422.50" font-size="1.5" text-anchor="start" fill="#888">20 kV  ETD  SE  10 000x  8.1 mm  12.8 μm  SEM Image</text>
<path d="M224.6,370.2 L226.3,369.3 L229.6,377 L230.2,383 L233.2,391 L234.6,397 L233.4,397.8 L230.0,390 L228.0,383 L226.8,377 Z" fill="#7e7e7e" filter="url(#blr2)"/>
<path d="M225.6,370.6 L228.4,378 L229.2,383 L231.8,390.5 L233.6,396.8" fill="none" stroke="#c0c0c0" stroke-width="0.6" stroke-dasharray="6,1.2,4,1.5,5"/>
<circle cx="232.80" cy="383.50" r="0.80" fill="#777"/>
<rect x="287.20" y="347.80" width="103.70" height="76.20" fill="#727272"/>
<rect x="287.2" y="347.8" width="103.7" height="76.2" fill="#fff" filter="url(#semn)" opacity="0.25"/>
<rect x="351.00" y="385.00" width="16.00" height="21.00" fill="#6e6e6e"/>
<rect x="287.20" y="419.00" width="103.70" height="5.00" fill="#141414"/>
<text x="291.00" y="422.60" font-size="1.8" text-anchor="start" fill="#aaa">  HV   mag   WD   det   HFW   mode</text>
<text x="370.00" y="422.60" font-size="1.8" text-anchor="start" fill="#aaa">5 μm</text>
<g filter="url(#blr2)">
<circle cx="352.12" cy="357.98" r="2.74" fill="#3e3e3e" opacity="0.45"/>
<circle cx="352.26" cy="357.30" r="2.47" fill="#3e3e3e" opacity="0.45"/>
<circle cx="349.45" cy="357.35" r="2.50" fill="#3e3e3e" opacity="0.45"/>
<circle cx="355.53" cy="351.92" r="2.24" fill="#3e3e3e" opacity="0.45"/>
<circle cx="348.51" cy="361.23" r="2.55" fill="#3e3e3e" opacity="0.45"/>
<circle cx="348.02" cy="363.47" r="2.77" fill="#3e3e3e" opacity="0.45"/>
<circle cx="354.14" cy="358.70" r="2.13" fill="#3e3e3e" opacity="0.45"/>
<circle cx="347.75" cy="357.57" r="2.05" fill="#3e3e3e" opacity="0.45"/>
<circle cx="349.50" cy="353.85" r="2.02" fill="#3e3e3e" opacity="0.45"/>
<circle cx="352.24" cy="356.43" r="2.67" fill="#3e3e3e" opacity="0.45"/>
<circle cx="352.79" cy="359.02" r="2.40" fill="#3e3e3e" opacity="0.45"/>
<circle cx="354.22" cy="356.65" r="2.22" fill="#3e3e3e" opacity="0.45"/>
<circle cx="357.58" cy="363.64" r="2.67" fill="#3e3e3e" opacity="0.45"/>
<circle cx="354.68" cy="354.80" r="2.18" fill="#3e3e3e" opacity="0.45"/>
<circle cx="350.49" cy="351.61" r="2.61" fill="#3e3e3e" opacity="0.45"/>
<circle cx="351.60" cy="361.71" r="2.31" fill="#3e3e3e" opacity="0.45"/>
<circle cx="341.76" cy="372.72" r="2.10" fill="#3e3e3e" opacity="0.45"/>
<circle cx="326.79" cy="373.53" r="2.48" fill="#3e3e3e" opacity="0.45"/>
<circle cx="342.21" cy="366.87" r="2.16" fill="#3e3e3e" opacity="0.45"/>
<circle cx="335.19" cy="371.82" r="2.32" fill="#3e3e3e" opacity="0.45"/>
<circle cx="324.34" cy="366.02" r="2.87" fill="#3e3e3e" opacity="0.45"/>
<circle cx="337.76" cy="363.23" r="2.30" fill="#3e3e3e" opacity="0.45"/>
<circle cx="324.62" cy="362.48" r="2.74" fill="#3e3e3e" opacity="0.45"/>
<circle cx="326.15" cy="368.97" r="2.46" fill="#3e3e3e" opacity="0.45"/>
<circle cx="326.41" cy="371.21" r="2.20" fill="#3e3e3e" opacity="0.45"/>
<circle cx="335.47" cy="363.21" r="2.44" fill="#3e3e3e" opacity="0.45"/>
<circle cx="326.86" cy="365.21" r="2.88" fill="#3e3e3e" opacity="0.45"/>
<circle cx="338.67" cy="365.65" r="2.81" fill="#3e3e3e" opacity="0.45"/>
<circle cx="326.81" cy="366.83" r="2.78" fill="#3e3e3e" opacity="0.45"/>
<circle cx="335.44" cy="363.00" r="2.89" fill="#3e3e3e" opacity="0.45"/>
<circle cx="326.86" cy="365.06" r="2.72" fill="#3e3e3e" opacity="0.45"/>
<circle cx="329.18" cy="365.55" r="2.16" fill="#3e3e3e" opacity="0.45"/>
<circle cx="324.40" cy="369.28" r="2.29" fill="#3e3e3e" opacity="0.45"/>
<circle cx="334.63" cy="366.53" r="2.46" fill="#3e3e3e" opacity="0.45"/>
<circle cx="341.78" cy="367.99" r="2.56" fill="#3e3e3e" opacity="0.45"/>
<circle cx="339.93" cy="364.08" r="2.22" fill="#3e3e3e" opacity="0.45"/>
<circle cx="340.77" cy="372.33" r="2.30" fill="#3e3e3e" opacity="0.45"/>
<circle cx="326.40" cy="371.31" r="2.85" fill="#3e3e3e" opacity="0.45"/>
<circle cx="326.53" cy="374.05" r="2.81" fill="#3e3e3e" opacity="0.45"/>
<circle cx="334.67" cy="367.18" r="2.18" fill="#3e3e3e" opacity="0.45"/>
<circle cx="323.37" cy="374.21" r="2.29" fill="#3e3e3e" opacity="0.45"/>
<circle cx="336.69" cy="365.04" r="2.76" fill="#3e3e3e" opacity="0.45"/>
<circle cx="348.92" cy="368.98" r="2.24" fill="#3e3e3e" opacity="0.45"/>
<circle cx="351.89" cy="364.94" r="2.28" fill="#3e3e3e" opacity="0.45"/>
<circle cx="348.02" cy="379.04" r="2.59" fill="#3e3e3e" opacity="0.45"/>
<circle cx="341.33" cy="380.21" r="2.26" fill="#3e3e3e" opacity="0.45"/>
<circle cx="335.00" cy="368.55" r="2.46" fill="#3e3e3e" opacity="0.45"/>
<circle cx="336.05" cy="366.87" r="2.40" fill="#3e3e3e" opacity="0.45"/>
<circle cx="348.33" cy="366.07" r="2.39" fill="#3e3e3e" opacity="0.45"/>
<circle cx="355.98" cy="381.35" r="2.63" fill="#3e3e3e" opacity="0.45"/>
<circle cx="351.19" cy="374.22" r="2.21" fill="#3e3e3e" opacity="0.45"/>
<circle cx="335.44" cy="364.02" r="2.83" fill="#3e3e3e" opacity="0.45"/>
<circle cx="351.42" cy="381.03" r="2.12" fill="#3e3e3e" opacity="0.45"/>
<circle cx="349.87" cy="372.38" r="2.68" fill="#3e3e3e" opacity="0.45"/>
<circle cx="342.25" cy="381.69" r="2.16" fill="#3e3e3e" opacity="0.45"/>
<circle cx="347.71" cy="376.97" r="2.82" fill="#3e3e3e" opacity="0.45"/>
<circle cx="352.29" cy="376.37" r="2.73" fill="#3e3e3e" opacity="0.45"/>
<circle cx="356.56" cy="370.03" r="2.65" fill="#3e3e3e" opacity="0.45"/>
<circle cx="356.22" cy="379.38" r="2.43" fill="#3e3e3e" opacity="0.45"/>
<circle cx="353.57" cy="379.24" r="2.56" fill="#3e3e3e" opacity="0.45"/>
<circle cx="349.60" cy="370.58" r="2.57" fill="#3e3e3e" opacity="0.45"/>
<circle cx="349.21" cy="365.14" r="2.61" fill="#3e3e3e" opacity="0.45"/>
<circle cx="358.44" cy="379.54" r="2.68" fill="#3e3e3e" opacity="0.45"/>
<circle cx="343.92" cy="376.93" r="2.56" fill="#3e3e3e" opacity="0.45"/>
<circle cx="345.17" cy="378.79" r="2.17" fill="#3e3e3e" opacity="0.45"/>
<circle cx="352.61" cy="364.24" r="2.58" fill="#3e3e3e" opacity="0.45"/>
<circle cx="346.14" cy="367.84" r="2.66" fill="#3e3e3e" opacity="0.45"/>
<circle cx="346.53" cy="374.76" r="2.84" fill="#3e3e3e" opacity="0.45"/>
<circle cx="340.74" cy="363.90" r="2.34" fill="#3e3e3e" opacity="0.45"/>
<circle cx="350.88" cy="367.35" r="2.24" fill="#3e3e3e" opacity="0.45"/>
<circle cx="356.34" cy="375.58" r="2.45" fill="#3e3e3e" opacity="0.45"/>
<circle cx="356.00" cy="369.59" r="2.63" fill="#3e3e3e" opacity="0.45"/>
<circle cx="339.36" cy="371.46" r="2.74" fill="#3e3e3e" opacity="0.45"/>
<circle cx="356.54" cy="379.54" r="2.41" fill="#3e3e3e" opacity="0.45"/>
<circle cx="348.59" cy="369.40" r="2.21" fill="#3e3e3e" opacity="0.45"/>
<circle cx="346.52" cy="378.77" r="2.78" fill="#3e3e3e" opacity="0.45"/>
<circle cx="346.67" cy="392.10" r="2.32" fill="#3e3e3e" opacity="0.45"/>
<circle cx="333.66" cy="386.11" r="2.32" fill="#3e3e3e" opacity="0.45"/>
<circle cx="334.74" cy="385.67" r="2.60" fill="#3e3e3e" opacity="0.45"/>
<circle cx="341.45" cy="384.48" r="2.77" fill="#3e3e3e" opacity="0.45"/>
<circle cx="353.17" cy="386.13" r="2.16" fill="#3e3e3e" opacity="0.45"/>
<circle cx="330.36" cy="391.17" r="2.13" fill="#3e3e3e" opacity="0.45"/>
<circle cx="346.61" cy="387.55" r="2.35" fill="#3e3e3e" opacity="0.45"/>
<circle cx="348.60" cy="380.93" r="2.21" fill="#3e3e3e" opacity="0.45"/>
<circle cx="340.52" cy="381.00" r="2.76" fill="#3e3e3e" opacity="0.45"/>
<circle cx="335.30" cy="382.39" r="2.14" fill="#3e3e3e" opacity="0.45"/>
<circle cx="344.70" cy="386.06" r="2.60" fill="#3e3e3e" opacity="0.45"/>
<circle cx="345.32" cy="390.39" r="2.87" fill="#3e3e3e" opacity="0.45"/>
<circle cx="346.03" cy="383.09" r="2.48" fill="#3e3e3e" opacity="0.45"/>
<circle cx="333.89" cy="380.83" r="2.48" fill="#3e3e3e" opacity="0.45"/>
<circle cx="346.74" cy="382.85" r="2.32" fill="#3e3e3e" opacity="0.45"/>
<circle cx="337.90" cy="389.07" r="2.52" fill="#3e3e3e" opacity="0.45"/>
<circle cx="344.35" cy="389.77" r="2.41" fill="#3e3e3e" opacity="0.45"/>
<circle cx="348.61" cy="391.57" r="2.17" fill="#3e3e3e" opacity="0.45"/>
<circle cx="351.98" cy="389.37" r="2.20" fill="#3e3e3e" opacity="0.45"/>
<circle cx="340.48" cy="388.21" r="2.83" fill="#3e3e3e" opacity="0.45"/>
<circle cx="338.64" cy="387.53" r="2.80" fill="#3e3e3e" opacity="0.45"/>
<circle cx="348.72" cy="392.03" r="2.47" fill="#3e3e3e" opacity="0.45"/>
<circle cx="345.23" cy="383.16" r="2.68" fill="#3e3e3e" opacity="0.45"/>
<circle cx="349.24" cy="388.40" r="2.67" fill="#3e3e3e" opacity="0.45"/>
<circle cx="332.85" cy="405.20" r="2.88" fill="#3e3e3e" opacity="0.45"/>
<circle cx="358.83" cy="399.75" r="2.73" fill="#3e3e3e" opacity="0.45"/>
<circle cx="336.49" cy="405.35" r="2.78" fill="#3e3e3e" opacity="0.45"/>
<circle cx="337.45" cy="392.94" r="2.45" fill="#3e3e3e" opacity="0.45"/>
<circle cx="344.31" cy="403.22" r="2.49" fill="#3e3e3e" opacity="0.45"/>
<circle cx="326.57" cy="403.84" r="2.15" fill="#3e3e3e" opacity="0.45"/>
<circle cx="352.80" cy="394.29" r="2.37" fill="#3e3e3e" opacity="0.45"/>
<circle cx="352.39" cy="393.81" r="2.22" fill="#3e3e3e" opacity="0.45"/>
<circle cx="343.16" cy="402.55" r="2.77" fill="#3e3e3e" opacity="0.45"/>
<circle cx="349.04" cy="405.89" r="2.49" fill="#3e3e3e" opacity="0.45"/>
<circle cx="357.87" cy="392.99" r="2.28" fill="#3e3e3e" opacity="0.45"/>
<circle cx="343.51" cy="396.05" r="2.68" fill="#3e3e3e" opacity="0.45"/>
<circle cx="347.32" cy="399.54" r="2.77" fill="#3e3e3e" opacity="0.45"/>
<circle cx="344.64" cy="396.38" r="2.40" fill="#3e3e3e" opacity="0.45"/>
<circle cx="354.34" cy="405.21" r="2.27" fill="#3e3e3e" opacity="0.45"/>
<circle cx="354.53" cy="406.23" r="2.52" fill="#3e3e3e" opacity="0.45"/>
<circle cx="345.08" cy="394.71" r="2.53" fill="#3e3e3e" opacity="0.45"/>
<circle cx="342.71" cy="400.78" r="2.12" fill="#3e3e3e" opacity="0.45"/>
<circle cx="358.56" cy="399.44" r="2.42" fill="#3e3e3e" opacity="0.45"/>
<circle cx="352.84" cy="400.14" r="2.49" fill="#3e3e3e" opacity="0.45"/>
<circle cx="349.09" cy="392.69" r="2.53" fill="#3e3e3e" opacity="0.45"/>
<circle cx="339.67" cy="406.05" r="2.84" fill="#3e3e3e" opacity="0.45"/>
<circle cx="334.75" cy="398.80" r="2.20" fill="#3e3e3e" opacity="0.45"/>
<circle cx="340.35" cy="403.94" r="2.82" fill="#3e3e3e" opacity="0.45"/>
<circle cx="341.80" cy="396.46" r="2.25" fill="#3e3e3e" opacity="0.45"/>
<circle cx="346.61" cy="405.58" r="2.20" fill="#3e3e3e" opacity="0.45"/>
<circle cx="352.10" cy="392.04" r="2.26" fill="#3e3e3e" opacity="0.45"/>
<circle cx="333.33" cy="402.01" r="2.36" fill="#3e3e3e" opacity="0.45"/>
<circle cx="337.68" cy="401.00" r="2.18" fill="#3e3e3e" opacity="0.45"/>
<circle cx="350.45" cy="393.54" r="2.51" fill="#3e3e3e" opacity="0.45"/>
<circle cx="334.12" cy="394.67" r="2.52" fill="#3e3e3e" opacity="0.45"/>
<circle cx="340.45" cy="397.34" r="2.43" fill="#3e3e3e" opacity="0.45"/>
<circle cx="343.60" cy="394.10" r="2.26" fill="#3e3e3e" opacity="0.45"/>
<circle cx="347.06" cy="401.28" r="2.52" fill="#3e3e3e" opacity="0.45"/>
<circle cx="354.54" cy="400.88" r="2.79" fill="#3e3e3e" opacity="0.45"/>
<circle cx="333.51" cy="402.81" r="2.75" fill="#3e3e3e" opacity="0.45"/>
<circle cx="356.29" cy="396.44" r="2.35" fill="#3e3e3e" opacity="0.45"/>
<circle cx="356.97" cy="394.97" r="2.90" fill="#3e3e3e" opacity="0.45"/>
<circle cx="355.78" cy="393.71" r="2.29" fill="#3e3e3e" opacity="0.45"/>
<circle cx="350.30" cy="395.59" r="2.18" fill="#3e3e3e" opacity="0.45"/>
<circle cx="336.25" cy="410.76" r="2.55" fill="#3e3e3e" opacity="0.45"/>
<circle cx="326.36" cy="410.53" r="2.48" fill="#3e3e3e" opacity="0.45"/>
<circle cx="324.85" cy="408.11" r="2.48" fill="#3e3e3e" opacity="0.45"/>
<circle cx="337.36" cy="417.32" r="2.08" fill="#3e3e3e" opacity="0.45"/>
<circle cx="331.68" cy="414.80" r="2.35" fill="#3e3e3e" opacity="0.45"/>
<circle cx="334.20" cy="407.97" r="2.05" fill="#3e3e3e" opacity="0.45"/>
<circle cx="326.09" cy="406.15" r="2.39" fill="#3e3e3e" opacity="0.45"/>
<circle cx="331.81" cy="412.52" r="2.10" fill="#3e3e3e" opacity="0.45"/>
<circle cx="327.18" cy="408.15" r="2.59" fill="#3e3e3e" opacity="0.45"/>
<circle cx="338.46" cy="416.82" r="2.07" fill="#3e3e3e" opacity="0.45"/>
<circle cx="325.47" cy="417.12" r="2.32" fill="#3e3e3e" opacity="0.45"/>
<circle cx="335.31" cy="409.62" r="2.33" fill="#3e3e3e" opacity="0.45"/>
<circle cx="331.81" cy="410.86" r="2.42" fill="#3e3e3e" opacity="0.45"/>
<circle cx="324.79" cy="414.11" r="2.59" fill="#3e3e3e" opacity="0.45"/>
<circle cx="379.40" cy="377.30" r="1.70" fill="#3e3e3e" opacity="0.45"/>
<circle cx="378.10" cy="378.50" r="1.40" fill="#3e3e3e" opacity="0.45"/>
<circle cx="351.52" cy="357.28" r="2.54" fill="#acacac" stroke="#cdcdcd" stroke-width="0.5"/>
<circle cx="351.66" cy="356.60" r="2.27" fill="#acacac" stroke="#cdcdcd" stroke-width="0.5"/>
<circle cx="348.85" cy="356.65" r="2.30" fill="#acacac" stroke="#cdcdcd" stroke-width="0.5"/>
<circle cx="354.93" cy="351.22" r="2.04" fill="#acacac" stroke="#cdcdcd" stroke-width="0.5"/>
<circle cx="347.91" cy="360.53" r="2.35" fill="#acacac" stroke="#cdcdcd" stroke-width="0.5"/>
<circle cx="347.42" cy="362.77" r="2.57" fill="#acacac" stroke="#cdcdcd" stroke-width="0.5"/>
<circle cx="353.54" cy="358.00" r="1.93" fill="#acacac" stroke="#cdcdcd" stroke-width="0.5"/>
<circle cx="347.15" cy="356.87" r="1.85" fill="#acacac" stroke="#cdcdcd" stroke-width="0.5"/>
<circle cx="348.90" cy="353.15" r="1.82" fill="#acacac" stroke="#cdcdcd" stroke-width="0.5"/>
<circle cx="351.64" cy="355.73" r="2.47" fill="#acacac" stroke="#cdcdcd" stroke-width="0.5"/>
<circle cx="352.19" cy="358.32" r="2.20" fill="#acacac" stroke="#cdcdcd" stroke-width="0.5"/>
<circle cx="353.62" cy="355.95" r="2.02" fill="#acacac" stroke="#cdcdcd" stroke-width="0.5"/>
<circle cx="356.98" cy="362.94" r="2.47" fill="#acacac" stroke="#cdcdcd" stroke-width="0.5"/>
<circle cx="354.08" cy="354.10" r="1.98" fill="#acacac" stroke="#cdcdcd" stroke-width="0.5"/>
<circle cx="349.89" cy="350.91" r="2.41" fill="#acacac" stroke="#cdcdcd" stroke-width="0.5"/>
<circle cx="351.00" cy="361.01" r="2.11" fill="#acacac" stroke="#cdcdcd" stroke-width="0.5"/>
<circle cx="341.16" cy="372.02" r="1.90" fill="#acacac" stroke="#cdcdcd" stroke-width="0.5"/>
<circle cx="326.19" cy="372.83" r="2.28" fill="#acacac" stroke="#cdcdcd" stroke-width="0.5"/>
<circle cx="341.61" cy="366.17" r="1.96" fill="#acacac" stroke="#cdcdcd" stroke-width="0.5"/>
<circle cx="334.59" cy="371.12" r="2.12" fill="#acacac" stroke="#cdcdcd" stroke-width="0.5"/>
<circle cx="323.74" cy="365.32" r="2.67" fill="#acacac" stroke="#cdcdcd" stroke-width="0.5"/>
<circle cx="337.16" cy="362.53" r="2.10" fill="#acacac" stroke="#cdcdcd" stroke-width="0.5"/>
<circle cx="324.02" cy="361.78" r="2.54" fill="#acacac" stroke="#cdcdcd" stroke-width="0.5"/>
<circle cx="325.55" cy="368.27" r="2.26" fill="#acacac" stroke="#cdcdcd" stroke-width="0.5"/>
<circle cx="325.81" cy="370.51" r="2.00" fill="#acacac" stroke="#cdcdcd" stroke-width="0.5"/>
<circle cx="334.87" cy="362.51" r="2.24" fill="#acacac" stroke="#cdcdcd" stroke-width="0.5"/>
<circle cx="326.26" cy="364.51" r="2.68" fill="#acacac" stroke="#cdcdcd" stroke-width="0.5"/>
<circle cx="338.07" cy="364.95" r="2.61" fill="#acacac" stroke="#cdcdcd" stroke-width="0.5"/>
<circle cx="326.21" cy="366.13" r="2.58" fill="#acacac" stroke="#cdcdcd" stroke-width="0.5"/>
<circle cx="334.84" cy="362.30" r="2.69" fill="#acacac" stroke="#cdcdcd" stroke-width="0.5"/>
<circle cx="326.26" cy="364.36" r="2.52" fill="#acacac" stroke="#cdcdcd" stroke-width="0.5"/>
<circle cx="328.58" cy="364.85" r="1.96" fill="#acacac" stroke="#cdcdcd" stroke-width="0.5"/>
<circle cx="323.80" cy="368.58" r="2.09" fill="#acacac" stroke="#cdcdcd" stroke-width="0.5"/>
<circle cx="334.03" cy="365.83" r="2.26" fill="#acacac" stroke="#cdcdcd" stroke-width="0.5"/>
<circle cx="341.18" cy="367.29" r="2.36" fill="#acacac" stroke="#cdcdcd" stroke-width="0.5"/>
<circle cx="339.33" cy="363.38" r="2.02" fill="#acacac" stroke="#cdcdcd" stroke-width="0.5"/>
<circle cx="340.17" cy="371.63" r="2.10" fill="#acacac" stroke="#cdcdcd" stroke-width="0.5"/>
<circle cx="325.80" cy="370.61" r="2.65" fill="#acacac" stroke="#cdcdcd" stroke-width="0.5"/>
<circle cx="325.93" cy="373.35" r="2.61" fill="#acacac" stroke="#cdcdcd" stroke-width="0.5"/>
<circle cx="334.07" cy="366.48" r="1.98" fill="#acacac" stroke="#cdcdcd" stroke-width="0.5"/>
<circle cx="322.77" cy="373.51" r="2.09" fill="#acacac" stroke="#cdcdcd" stroke-width="0.5"/>
<circle cx="336.09" cy="364.34" r="2.56" fill="#acacac" stroke="#cdcdcd" stroke-width="0.5"/>
<circle cx="348.32" cy="368.28" r="2.04" fill="#acacac" stroke="#cdcdcd" stroke-width="0.5"/>
<circle cx="351.29" cy="364.24" r="2.08" fill="#acacac" stroke="#cdcdcd" stroke-width="0.5"/>
<circle cx="347.42" cy="378.34" r="2.39" fill="#acacac" stroke="#cdcdcd" stroke-width="0.5"/>
<circle cx="340.73" cy="379.51" r="2.06" fill="#acacac" stroke="#cdcdcd" stroke-width="0.5"/>
<circle cx="334.40" cy="367.85" r="2.26" fill="#acacac" stroke="#cdcdcd" stroke-width="0.5"/>
<circle cx="335.45" cy="366.17" r="2.20" fill="#acacac" stroke="#cdcdcd" stroke-width="0.5"/>
<circle cx="347.73" cy="365.37" r="2.19" fill="#acacac" stroke="#cdcdcd" stroke-width="0.5"/>
<circle cx="355.38" cy="380.65" r="2.43" fill="#acacac" stroke="#cdcdcd" stroke-width="0.5"/>
<circle cx="350.59" cy="373.52" r="2.01" fill="#acacac" stroke="#cdcdcd" stroke-width="0.5"/>
<circle cx="334.84" cy="363.32" r="2.63" fill="#acacac" stroke="#cdcdcd" stroke-width="0.5"/>
<circle cx="350.82" cy="380.33" r="1.92" fill="#acacac" stroke="#cdcdcd" stroke-width="0.5"/>
<circle cx="349.27" cy="371.68" r="2.48" fill="#acacac" stroke="#cdcdcd" stroke-width="0.5"/>
<circle cx="341.65" cy="380.99" r="1.96" fill="#acacac" stroke="#cdcdcd" stroke-width="0.5"/>
<circle cx="347.11" cy="376.27" r="2.62" fill="#acacac" stroke="#cdcdcd" stroke-width="0.5"/>
<circle cx="351.69" cy="375.67" r="2.53" fill="#acacac" stroke="#cdcdcd" stroke-width="0.5"/>
<circle cx="355.96" cy="369.33" r="2.45" fill="#acacac" stroke="#cdcdcd" stroke-width="0.5"/>
<circle cx="355.62" cy="378.68" r="2.23" fill="#acacac" stroke="#cdcdcd" stroke-width="0.5"/>
<circle cx="352.97" cy="378.54" r="2.36" fill="#acacac" stroke="#cdcdcd" stroke-width="0.5"/>
<circle cx="349.00" cy="369.88" r="2.37" fill="#acacac" stroke="#cdcdcd" stroke-width="0.5"/>
<circle cx="348.61" cy="364.44" r="2.41" fill="#acacac" stroke="#cdcdcd" stroke-width="0.5"/>
<circle cx="357.84" cy="378.84" r="2.48" fill="#acacac" stroke="#cdcdcd" stroke-width="0.5"/>
<circle cx="343.32" cy="376.23" r="2.36" fill="#acacac" stroke="#cdcdcd" stroke-width="0.5"/>
<circle cx="344.57" cy="378.09" r="1.97" fill="#acacac" stroke="#cdcdcd" stroke-width="0.5"/>
<circle cx="352.01" cy="363.54" r="2.38" fill="#acacac" stroke="#cdcdcd" stroke-width="0.5"/>
<circle cx="345.54" cy="367.14" r="2.46" fill="#acacac" stroke="#cdcdcd" stroke-width="0.5"/>
<circle cx="345.93" cy="374.06" r="2.64" fill="#acacac" stroke="#cdcdcd" stroke-width="0.5"/>
<circle cx="340.14" cy="363.20" r="2.14" fill="#acacac" stroke="#cdcdcd" stroke-width="0.5"/>
<circle cx="350.28" cy="366.65" r="2.04" fill="#acacac" stroke="#cdcdcd" stroke-width="0.5"/>
<circle cx="355.74" cy="374.88" r="2.25" fill="#acacac" stroke="#cdcdcd" stroke-width="0.5"/>
<circle cx="355.40" cy="368.89" r="2.43" fill="#acacac" stroke="#cdcdcd" stroke-width="0.5"/>
<circle cx="338.76" cy="370.76" r="2.54" fill="#acacac" stroke="#cdcdcd" stroke-width="0.5"/>
<circle cx="355.94" cy="378.84" r="2.21" fill="#acacac" stroke="#cdcdcd" stroke-width="0.5"/>
<circle cx="347.99" cy="368.70" r="2.01" fill="#acacac" stroke="#cdcdcd" stroke-width="0.5"/>
<circle cx="345.92" cy="378.07" r="2.58" fill="#acacac" stroke="#cdcdcd" stroke-width="0.5"/>
<circle cx="346.07" cy="391.40" r="2.12" fill="#acacac" stroke="#cdcdcd" stroke-width="0.5"/>
<circle cx="333.06" cy="385.41" r="2.12" fill="#acacac" stroke="#cdcdcd" stroke-width="0.5"/>
<circle cx="334.14" cy="384.97" r="2.40" fill="#acacac" stroke="#cdcdcd" stroke-width="0.5"/>
<circle cx="340.85" cy="383.78" r="2.57" fill="#acacac" stroke="#cdcdcd" stroke-width="0.5"/>
<circle cx="352.57" cy="385.43" r="1.96" fill="#acacac" stroke="#cdcdcd" stroke-width="0.5"/>
<circle cx="329.76" cy="390.47" r="1.93" fill="#acacac" stroke="#cdcdcd" stroke-width="0.5"/>
<circle cx="346.01" cy="386.85" r="2.15" fill="#acacac" stroke="#cdcdcd" stroke-width="0.5"/>
<circle cx="348.00" cy="380.23" r="2.01" fill="#acacac" stroke="#cdcdcd" stroke-width="0.5"/>
<circle cx="339.92" cy="380.30" r="2.56" fill="#acacac" stroke="#cdcdcd" stroke-width="0.5"/>
<circle cx="334.70" cy="381.69" r="1.94" fill="#acacac" stroke="#cdcdcd" stroke-width="0.5"/>
<circle cx="344.10" cy="385.36" r="2.40" fill="#acacac" stroke="#cdcdcd" stroke-width="0.5"/>
<circle cx="344.72" cy="389.69" r="2.67" fill="#acacac" stroke="#cdcdcd" stroke-width="0.5"/>
<circle cx="345.43" cy="382.39" r="2.28" fill="#acacac" stroke="#cdcdcd" stroke-width="0.5"/>
<circle cx="333.29" cy="380.13" r="2.28" fill="#acacac" stroke="#cdcdcd" stroke-width="0.5"/>
<circle cx="346.14" cy="382.15" r="2.12" fill="#acacac" stroke="#cdcdcd" stroke-width="0.5"/>
<circle cx="337.30" cy="388.37" r="2.32" fill="#acacac" stroke="#cdcdcd" stroke-width="0.5"/>
<circle cx="343.75" cy="389.07" r="2.21" fill="#acacac" stroke="#cdcdcd" stroke-width="0.5"/>
<circle cx="348.01" cy="390.87" r="1.97" fill="#acacac" stroke="#cdcdcd" stroke-width="0.5"/>
<circle cx="351.38" cy="388.67" r="2.00" fill="#acacac" stroke="#cdcdcd" stroke-width="0.5"/>
<circle cx="339.88" cy="387.51" r="2.63" fill="#acacac" stroke="#cdcdcd" stroke-width="0.5"/>
<circle cx="338.04" cy="386.83" r="2.60" fill="#acacac" stroke="#cdcdcd" stroke-width="0.5"/>
<circle cx="348.12" cy="391.33" r="2.27" fill="#acacac" stroke="#cdcdcd" stroke-width="0.5"/>
<circle cx="344.63" cy="382.46" r="2.48" fill="#acacac" stroke="#cdcdcd" stroke-width="0.5"/>
<circle cx="348.64" cy="387.70" r="2.47" fill="#acacac" stroke="#cdcdcd" stroke-width="0.5"/>
<circle cx="332.25" cy="404.50" r="2.68" fill="#acacac" stroke="#cdcdcd" stroke-width="0.5"/>
<circle cx="358.23" cy="399.05" r="2.53" fill="#acacac" stroke="#cdcdcd" stroke-width="0.5"/>
<circle cx="335.89" cy="404.65" r="2.58" fill="#acacac" stroke="#cdcdcd" stroke-width="0.5"/>
<circle cx="336.85" cy="392.24" r="2.25" fill="#acacac" stroke="#cdcdcd" stroke-width="0.5"/>
<circle cx="343.71" cy="402.52" r="2.29" fill="#acacac" stroke="#cdcdcd" stroke-width="0.5"/>
<circle cx="325.97" cy="403.14" r="1.95" fill="#acacac" stroke="#cdcdcd" stroke-width="0.5"/>
<circle cx="352.20" cy="393.59" r="2.17" fill="#acacac" stroke="#cdcdcd" stroke-width="0.5"/>
<circle cx="351.79" cy="393.11" r="2.02" fill="#acacac" stroke="#cdcdcd" stroke-width="0.5"/>
<circle cx="342.56" cy="401.85" r="2.57" fill="#acacac" stroke="#cdcdcd" stroke-width="0.5"/>
<circle cx="348.44" cy="405.19" r="2.29" fill="#acacac" stroke="#cdcdcd" stroke-width="0.5"/>
<circle cx="357.27" cy="392.29" r="2.08" fill="#acacac" stroke="#cdcdcd" stroke-width="0.5"/>
<circle cx="342.91" cy="395.35" r="2.48" fill="#acacac" stroke="#cdcdcd" stroke-width="0.5"/>
<circle cx="346.72" cy="398.84" r="2.57" fill="#acacac" stroke="#cdcdcd" stroke-width="0.5"/>
<circle cx="344.04" cy="395.68" r="2.20" fill="#acacac" stroke="#cdcdcd" stroke-width="0.5"/>
<circle cx="353.74" cy="404.51" r="2.07" fill="#acacac" stroke="#cdcdcd" stroke-width="0.5"/>
<circle cx="353.93" cy="405.53" r="2.32" fill="#acacac" stroke="#cdcdcd" stroke-width="0.5"/>
<circle cx="344.48" cy="394.01" r="2.33" fill="#acacac" stroke="#cdcdcd" stroke-width="0.5"/>
<circle cx="342.11" cy="400.08" r="1.92" fill="#acacac" stroke="#cdcdcd" stroke-width="0.5"/>
<circle cx="357.96" cy="398.74" r="2.22" fill="#acacac" stroke="#cdcdcd" stroke-width="0.5"/>
<circle cx="352.24" cy="399.44" r="2.29" fill="#acacac" stroke="#cdcdcd" stroke-width="0.5"/>
<circle cx="348.49" cy="391.99" r="2.33" fill="#acacac" stroke="#cdcdcd" stroke-width="0.5"/>
<circle cx="339.07" cy="405.35" r="2.64" fill="#acacac" stroke="#cdcdcd" stroke-width="0.5"/>
<circle cx="334.15" cy="398.10" r="2.00" fill="#acacac" stroke="#cdcdcd" stroke-width="0.5"/>
<circle cx="339.75" cy="403.24" r="2.62" fill="#acacac" stroke="#cdcdcd" stroke-width="0.5"/>
<circle cx="341.20" cy="395.76" r="2.05" fill="#acacac" stroke="#cdcdcd" stroke-width="0.5"/>
<circle cx="346.01" cy="404.88" r="2.00" fill="#acacac" stroke="#cdcdcd" stroke-width="0.5"/>
<circle cx="351.50" cy="391.34" r="2.06" fill="#acacac" stroke="#cdcdcd" stroke-width="0.5"/>
<circle cx="332.73" cy="401.31" r="2.16" fill="#acacac" stroke="#cdcdcd" stroke-width="0.5"/>
<circle cx="337.08" cy="400.30" r="1.98" fill="#acacac" stroke="#cdcdcd" stroke-width="0.5"/>
<circle cx="349.85" cy="392.84" r="2.31" fill="#acacac" stroke="#cdcdcd" stroke-width="0.5"/>
<circle cx="333.52" cy="393.97" r="2.32" fill="#acacac" stroke="#cdcdcd" stroke-width="0.5"/>
<circle cx="339.85" cy="396.64" r="2.23" fill="#acacac" stroke="#cdcdcd" stroke-width="0.5"/>
<circle cx="343.00" cy="393.40" r="2.06" fill="#acacac" stroke="#cdcdcd" stroke-width="0.5"/>
<circle cx="346.46" cy="400.58" r="2.32" fill="#acacac" stroke="#cdcdcd" stroke-width="0.5"/>
<circle cx="353.94" cy="400.18" r="2.59" fill="#acacac" stroke="#cdcdcd" stroke-width="0.5"/>
<circle cx="332.91" cy="402.11" r="2.55" fill="#acacac" stroke="#cdcdcd" stroke-width="0.5"/>
<circle cx="355.69" cy="395.74" r="2.15" fill="#acacac" stroke="#cdcdcd" stroke-width="0.5"/>
<circle cx="356.37" cy="394.27" r="2.70" fill="#acacac" stroke="#cdcdcd" stroke-width="0.5"/>
<circle cx="355.18" cy="393.01" r="2.09" fill="#acacac" stroke="#cdcdcd" stroke-width="0.5"/>
<circle cx="349.70" cy="394.89" r="1.98" fill="#acacac" stroke="#cdcdcd" stroke-width="0.5"/>
<circle cx="335.65" cy="410.06" r="2.35" fill="#acacac" stroke="#cdcdcd" stroke-width="0.5"/>
<circle cx="325.76" cy="409.83" r="2.28" fill="#acacac" stroke="#cdcdcd" stroke-width="0.5"/>
<circle cx="324.25" cy="407.41" r="2.28" fill="#acacac" stroke="#cdcdcd" stroke-width="0.5"/>
<circle cx="336.76" cy="416.62" r="1.88" fill="#acacac" stroke="#cdcdcd" stroke-width="0.5"/>
<circle cx="331.08" cy="414.10" r="2.15" fill="#acacac" stroke="#cdcdcd" stroke-width="0.5"/>
<circle cx="333.60" cy="407.27" r="1.85" fill="#acacac" stroke="#cdcdcd" stroke-width="0.5"/>
<circle cx="325.49" cy="405.45" r="2.19" fill="#acacac" stroke="#cdcdcd" stroke-width="0.5"/>
<circle cx="331.21" cy="411.82" r="1.90" fill="#acacac" stroke="#cdcdcd" stroke-width="0.5"/>
<circle cx="326.58" cy="407.45" r="2.39" fill="#acacac" stroke="#cdcdcd" stroke-width="0.5"/>
<circle cx="337.86" cy="416.12" r="1.87" fill="#acacac" stroke="#cdcdcd" stroke-width="0.5"/>
<circle cx="324.87" cy="416.42" r="2.12" fill="#acacac" stroke="#cdcdcd" stroke-width="0.5"/>
<circle cx="334.71" cy="408.92" r="2.13" fill="#acacac" stroke="#cdcdcd" stroke-width="0.5"/>
<circle cx="331.21" cy="410.16" r="2.22" fill="#acacac" stroke="#cdcdcd" stroke-width="0.5"/>
<circle cx="324.19" cy="413.41" r="2.39" fill="#acacac" stroke="#cdcdcd" stroke-width="0.5"/>
<circle cx="378.80" cy="376.60" r="1.50" fill="#acacac" stroke="#cdcdcd" stroke-width="0.5"/>
<circle cx="377.50" cy="377.80" r="1.20" fill="#acacac" stroke="#cdcdcd" stroke-width="0.5"/>
<circle cx="351.02" cy="356.68" r="1.27" fill="#cacaca" opacity="0.7"/>
<circle cx="351.16" cy="356.00" r="1.13" fill="#cacaca" opacity="0.7"/>
<circle cx="348.35" cy="356.05" r="1.15" fill="#cacaca" opacity="0.7"/>
<circle cx="354.43" cy="350.62" r="1.02" fill="#cacaca" opacity="0.7"/>
<circle cx="347.41" cy="359.93" r="1.18" fill="#cacaca" opacity="0.7"/>
<circle cx="346.92" cy="362.17" r="1.29" fill="#cacaca" opacity="0.7"/>
<circle cx="353.04" cy="357.40" r="0.96" fill="#cacaca" opacity="0.7"/>
<circle cx="346.65" cy="356.27" r="0.92" fill="#cacaca" opacity="0.7"/>
<circle cx="348.40" cy="352.55" r="0.91" fill="#cacaca" opacity="0.7"/>
<circle cx="351.14" cy="355.13" r="1.24" fill="#cacaca" opacity="0.7"/>
<circle cx="351.69" cy="357.72" r="1.10" fill="#cacaca" opacity="0.7"/>
<circle cx="353.12" cy="355.35" r="1.01" fill="#cacaca" opacity="0.7"/>
<circle cx="356.48" cy="362.34" r="1.24" fill="#cacaca" opacity="0.7"/>
<circle cx="353.58" cy="353.50" r="0.99" fill="#cacaca" opacity="0.7"/>
<circle cx="349.39" cy="350.31" r="1.21" fill="#cacaca" opacity="0.7"/>
<circle cx="350.50" cy="360.41" r="1.05" fill="#cacaca" opacity="0.7"/>
<circle cx="340.66" cy="371.42" r="0.95" fill="#cacaca" opacity="0.7"/>
<circle cx="325.69" cy="372.23" r="1.14" fill="#cacaca" opacity="0.7"/>
<circle cx="341.11" cy="365.57" r="0.98" fill="#cacaca" opacity="0.7"/>
<circle cx="334.09" cy="370.52" r="1.06" fill="#cacaca" opacity="0.7"/>
<circle cx="323.24" cy="364.72" r="1.34" fill="#cacaca" opacity="0.7"/>
<circle cx="336.66" cy="361.93" r="1.05" fill="#cacaca" opacity="0.7"/>
<circle cx="323.52" cy="361.18" r="1.27" fill="#cacaca" opacity="0.7"/>
<circle cx="325.05" cy="367.67" r="1.13" fill="#cacaca" opacity="0.7"/>
<circle cx="325.31" cy="369.91" r="1.00" fill="#cacaca" opacity="0.7"/>
<circle cx="334.37" cy="361.91" r="1.12" fill="#cacaca" opacity="0.7"/>
<circle cx="325.76" cy="363.91" r="1.34" fill="#cacaca" opacity="0.7"/>
<circle cx="337.57" cy="364.35" r="1.30" fill="#cacaca" opacity="0.7"/>
<circle cx="325.71" cy="365.53" r="1.29" fill="#cacaca" opacity="0.7"/>
<circle cx="334.34" cy="361.70" r="1.35" fill="#cacaca" opacity="0.7"/>
<circle cx="325.76" cy="363.76" r="1.26" fill="#cacaca" opacity="0.7"/>
<circle cx="328.08" cy="364.25" r="0.98" fill="#cacaca" opacity="0.7"/>
<circle cx="323.30" cy="367.98" r="1.05" fill="#cacaca" opacity="0.7"/>
<circle cx="333.53" cy="365.23" r="1.13" fill="#cacaca" opacity="0.7"/>
<circle cx="340.68" cy="366.69" r="1.18" fill="#cacaca" opacity="0.7"/>
<circle cx="338.83" cy="362.78" r="1.01" fill="#cacaca" opacity="0.7"/>
<circle cx="339.67" cy="371.03" r="1.05" fill="#cacaca" opacity="0.7"/>
<circle cx="325.30" cy="370.01" r="1.33" fill="#cacaca" opacity="0.7"/>
<circle cx="325.43" cy="372.75" r="1.30" fill="#cacaca" opacity="0.7"/>
<circle cx="333.57" cy="365.88" r="0.99" fill="#cacaca" opacity="0.7"/>
<circle cx="322.27" cy="372.91" r="1.05" fill="#cacaca" opacity="0.7"/>
<circle cx="335.59" cy="363.74" r="1.28" fill="#cacaca" opacity="0.7"/>
<circle cx="347.82" cy="367.68" r="1.02" fill="#cacaca" opacity="0.7"/>
<circle cx="350.79" cy="363.64" r="1.04" fill="#cacaca" opacity="0.7"/>
<circle cx="346.92" cy="377.74" r="1.20" fill="#cacaca" opacity="0.7"/>
<circle cx="340.23" cy="378.91" r="1.03" fill="#cacaca" opacity="0.7"/>
<circle cx="333.90" cy="367.25" r="1.13" fill="#cacaca" opacity="0.7"/>
<circle cx="334.95" cy="365.57" r="1.10" fill="#cacaca" opacity="0.7"/>
<circle cx="347.23" cy="364.77" r="1.09" fill="#cacaca" opacity="0.7"/>
<circle cx="354.88" cy="380.05" r="1.21" fill="#cacaca" opacity="0.7"/>
<circle cx="350.09" cy="372.92" r="1.01" fill="#cacaca" opacity="0.7"/>
<circle cx="334.34" cy="362.72" r="1.31" fill="#cacaca" opacity="0.7"/>
<circle cx="350.32" cy="379.73" r="0.96" fill="#cacaca" opacity="0.7"/>
<circle cx="348.77" cy="371.08" r="1.24" fill="#cacaca" opacity="0.7"/>
<circle cx="341.15" cy="380.39" r="0.98" fill="#cacaca" opacity="0.7"/>
<circle cx="346.61" cy="375.67" r="1.31" fill="#cacaca" opacity="0.7"/>
<circle cx="351.19" cy="375.07" r="1.27" fill="#cacaca" opacity="0.7"/>
<circle cx="355.46" cy="368.73" r="1.22" fill="#cacaca" opacity="0.7"/>
<circle cx="355.12" cy="378.08" r="1.12" fill="#cacaca" opacity="0.7"/>
<circle cx="352.47" cy="377.94" r="1.18" fill="#cacaca" opacity="0.7"/>
<circle cx="348.50" cy="369.28" r="1.18" fill="#cacaca" opacity="0.7"/>
<circle cx="348.11" cy="363.84" r="1.21" fill="#cacaca" opacity="0.7"/>
<circle cx="357.34" cy="378.24" r="1.24" fill="#cacaca" opacity="0.7"/>
<circle cx="342.82" cy="375.63" r="1.18" fill="#cacaca" opacity="0.7"/>
<circle cx="344.07" cy="377.49" r="0.98" fill="#cacaca" opacity="0.7"/>
<circle cx="351.51" cy="362.94" r="1.19" fill="#cacaca" opacity="0.7"/>
<circle cx="345.04" cy="366.54" r="1.23" fill="#cacaca" opacity="0.7"/>
<circle cx="345.43" cy="373.46" r="1.32" fill="#cacaca" opacity="0.7"/>
<circle cx="339.64" cy="362.60" r="1.07" fill="#cacaca" opacity="0.7"/>
<circle cx="349.78" cy="366.05" r="1.02" fill="#cacaca" opacity="0.7"/>
<circle cx="355.24" cy="374.28" r="1.13" fill="#cacaca" opacity="0.7"/>
<circle cx="354.90" cy="368.29" r="1.22" fill="#cacaca" opacity="0.7"/>
<circle cx="338.26" cy="370.16" r="1.27" fill="#cacaca" opacity="0.7"/>
<circle cx="355.44" cy="378.24" r="1.10" fill="#cacaca" opacity="0.7"/>
<circle cx="347.49" cy="368.10" r="1.00" fill="#cacaca" opacity="0.7"/>
<circle cx="345.42" cy="377.47" r="1.29" fill="#cacaca" opacity="0.7"/>
<circle cx="345.57" cy="390.80" r="1.06" fill="#cacaca" opacity="0.7"/>
<circle cx="332.56" cy="384.81" r="1.06" fill="#cacaca" opacity="0.7"/>
<circle cx="333.64" cy="384.37" r="1.20" fill="#cacaca" opacity="0.7"/>
<circle cx="340.35" cy="383.18" r="1.29" fill="#cacaca" opacity="0.7"/>
<circle cx="352.07" cy="384.83" r="0.98" fill="#cacaca" opacity="0.7"/>
<circle cx="329.26" cy="389.87" r="0.97" fill="#cacaca" opacity="0.7"/>
<circle cx="345.51" cy="386.25" r="1.07" fill="#cacaca" opacity="0.7"/>
<circle cx="347.50" cy="379.63" r="1.00" fill="#cacaca" opacity="0.7"/>
<circle cx="339.42" cy="379.70" r="1.28" fill="#cacaca" opacity="0.7"/>
<circle cx="334.20" cy="381.09" r="0.97" fill="#cacaca" opacity="0.7"/>
<circle cx="343.60" cy="384.76" r="1.20" fill="#cacaca" opacity="0.7"/>
<circle cx="344.22" cy="389.09" r="1.33" fill="#cacaca" opacity="0.7"/>
<circle cx="344.93" cy="381.79" r="1.14" fill="#cacaca" opacity="0.7"/>
<circle cx="332.79" cy="379.53" r="1.14" fill="#cacaca" opacity="0.7"/>
<circle cx="345.64" cy="381.55" r="1.06" fill="#cacaca" opacity="0.7"/>
<circle cx="336.80" cy="387.77" r="1.16" fill="#cacaca" opacity="0.7"/>
<circle cx="343.25" cy="388.47" r="1.11" fill="#cacaca" opacity="0.7"/>
<circle cx="347.51" cy="390.27" r="0.98" fill="#cacaca" opacity="0.7"/>
<circle cx="350.88" cy="388.07" r="1.00" fill="#cacaca" opacity="0.7"/>
<circle cx="339.38" cy="386.91" r="1.31" fill="#cacaca" opacity="0.7"/>
<circle cx="337.54" cy="386.23" r="1.30" fill="#cacaca" opacity="0.7"/>
<circle cx="347.62" cy="390.73" r="1.14" fill="#cacaca" opacity="0.7"/>
<circle cx="344.13" cy="381.86" r="1.24" fill="#cacaca" opacity="0.7"/>
<circle cx="348.14" cy="387.10" r="1.24" fill="#cacaca" opacity="0.7"/>
<circle cx="331.75" cy="403.90" r="1.34" fill="#cacaca" opacity="0.7"/>
<circle cx="357.73" cy="398.45" r="1.27" fill="#cacaca" opacity="0.7"/>
<circle cx="335.39" cy="404.05" r="1.29" fill="#cacaca" opacity="0.7"/>
<circle cx="336.35" cy="391.64" r="1.13" fill="#cacaca" opacity="0.7"/>
<circle cx="343.21" cy="401.92" r="1.14" fill="#cacaca" opacity="0.7"/>
<circle cx="325.47" cy="402.54" r="0.98" fill="#cacaca" opacity="0.7"/>
<circle cx="351.70" cy="392.99" r="1.08" fill="#cacaca" opacity="0.7"/>
<circle cx="351.29" cy="392.51" r="1.01" fill="#cacaca" opacity="0.7"/>
<circle cx="342.06" cy="401.25" r="1.29" fill="#cacaca" opacity="0.7"/>
<circle cx="347.94" cy="404.59" r="1.15" fill="#cacaca" opacity="0.7"/>
<circle cx="356.77" cy="391.69" r="1.04" fill="#cacaca" opacity="0.7"/>
<circle cx="342.41" cy="394.75" r="1.24" fill="#cacaca" opacity="0.7"/>
<circle cx="346.22" cy="398.24" r="1.29" fill="#cacaca" opacity="0.7"/>
<circle cx="343.54" cy="395.08" r="1.10" fill="#cacaca" opacity="0.7"/>
<circle cx="353.24" cy="403.91" r="1.03" fill="#cacaca" opacity="0.7"/>
<circle cx="353.43" cy="404.93" r="1.16" fill="#cacaca" opacity="0.7"/>
<circle cx="343.98" cy="393.41" r="1.16" fill="#cacaca" opacity="0.7"/>
<circle cx="341.61" cy="399.48" r="0.96" fill="#cacaca" opacity="0.7"/>
<circle cx="357.46" cy="398.14" r="1.11" fill="#cacaca" opacity="0.7"/>
<circle cx="351.74" cy="398.84" r="1.15" fill="#cacaca" opacity="0.7"/>
<circle cx="347.99" cy="391.39" r="1.17" fill="#cacaca" opacity="0.7"/>
<circle cx="338.57" cy="404.75" r="1.32" fill="#cacaca" opacity="0.7"/>
<circle cx="333.65" cy="397.50" r="1.00" fill="#cacaca" opacity="0.7"/>
<circle cx="339.25" cy="402.64" r="1.31" fill="#cacaca" opacity="0.7"/>
<circle cx="340.70" cy="395.16" r="1.03" fill="#cacaca" opacity="0.7"/>
<circle cx="345.51" cy="404.28" r="1.00" fill="#cacaca" opacity="0.7"/>
<circle cx="351.00" cy="390.74" r="1.03" fill="#cacaca" opacity="0.7"/>
<circle cx="332.23" cy="400.71" r="1.08" fill="#cacaca" opacity="0.7"/>
<circle cx="336.58" cy="399.70" r="0.99" fill="#cacaca" opacity="0.7"/>
<circle cx="349.35" cy="392.24" r="1.15" fill="#cacaca" opacity="0.7"/>
<circle cx="333.02" cy="393.37" r="1.16" fill="#cacaca" opacity="0.7"/>
<circle cx="339.35" cy="396.04" r="1.12" fill="#cacaca" opacity="0.7"/>
<circle cx="342.50" cy="392.80" r="1.03" fill="#cacaca" opacity="0.7"/>
<circle cx="345.96" cy="399.98" r="1.16" fill="#cacaca" opacity="0.7"/>
<circle cx="353.44" cy="399.58" r="1.29" fill="#cacaca" opacity="0.7"/>
<circle cx="332.41" cy="401.51" r="1.27" fill="#cacaca" opacity="0.7"/>
<circle cx="355.19" cy="395.14" r="1.08" fill="#cacaca" opacity="0.7"/>
<circle cx="355.87" cy="393.67" r="1.35" fill="#cacaca" opacity="0.7"/>
<circle cx="354.68" cy="392.41" r="1.05" fill="#cacaca" opacity="0.7"/>
<circle cx="349.20" cy="394.29" r="0.99" fill="#cacaca" opacity="0.7"/>
<circle cx="335.15" cy="409.46" r="1.18" fill="#cacaca" opacity="0.7"/>
<circle cx="325.26" cy="409.23" r="1.14" fill="#cacaca" opacity="0.7"/>
<circle cx="323.75" cy="406.81" r="1.14" fill="#cacaca" opacity="0.7"/>
<circle cx="336.26" cy="416.02" r="0.94" fill="#cacaca" opacity="0.7"/>
<circle cx="330.58" cy="413.50" r="1.08" fill="#cacaca" opacity="0.7"/>
<circle cx="333.10" cy="406.67" r="0.92" fill="#cacaca" opacity="0.7"/>
<circle cx="324.99" cy="404.85" r="1.09" fill="#cacaca" opacity="0.7"/>
<circle cx="330.71" cy="411.22" r="0.95" fill="#cacaca" opacity="0.7"/>
<circle cx="326.08" cy="406.85" r="1.19" fill="#cacaca" opacity="0.7"/>
<circle cx="337.36" cy="415.52" r="0.93" fill="#cacaca" opacity="0.7"/>
<circle cx="324.37" cy="415.82" r="1.06" fill="#cacaca" opacity="0.7"/>
<circle cx="334.21" cy="408.32" r="1.06" fill="#cacaca" opacity="0.7"/>
<circle cx="330.71" cy="409.56" r="1.11" fill="#cacaca" opacity="0.7"/>
<circle cx="323.69" cy="412.81" r="1.20" fill="#cacaca" opacity="0.7"/>
<circle cx="378.30" cy="376.00" r="0.75" fill="#cacaca" opacity="0.7"/>
<circle cx="377.00" cy="377.20" r="0.60" fill="#cacaca" opacity="0.7"/>
</g>
<circle cx="343" cy="397" r="6.5" fill="none" stroke="#ee2020" stroke-width="0.9" stroke-dasharray="1.8,1.2"/>
<text x="398.80" y="348.00" font-size="11.5" text-anchor="start" fill="#000" font-weight="bold" stroke="#000" stroke-width="0.16">K</text>
<rect x="414.30" y="349.10" width="94.30" height="64.10" fill="none" stroke="#555" stroke-width="0.85"/>
<line x1="412.00" y1="413.20" x2="414.30" y2="413.20" stroke="#555" stroke-width="0.8"/>
<text x="411.30" y="414.64" font-size="4.12" text-anchor="end" fill="#111" stroke="#111" stroke-width="0.3">0.0</text>
<line x1="412.00" y1="400.38" x2="414.30" y2="400.38" stroke="#555" stroke-width="0.8"/>
<text x="411.30" y="401.82" font-size="4.12" text-anchor="end" fill="#111" stroke="#111" stroke-width="0.3">0.5</text>
<line x1="412.00" y1="387.56" x2="414.30" y2="387.56" stroke="#555" stroke-width="0.8"/>
<text x="411.30" y="389.00" font-size="4.12" text-anchor="end" fill="#111" stroke="#111" stroke-width="0.3">1.0</text>
<line x1="412.00" y1="374.74" x2="414.30" y2="374.74" stroke="#555" stroke-width="0.8"/>
<text x="411.30" y="376.18" font-size="4.12" text-anchor="end" fill="#111" stroke="#111" stroke-width="0.3">1.5</text>
<line x1="412.00" y1="361.92" x2="414.30" y2="361.92" stroke="#555" stroke-width="0.8"/>
<text x="411.30" y="363.36" font-size="4.12" text-anchor="end" fill="#111" stroke="#111" stroke-width="0.3">2.0</text>
<line x1="412.00" y1="349.10" x2="414.30" y2="349.10" stroke="#555" stroke-width="0.8"/>
<text x="411.30" y="350.54" font-size="4.12" text-anchor="end" fill="#111" stroke="#111" stroke-width="0.3">2.5</text>
<line x1="421.30" y1="413.20" x2="421.30" y2="415.50" stroke="#555" stroke-width="0.8"/>
<text x="421.30" y="420.56" font-size="4.12" text-anchor="middle" fill="#111" stroke="#111" stroke-width="0.3">2</text>
<line x1="434.90" y1="413.20" x2="434.90" y2="415.50" stroke="#555" stroke-width="0.8"/>
<text x="434.90" y="420.56" font-size="4.12" text-anchor="middle" fill="#111" stroke="#111" stroke-width="0.3">4</text>
<line x1="448.10" y1="413.20" x2="448.10" y2="415.50" stroke="#555" stroke-width="0.8"/>
<text x="448.10" y="420.56" font-size="4.12" text-anchor="middle" fill="#111" stroke="#111" stroke-width="0.3">6</text>
<line x1="461.50" y1="413.20" x2="461.50" y2="415.50" stroke="#555" stroke-width="0.8"/>
<text x="461.50" y="420.56" font-size="4.12" text-anchor="middle" fill="#111" stroke="#111" stroke-width="0.3">8</text>
<line x1="474.80" y1="413.20" x2="474.80" y2="415.50" stroke="#555" stroke-width="0.8"/>
<text x="474.80" y="420.56" font-size="4.12" text-anchor="middle" fill="#111" stroke="#111" stroke-width="0.3">10</text>
<line x1="488.20" y1="413.20" x2="488.20" y2="415.50" stroke="#555" stroke-width="0.8"/>
<text x="488.20" y="420.56" font-size="4.12" text-anchor="middle" fill="#111" stroke="#111" stroke-width="0.3">12</text>
<line x1="501.60" y1="413.20" x2="501.60" y2="415.50" stroke="#555" stroke-width="0.8"/>
<text x="501.60" y="420.56" font-size="4.12" text-anchor="middle" fill="#111" stroke="#111" stroke-width="0.3">24</text>
<text x="461.50" y="429.30" font-size="4.4" text-anchor="middle" fill="#111" font-weight="bold" stroke="#111" stroke-width="0.16">Hour</text>
<text x="401.80" y="381.15" font-size="4.0" text-anchor="middle" fill="#111" font-weight="bold" transform="rotate(-90 401.80 381.15)" stroke="#111" stroke-width="0.16">OD600</text>
<polyline points="421.30,413.20 434.90,413.20 448.10,413.20 461.50,413.20 474.80,413.20 488.20,413.20 501.60,413.20" fill="none" stroke="#b030e0" stroke-width="0.9"/>
<polygon points="421.30,411.47 419.86,413.20 421.30,414.93 422.74,413.20" fill="#b030e0"/>
<polygon points="434.90,411.47 433.46,413.20 434.90,414.93 436.34,413.20" fill="#b030e0"/>
<polygon points="448.10,411.47 446.66,413.20 448.10,414.93 449.54,413.20" fill="#b030e0"/>
<polygon points="461.50,411.47 460.06,413.20 461.50,414.93 462.94,413.20" fill="#b030e0"/>
<polygon points="474.80,411.47 473.36,413.20 474.80,414.93 476.24,413.20" fill="#b030e0"/>
<polygon points="488.20,411.47 486.76,413.20 488.20,414.93 489.64,413.20" fill="#b030e0"/>
<polygon points="501.60,411.47 500.16,413.20 501.60,414.93 503.04,413.20" fill="#b030e0"/>
<polyline points="421.30,413.20 434.90,412.69 448.10,408.84 461.50,400.38 474.80,390.64 488.20,389.35 501.60,387.82" fill="none" stroke="#f08a30" stroke-width="0.9"/>
<circle cx="421.30" cy="413.20" r="1.44" fill="#f08a30"/>
<circle cx="434.90" cy="412.69" r="1.44" fill="#f08a30"/>
<circle cx="448.10" cy="408.84" r="1.44" fill="#f08a30"/>
<circle cx="461.50" cy="400.38" r="1.44" fill="#f08a30"/>
<circle cx="474.80" cy="390.64" r="1.44" fill="#f08a30"/>
<line x1="488.20" y1="387.56" x2="488.20" y2="391.15" stroke="#f08a30" stroke-width="0.6"/>
<line x1="487.10" y1="387.56" x2="489.30" y2="387.56" stroke="#f08a30" stroke-width="0.6"/>
<line x1="487.10" y1="391.15" x2="489.30" y2="391.15" stroke="#f08a30" stroke-width="0.6"/>
<circle cx="488.20" cy="389.35" r="1.44" fill="#f08a30"/>
<line x1="501.60" y1="386.28" x2="501.60" y2="389.35" stroke="#f08a30" stroke-width="0.6"/>
<line x1="500.50" y1="386.28" x2="502.70" y2="386.28" stroke="#f08a30" stroke-width="0.6"/>
<line x1="500.50" y1="389.35" x2="502.70" y2="389.35" stroke="#f08a30" stroke-width="0.6"/>
<circle cx="501.60" cy="387.82" r="1.44" fill="#f08a30"/>
<polyline points="421.30,410.64 434.90,410.12 448.10,408.07 461.50,397.30 474.80,388.59 488.20,384.48 501.60,379.36" fill="none" stroke="#3a8aa0" stroke-width="0.9"/>
<rect x="419.98" y="409.32" width="2.64" height="2.64" fill="#3a8aa0"/>
<rect x="433.58" y="408.80" width="2.64" height="2.64" fill="#3a8aa0"/>
<rect x="446.78" y="406.75" width="2.64" height="2.64" fill="#3a8aa0"/>
<rect x="460.18" y="395.98" width="2.64" height="2.64" fill="#3a8aa0"/>
<rect x="473.48" y="387.27" width="2.64" height="2.64" fill="#3a8aa0"/>
<line x1="488.20" y1="383.20" x2="488.20" y2="385.77" stroke="#3a8aa0" stroke-width="0.6"/>
<line x1="487.10" y1="383.20" x2="489.30" y2="383.20" stroke="#3a8aa0" stroke-width="0.6"/>
<line x1="487.10" y1="385.77" x2="489.30" y2="385.77" stroke="#3a8aa0" stroke-width="0.6"/>
<rect x="486.88" y="383.16" width="2.64" height="2.64" fill="#3a8aa0"/>
<line x1="501.60" y1="378.07" x2="501.60" y2="380.64" stroke="#3a8aa0" stroke-width="0.6"/>
<line x1="500.50" y1="378.07" x2="502.70" y2="378.07" stroke="#3a8aa0" stroke-width="0.6"/>
<line x1="500.50" y1="380.64" x2="502.70" y2="380.64" stroke="#3a8aa0" stroke-width="0.6"/>
<rect x="500.28" y="378.04" width="2.64" height="2.64" fill="#3a8aa0"/>
<polyline points="421.30,410.12 434.90,408.07 448.10,401.66 461.50,393.71 474.80,378.07 488.20,368.84 501.60,366.28" fill="none" stroke="#60a0f0" stroke-width="0.9"/>
<polygon points="421.30,408.54 419.85,411.18 422.75,411.18" fill="#60a0f0"/>
<polygon points="434.90,406.49 433.45,409.13 436.35,409.13" fill="#60a0f0"/>
<polygon points="448.10,400.08 446.65,402.72 449.55,402.72" fill="#60a0f0"/>
<line x1="461.50" y1="389.87" x2="461.50" y2="397.56" stroke="#60a0f0" stroke-width="0.6"/>
<line x1="460.40" y1="389.87" x2="462.60" y2="389.87" stroke="#60a0f0" stroke-width="0.6"/>
<line x1="460.40" y1="397.56" x2="462.60" y2="397.56" stroke="#60a0f0" stroke-width="0.6"/>
<polygon points="461.50,392.13 460.05,394.77 462.95,394.77" fill="#60a0f0"/>
<line x1="474.80" y1="375.00" x2="474.80" y2="381.15" stroke="#60a0f0" stroke-width="0.6"/>
<line x1="473.70" y1="375.00" x2="475.90" y2="375.00" stroke="#60a0f0" stroke-width="0.6"/>
<line x1="473.70" y1="381.15" x2="475.90" y2="381.15" stroke="#60a0f0" stroke-width="0.6"/>
<polygon points="474.80,376.49 473.35,379.13 476.25,379.13" fill="#60a0f0"/>
<polygon points="488.20,367.26 486.75,369.90 489.65,369.90" fill="#60a0f0"/>
<line x1="501.60" y1="365.00" x2="501.60" y2="367.56" stroke="#60a0f0" stroke-width="0.6"/>
<line x1="500.50" y1="365.00" x2="502.70" y2="365.00" stroke="#60a0f0" stroke-width="0.6"/>
<line x1="500.50" y1="367.56" x2="502.70" y2="367.56" stroke="#60a0f0" stroke-width="0.6"/>
<polygon points="501.60,364.69 500.15,367.33 503.05,367.33" fill="#60a0f0"/>
<polyline points="421.30,411.92 434.90,397.05 448.10,383.71 461.50,379.10 474.80,376.79 488.20,370.89 501.60,367.30" fill="none" stroke="#ee3040" stroke-width="0.9"/>
<circle cx="421.30" cy="411.92" r="1.44" fill="#ee3040"/>
<circle cx="434.90" cy="397.05" r="1.44" fill="#ee3040"/>
<line x1="448.10" y1="380.64" x2="448.10" y2="386.79" stroke="#ee3040" stroke-width="0.6"/>
<line x1="447.00" y1="380.64" x2="449.20" y2="380.64" stroke="#ee3040" stroke-width="0.6"/>
<line x1="447.00" y1="386.79" x2="449.20" y2="386.79" stroke="#ee3040" stroke-width="0.6"/>
<circle cx="448.10" cy="383.71" r="1.44" fill="#ee3040"/>
<line x1="461.50" y1="376.02" x2="461.50" y2="382.18" stroke="#ee3040" stroke-width="0.6"/>
<line x1="460.40" y1="376.02" x2="462.60" y2="376.02" stroke="#ee3040" stroke-width="0.6"/>
<line x1="460.40" y1="382.18" x2="462.60" y2="382.18" stroke="#ee3040" stroke-width="0.6"/>
<circle cx="461.50" cy="379.10" r="1.44" fill="#ee3040"/>
<line x1="474.80" y1="374.23" x2="474.80" y2="379.36" stroke="#ee3040" stroke-width="0.6"/>
<line x1="473.70" y1="374.23" x2="475.90" y2="374.23" stroke="#ee3040" stroke-width="0.6"/>
<line x1="473.70" y1="379.36" x2="475.90" y2="379.36" stroke="#ee3040" stroke-width="0.6"/>
<circle cx="474.80" cy="376.79" r="1.44" fill="#ee3040"/>
<circle cx="488.20" cy="370.89" r="1.44" fill="#ee3040"/>
<line x1="501.60" y1="366.54" x2="501.60" y2="368.07" stroke="#ee3040" stroke-width="0.6"/>
<line x1="500.50" y1="366.54" x2="502.70" y2="366.54" stroke="#ee3040" stroke-width="0.6"/>
<line x1="500.50" y1="368.07" x2="502.70" y2="368.07" stroke="#ee3040" stroke-width="0.6"/>
<circle cx="501.60" cy="367.30" r="1.44" fill="#ee3040"/>
<polyline points="421.30,407.05 434.90,400.89 448.10,390.89 461.50,384.23 474.80,370.12 488.20,367.05 501.60,360.38" fill="none" stroke="#44d044" stroke-width="0.9"/>
<rect x="419.86" y="405.61" width="2.88" height="2.88" fill="#44d044"/>
<rect x="433.46" y="399.45" width="2.88" height="2.88" fill="#44d044"/>
<rect x="446.66" y="389.45" width="2.88" height="2.88" fill="#44d044"/>
<line x1="461.50" y1="381.15" x2="461.50" y2="387.30" stroke="#44d044" stroke-width="0.6"/>
<line x1="460.40" y1="381.15" x2="462.60" y2="381.15" stroke="#44d044" stroke-width="0.6"/>
<line x1="460.40" y1="387.30" x2="462.60" y2="387.30" stroke="#44d044" stroke-width="0.6"/>
<rect x="460.06" y="382.79" width="2.88" height="2.88" fill="#44d044"/>
<rect x="473.36" y="368.68" width="2.88" height="2.88" fill="#44d044"/>
<rect x="486.76" y="365.61" width="2.88" height="2.88" fill="#44d044"/>
<line x1="501.60" y1="356.54" x2="501.60" y2="364.23" stroke="#44d044" stroke-width="0.6"/>
<line x1="500.50" y1="356.54" x2="502.70" y2="356.54" stroke="#44d044" stroke-width="0.6"/>
<line x1="500.50" y1="364.23" x2="502.70" y2="364.23" stroke="#44d044" stroke-width="0.6"/>
<rect x="500.16" y="358.94" width="2.88" height="2.88" fill="#44d044"/>
<line x1="526.30" y1="356.70" x2="532.30" y2="356.70" stroke="#ee3040" stroke-width="0.7"/>
<circle cx="529.30" cy="356.70" r="1.25" fill="#ee3040"/>
<text x="0.00" y="0.00" font-size="4.1" text-anchor="start" fill="#111" font-weight="bold" transform="translate(536.10 358.18) scale(0.92 1)" stroke="#111" stroke-width="0.16">A</text>
<line x1="526.30" y1="365.40" x2="532.30" y2="365.40" stroke="#f08a30" stroke-width="0.7"/>
<circle cx="529.30" cy="365.40" r="1.25" fill="#f08a30"/>
<text x="0.00" y="0.00" font-size="4.1" text-anchor="start" fill="#111" font-weight="bold" transform="translate(536.10 366.88) scale(0.92 1)" stroke="#111" stroke-width="0.16">A+PMP</text>
<line x1="526.30" y1="374.30" x2="532.30" y2="374.30" stroke="#60a0f0" stroke-width="0.7"/>
<polygon points="529.30,372.80 527.92,375.30 530.67,375.30" fill="#60a0f0"/>
<text x="0.00" y="0.00" font-size="4.1" text-anchor="start" fill="#111" font-weight="bold" transform="translate(536.10 375.78) scale(0.92 1)" stroke="#111" stroke-width="0.16">A+Genistein</text>
<line x1="526.30" y1="382.70" x2="532.30" y2="382.70" stroke="#e0a0f0" stroke-width="0.7"/>
<line x1="528.05" y1="382.70" x2="530.55" y2="382.70" stroke="#e0a0f0" stroke-width="0.6"/>
<line x1="529.30" y1="381.45" x2="529.30" y2="383.95" stroke="#e0a0f0" stroke-width="0.6"/>
<text x="0.00" y="0.00" font-size="4.1" text-anchor="start" fill="#111" font-weight="bold" transform="translate(536.10 384.18) scale(0.92 1)" stroke="#111" stroke-width="0.16">A+D-Cycloserine</text>
<line x1="526.30" y1="390.20" x2="532.30" y2="390.20" stroke="#3a8aa0" stroke-width="0.7"/>
<rect x="528.05" y="388.95" width="2.50" height="2.50" fill="#3a8aa0"/>
<text x="0.00" y="0.00" font-size="4.1" text-anchor="start" fill="#111" font-weight="bold" transform="translate(536.10 391.68) scale(0.92 1)" stroke="#111" stroke-width="0.16">P+Genistein</text>
<line x1="526.30" y1="398.60" x2="532.30" y2="398.60" stroke="#b030e0" stroke-width="0.7"/>
<polygon points="529.30,397.10 528.05,398.60 529.30,400.10 530.55,398.60" fill="#b030e0"/>
<text x="0.00" y="0.00" font-size="4.1" text-anchor="start" fill="#111" font-weight="bold" transform="translate(536.10 400.08) scale(0.92 1)" stroke="#111" stroke-width="0.16">P+D-Cycloserine</text>
<line x1="526.30" y1="407.30" x2="532.30" y2="407.30" stroke="#44d044" stroke-width="0.7"/>
<rect x="528.05" y="406.05" width="2.50" height="2.50" fill="#44d044"/>
<text x="0.00" y="0.00" font-size="4.1" text-anchor="start" fill="#111" font-weight="bold" transform="translate(536.10 408.78) scale(0.92 1)" stroke="#111" stroke-width="0.16">P</text>
<line x1="508.70" y1="368.50" x2="511.40" y2="368.50" stroke="#222" stroke-width="0.5"/>
<line x1="508.70" y1="386.90" x2="511.40" y2="386.90" stroke="#222" stroke-width="0.5"/>
<line x1="511.40" y1="368.50" x2="511.40" y2="386.90" stroke="#222" stroke-width="0.5"/>
<line x1="512.60" y1="367.60" x2="515.90" y2="367.60" stroke="#222" stroke-width="0.5"/>
<line x1="512.60" y1="413.30" x2="515.90" y2="413.30" stroke="#222" stroke-width="0.5"/>
<line x1="515.90" y1="367.60" x2="515.90" y2="413.30" stroke="#222" stroke-width="0.5"/>
<line x1="516.40" y1="358.40" x2="519.80" y2="358.40" stroke="#222" stroke-width="0.5"/>
<line x1="516.40" y1="413.30" x2="519.80" y2="413.30" stroke="#222" stroke-width="0.5"/>
<line x1="519.80" y1="358.40" x2="519.80" y2="413.30" stroke="#222" stroke-width="0.5"/>
<line x1="520.10" y1="358.40" x2="523.50" y2="358.40" stroke="#222" stroke-width="0.5"/>
<line x1="520.10" y1="376.00" x2="523.50" y2="376.00" stroke="#222" stroke-width="0.5"/>
<line x1="523.50" y1="358.40" x2="523.50" y2="376.00" stroke="#222" stroke-width="0.5"/>
<circle cx="513.40" cy="378.50" r="0.50" fill="#333"/>
<circle cx="516.80" cy="385.10" r="0.50" fill="#333"/>
<circle cx="516.80" cy="387.10" r="0.50" fill="#333"/>
<circle cx="516.80" cy="389.10" r="0.50" fill="#333"/>
<circle cx="516.80" cy="391.10" r="0.50" fill="#333"/>
<circle cx="520.90" cy="383.00" r="0.50" fill="#333"/>
<circle cx="520.90" cy="385.00" r="0.50" fill="#333"/>
<circle cx="520.90" cy="387.00" r="0.50" fill="#333"/>
<circle cx="520.90" cy="389.00" r="0.50" fill="#333"/>
<circle cx="524.80" cy="367.60" r="0.50" fill="#333"/>
<text x="584.20" y="347.60" font-size="11.5" text-anchor="start" fill="#000" font-weight="bold" stroke="#000" stroke-width="0.16">L</text>
<rect x="611.1" y="348.1" width="57.00" height="65.40" fill="none" stroke="#222" stroke-width="0.6"/>
<line x1="609.60" y1="413.50" x2="611.10" y2="413.50" stroke="#222" stroke-width="0.5"/>
<text x="608.50" y="415.00" font-size="4.1" text-anchor="end" fill="#111" stroke="#111" stroke-width="0.25">0</text>
<line x1="609.60" y1="391.70" x2="611.10" y2="391.70" stroke="#222" stroke-width="0.5"/>
<text x="608.50" y="393.20" font-size="4.1" text-anchor="end" fill="#111" stroke="#111" stroke-width="0.25">50</text>
<line x1="609.60" y1="369.90" x2="611.10" y2="369.90" stroke="#222" stroke-width="0.5"/>
<text x="608.50" y="371.40" font-size="4.1" text-anchor="end" fill="#111" stroke="#111" stroke-width="0.25">100</text>
<line x1="609.60" y1="348.10" x2="611.10" y2="348.10" stroke="#222" stroke-width="0.5"/>
<text x="608.50" y="349.60" font-size="4.1" text-anchor="end" fill="#111" stroke="#111" stroke-width="0.25">150</text>
<text x="599.40" y="380.80" font-size="5.1" text-anchor="middle" fill="#111" transform="rotate(-90 599.40 380.80)" stroke="#111" stroke-width="0.12">Hemolysis of fish erythrocytes(%)</text>
<rect x="615.20" y="378.62" width="7.00" height="34.88" fill="#555555" stroke="#222" stroke-width="0.5"/>
<line x1="618.70" y1="378.62" x2="618.70" y2="371.73" stroke="#222" stroke-width="0.5"/>
<line x1="617.70" y1="371.73" x2="619.70" y2="371.73" stroke="#222" stroke-width="0.5"/>
<circle cx="617.70" cy="372.08" r="1.05" fill="#111"/>
<circle cx="618.70" cy="375.13" r="1.05" fill="#111"/>
<circle cx="619.70" cy="388.65" r="1.05" fill="#111"/>
<line x1="618.70" y1="413.50" x2="618.70" y2="415.00" stroke="#222" stroke-width="0.5"/>
<text x="621.30" y="420.10" font-size="3.8" text-anchor="end" fill="#111" font-weight="bold" transform="rotate(-50 621.30 420.10)" stroke="#111" stroke-width="0.16">Control</text>
<rect x="625.90" y="365.98" width="7.00" height="47.52" fill="#ee3a3a" stroke="#222" stroke-width="0.5"/>
<line x1="629.40" y1="365.98" x2="629.40" y2="363.80" stroke="#222" stroke-width="0.5"/>
<line x1="628.40" y1="363.80" x2="630.40" y2="363.80" stroke="#222" stroke-width="0.5"/>
<circle cx="628.40" cy="363.80" r="1.05" fill="#111"/>
<circle cx="629.40" cy="366.41" r="1.05" fill="#111"/>
<circle cx="630.40" cy="366.41" r="1.05" fill="#111"/>
<line x1="629.40" y1="413.50" x2="629.40" y2="415.00" stroke="#222" stroke-width="0.5"/>
<text x="632.00" y="420.10" font-size="3.8" text-anchor="end" fill="#111" font-weight="bold" transform="rotate(-50 632.00 420.10)" stroke="#111" stroke-width="0.16">A</text>
<rect x="636.30" y="390.83" width="7.00" height="22.67" fill="#3ed63e" stroke="#222" stroke-width="0.5"/>
<line x1="639.80" y1="390.83" x2="639.80" y2="389.69" stroke="#222" stroke-width="0.5"/>
<line x1="638.80" y1="389.69" x2="640.80" y2="389.69" stroke="#222" stroke-width="0.5"/>
<circle cx="638.80" cy="390.39" r="1.05" fill="#111"/>
<circle cx="639.80" cy="390.83" r="1.05" fill="#111"/>
<circle cx="640.80" cy="391.26" r="1.05" fill="#111"/>
<line x1="639.80" y1="413.50" x2="639.80" y2="415.00" stroke="#222" stroke-width="0.5"/>
<text x="642.40" y="420.10" font-size="3.8" text-anchor="end" fill="#111" font-weight="bold" transform="rotate(-50 642.40 420.10)" stroke="#111" stroke-width="0.16">A+6+7</text>
<rect x="647.40" y="382.98" width="7.00" height="30.52" fill="#6aa8ee" stroke="#222" stroke-width="0.5"/>
<line x1="650.90" y1="382.98" x2="650.90" y2="378.18" stroke="#222" stroke-width="0.5"/>
<line x1="649.90" y1="378.18" x2="651.90" y2="378.18" stroke="#222" stroke-width="0.5"/>
<circle cx="649.90" cy="379.49" r="1.05" fill="#111"/>
<circle cx="650.90" cy="380.36" r="1.05" fill="#111"/>
<circle cx="651.90" cy="389.52" r="1.05" fill="#111"/>
<line x1="650.90" y1="413.50" x2="650.90" y2="415.00" stroke="#222" stroke-width="0.5"/>
<text x="653.50" y="420.10" font-size="3.8" text-anchor="end" fill="#111" font-weight="bold" transform="rotate(-50 653.50 420.10)" stroke="#111" stroke-width="0.16">A+Genistein</text>
<rect x="658.00" y="378.62" width="7.00" height="34.88" fill="#eea050" stroke="#222" stroke-width="0.5"/>
<line x1="661.50" y1="378.62" x2="661.50" y2="373.04" stroke="#222" stroke-width="0.5"/>
<line x1="660.50" y1="373.04" x2="662.50" y2="373.04" stroke="#222" stroke-width="0.5"/>
<circle cx="660.50" cy="370.77" r="1.05" fill="#111"/>
<circle cx="661.50" cy="379.49" r="1.05" fill="#111"/>
<circle cx="662.50" cy="381.67" r="1.05" fill="#111"/>
<line x1="661.50" y1="413.50" x2="661.50" y2="415.00" stroke="#222" stroke-width="0.5"/>
<text x="664.10" y="420.10" font-size="3.8" text-anchor="end" fill="#111" font-weight="bold" transform="rotate(-50 664.10 420.10)" stroke="#111" stroke-width="0.16">A+D-Cycloserine</text>
<line x1="626.20" y1="360.80" x2="644.00" y2="360.80" stroke="#222" stroke-width="0.5"/>
<line x1="626.20" y1="360.80" x2="626.20" y2="363.20" stroke="#222" stroke-width="0.5"/>
<line x1="644.00" y1="360.80" x2="644.00" y2="363.20" stroke="#222" stroke-width="0.5"/>
<text x="635.30" y="361.00" font-size="3.8" text-anchor="middle" fill="#222" font-weight="bold" stroke="#222" stroke-width="0.16">*</text>
</svg></body></html>
